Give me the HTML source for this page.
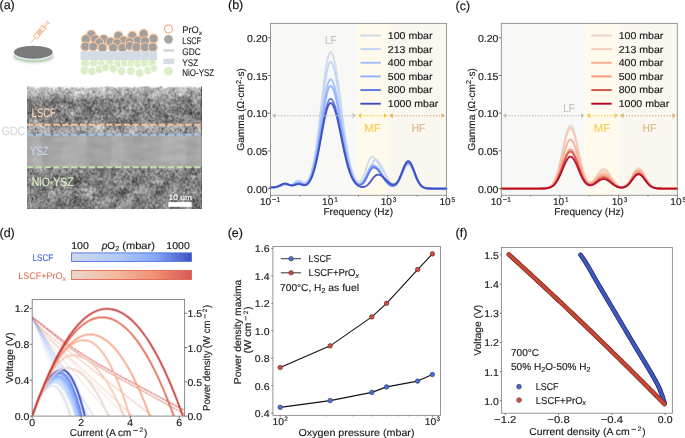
<!DOCTYPE html><html><head><meta charset="utf-8"><style>html,body{margin:0;padding:0;background:#fff;overflow:hidden}svg{display:block;will-change:transform}text{font-family:"Liberation Sans", sans-serif;text-rendering:geometricPrecision;stroke-width:0.15px;paint-order:stroke}</style></head><body>
<svg width="685" height="438" viewBox="0 0 685 438">
<defs>
<filter id="semnoise" x="0" y="0" width="100%" height="100%" color-interpolation-filters="sRGB">
 <feTurbulence type="fractalNoise" baseFrequency="0.38" numOctaves="3" seed="7" result="n"/>
 <feColorMatrix in="n" type="matrix" values="1 0 0 0 0  1 0 0 0 0  1 0 0 0 0  0 0 0 0 1" result="g"/>
 <feTurbulence type="fractalNoise" baseFrequency="0.09" numOctaves="2" seed="11" result="n2"/>
 <feColorMatrix in="n2" type="matrix" values="0 1 0 0 0  0 1 0 0 0  0 1 0 0 0  0 0 0 0 1" result="g2"/>
 <feComposite in="g" in2="SourceGraphic" operator="arithmetic" k1="0" k2="0.55" k3="1" k4="-0.275" result="a1"/>
 <feComposite in="g2" in2="a1" operator="arithmetic" k1="0" k2="0.5" k3="1" k4="-0.25"/>
</filter>
<filter id="semsmooth" x="0" y="0" width="100%" height="100%" color-interpolation-filters="sRGB">
 <feTurbulence type="fractalNoise" baseFrequency="0.06 0.16" numOctaves="3" seed="5" result="n"/>
 <feColorMatrix in="n" type="matrix" values="1 0 0 0 0  1 0 0 0 0  1 0 0 0 0  0 0 0 0 1" result="g"/>
 <feComposite in="g" in2="SourceGraphic" operator="arithmetic" k1="0" k2="0.16" k3="1" k4="-0.08"/>
</filter>
<filter id="blur06" x="-5%" y="-5%" width="110%" height="110%"><feGaussianBlur stdDeviation="1.0"/></filter>
<filter id="shadow" x="-20%" y="-50%" width="140%" height="200%"><feGaussianBlur stdDeviation="1.5"/></filter>
<linearGradient id="cbb" x1="0" x2="1" y1="0" y2="0">
 <stop offset="0" stop-color="#cdd8ec"/><stop offset="0.35" stop-color="#b4cdf9"/><stop offset="0.7" stop-color="#86a8f8"/><stop offset="1" stop-color="#3d4fc2"/>
</linearGradient>
<linearGradient id="cbr" x1="0" x2="1" y1="0" y2="0">
 <stop offset="0" stop-color="#ead6cc"/><stop offset="0.35" stop-color="#f4bca3"/><stop offset="0.7" stop-color="#ef8e72"/><stop offset="1" stop-color="#d6595a"/>
</linearGradient>
</defs>
<rect x="0" y="0" width="685" height="438" fill="#ffffff"/>
<text x="-0.5" y="9" font-size="12.5" text-anchor="start" fill="#111" stroke="#111">(a)</text>
<text x="228" y="9" font-size="12.5" text-anchor="start" fill="#111" stroke="#111">(b)</text>
<text x="455.5" y="10" font-size="12.5" text-anchor="start" fill="#111" stroke="#111">(c)</text>
<text x="-0.5" y="236.5" font-size="12.5" text-anchor="start" fill="#111" stroke="#111">(d)</text>
<text x="227.7" y="236.5" font-size="12.5" text-anchor="start" fill="#111" stroke="#111">(e)</text>
<text x="455.5" y="237" font-size="12.5" text-anchor="start" fill="#111" stroke="#111">(f)</text>
<ellipse cx="33.6" cy="56.5" rx="20" ry="6.2" fill="#000" opacity="0.22" filter="url(#shadow)"/>
<ellipse cx="33.3" cy="55.4" rx="19.2" ry="6.3" fill="#a9d18e"/>
<ellipse cx="33.3" cy="54.3" rx="19.3" ry="6.3" fill="#e2e8f3"/>
<ellipse cx="33.3" cy="52.2" rx="19.3" ry="6.5" fill="#7a7a7a"/>
<g transform="translate(30.4 43.2) rotate(-50)" stroke="#f0ad80" stroke-width="0.7" fill="none" stroke-linecap="round"><line x1="0" y1="0" x2="7.5" y2="0"/><rect x="7.5" y="-2.4" width="14" height="4.8" fill="#fdf0e6"/><rect x="11.5" y="-2.1" width="6" height="4.2" fill="#f6c6a4" stroke="none"/><line x1="21" y1="-3.4" x2="21" y2="3.4"/><line x1="21" y1="0.8" x2="27.5" y2="0.8"/><line x1="21" y1="-0.8" x2="27.5" y2="-0.8"/><line x1="27.5" y1="-2.2" x2="27.5" y2="2.2"/></g>
<circle cx="85.3" cy="63.5" r="4.4" fill="#dcedc8" stroke="#ffffff" stroke-width="0.8"/>
<circle cx="93.9" cy="62.8" r="4.3" fill="#dcedc8" stroke="#ffffff" stroke-width="0.8"/>
<circle cx="101.5" cy="63.8" r="4.3" fill="#dcedc8" stroke="#ffffff" stroke-width="0.8"/>
<circle cx="109.8" cy="62.8" r="4.4" fill="#dcedc8" stroke="#ffffff" stroke-width="0.8"/>
<circle cx="117.7" cy="63.5" r="4.3" fill="#dcedc8" stroke="#ffffff" stroke-width="0.8"/>
<circle cx="124.5" cy="62.8" r="4.2" fill="#dcedc8" stroke="#ffffff" stroke-width="0.8"/>
<circle cx="131.3" cy="63" r="4.4" fill="#dcedc8" stroke="#ffffff" stroke-width="0.8"/>
<circle cx="138" cy="63.5" r="4.2" fill="#dcedc8" stroke="#ffffff" stroke-width="0.8"/>
<circle cx="144.6" cy="62.8" r="4.4" fill="#dcedc8" stroke="#ffffff" stroke-width="0.8"/>
<circle cx="152.4" cy="63.3" r="4.2" fill="#dcedc8" stroke="#ffffff" stroke-width="0.8"/>
<circle cx="84.6" cy="70.6" r="4.4" fill="#dcedc8" stroke="#ffffff" stroke-width="0.8"/>
<circle cx="92.2" cy="71.4" r="4.4" fill="#dcedc8" stroke="#ffffff" stroke-width="0.8"/>
<circle cx="99.4" cy="69.4" r="4.3" fill="#dcedc8" stroke="#ffffff" stroke-width="0.8"/>
<circle cx="105.6" cy="67.6" r="4" fill="#dcedc8" stroke="#ffffff" stroke-width="0.8"/>
<circle cx="113.1" cy="68.8" r="4.3" fill="#dcedc8" stroke="#ffffff" stroke-width="0.8"/>
<circle cx="121.6" cy="71.2" r="4.4" fill="#dcedc8" stroke="#ffffff" stroke-width="0.8"/>
<circle cx="130.8" cy="71" r="4.4" fill="#dcedc8" stroke="#ffffff" stroke-width="0.8"/>
<circle cx="139.6" cy="73" r="4.4" fill="#dcedc8" stroke="#ffffff" stroke-width="0.8"/>
<circle cx="148.2" cy="70.4" r="4.4" fill="#dcedc8" stroke="#ffffff" stroke-width="0.8"/>
<circle cx="153.8" cy="68.5" r="3.8" fill="#dcedc8" stroke="#ffffff" stroke-width="0.8"/>
<circle cx="91.2" cy="34.6" r="4.45" fill="#a0a0a0" stroke="#f8c29a" stroke-width="1.2"/>
<circle cx="118.4" cy="35.9" r="4.45" fill="#a0a0a0" stroke="#f8c29a" stroke-width="1.2"/>
<circle cx="132.3" cy="35.9" r="4.45" fill="#a0a0a0" stroke="#f8c29a" stroke-width="1.2"/>
<circle cx="143.6" cy="33.9" r="4.45" fill="#a0a0a0" stroke="#f8c29a" stroke-width="1.2"/>
<circle cx="153.5" cy="38.6" r="4.45" fill="#a0a0a0" stroke="#f8c29a" stroke-width="1.2"/>
<circle cx="85.9" cy="39.2" r="4.45" fill="#a0a0a0" stroke="#f8c29a" stroke-width="1.2"/>
<circle cx="95.2" cy="39.2" r="4.45" fill="#a0a0a0" stroke="#f8c29a" stroke-width="1.2"/>
<circle cx="103.8" cy="39.2" r="4.45" fill="#a0a0a0" stroke="#f8c29a" stroke-width="1.2"/>
<circle cx="110.5" cy="41.9" r="4.45" fill="#a0a0a0" stroke="#f8c29a" stroke-width="1.2"/>
<circle cx="123.7" cy="40.5" r="4.45" fill="#a0a0a0" stroke="#f8c29a" stroke-width="1.2"/>
<circle cx="137.6" cy="40.5" r="4.45" fill="#a0a0a0" stroke="#f8c29a" stroke-width="1.2"/>
<circle cx="144.9" cy="41.2" r="4.45" fill="#a0a0a0" stroke="#f8c29a" stroke-width="1.2"/>
<circle cx="99.2" cy="42.5" r="4.45" fill="#a0a0a0" stroke="#f8c29a" stroke-width="1.2"/>
<circle cx="117" cy="43" r="4.45" fill="#a0a0a0" stroke="#f8c29a" stroke-width="1.2"/>
<circle cx="129.5" cy="42" r="4.45" fill="#a0a0a0" stroke="#f8c29a" stroke-width="1.2"/>
<circle cx="85.3" cy="46.5" r="4.45" fill="#a0a0a0" stroke="#f8c29a" stroke-width="1.2"/>
<circle cx="93.2" cy="46.5" r="4.45" fill="#a0a0a0" stroke="#f8c29a" stroke-width="1.2"/>
<circle cx="102.5" cy="47.8" r="4.45" fill="#a0a0a0" stroke="#f8c29a" stroke-width="1.2"/>
<circle cx="113.1" cy="47.8" r="4.45" fill="#a0a0a0" stroke="#f8c29a" stroke-width="1.2"/>
<circle cx="122.4" cy="47.8" r="4.45" fill="#a0a0a0" stroke="#f8c29a" stroke-width="1.2"/>
<circle cx="129.7" cy="45.8" r="4.45" fill="#a0a0a0" stroke="#f8c29a" stroke-width="1.2"/>
<circle cx="136.3" cy="47.2" r="4.45" fill="#a0a0a0" stroke="#f8c29a" stroke-width="1.2"/>
<circle cx="144.9" cy="47.2" r="4.45" fill="#a0a0a0" stroke="#f8c29a" stroke-width="1.2"/>
<circle cx="152.8" cy="47.2" r="4.45" fill="#a0a0a0" stroke="#f8c29a" stroke-width="1.2"/>
<rect x="80.6" y="51.1" width="76.5" height="8.9" fill="#d6dce5"/>
<circle cx="168.5" cy="28.9" r="4" fill="#ffffff" stroke="#f4b183" stroke-width="1.3"/>
<circle cx="168.5" cy="39.3" r="4.4" fill="#a6a6a6" stroke="none" stroke-width="0"/>
<rect x="163.4" y="49" width="11" height="2.8" fill="#d9d9d9"/>
<rect x="163.4" y="58.6" width="11" height="5.5" fill="#d6dce5"/>
<circle cx="168.5" cy="71.2" r="4.4" fill="#dcedc8" stroke="none" stroke-width="0"/>
<text x="182.3" y="33" font-size="9.6" text-anchor="start" fill="#262626" stroke="#262626" textLength="16.5" lengthAdjust="spacingAndGlyphs">PrO</text>
<text x="198.9" y="35" font-size="6.2" text-anchor="start" fill="#262626" stroke="#262626">x</text>
<text x="182.3" y="43.8" font-size="9.6" text-anchor="start" fill="#262626" stroke="#262626" textLength="18.8" lengthAdjust="spacingAndGlyphs">LSCF</text>
<text x="182.3" y="54.8" font-size="9.6" text-anchor="start" fill="#262626" stroke="#262626" textLength="18.3" lengthAdjust="spacingAndGlyphs">GDC</text>
<text x="182.3" y="65.5" font-size="9.6" text-anchor="start" fill="#262626" stroke="#262626" textLength="15.8" lengthAdjust="spacingAndGlyphs">YSZ</text>
<text x="182.3" y="76.2" font-size="9.6" text-anchor="start" fill="#262626" stroke="#262626" textLength="31.8" lengthAdjust="spacingAndGlyphs">NiO-YSZ</text>
<svg x="27" y="86.2" width="174.2" height="122.7" overflow="hidden">
<linearGradient id="semtop" x1="0" x2="0" y1="0" y2="1"><stop offset="0" stop-color="#bcbcbc"/><stop offset="0.6" stop-color="#ababab"/><stop offset="1" stop-color="#868686"/></linearGradient>
<g filter="url(#semnoise)">
<rect x="0" y="0" width="174.2" height="14" fill="url(#semtop)"/>
<rect x="0" y="14" width="174.2" height="24.3" fill="#828282"/>
<rect x="0" y="38.3" width="174.2" height="10.2" fill="#a4a4a4"/>
<rect x="0" y="81" width="174.2" height="42" fill="#818181"/>
</g>
<g filter="url(#semsmooth)">
<rect x="0" y="48.5" width="174.2" height="32.5" fill="#aaaaaa"/>
</g>
<g filter="url(#blur06)" opacity="0.4">
<polygon points="-4,48.5 5.32,48.5 6.84,81 -2.48,81" fill="#a8a8a8"/>
<polygon points="4.76,48.5 14.49,48.5 16.83,81 7.1,81" fill="#b6b6b6"/>
<polygon points="13.04,48.5 25.26,48.5 27.56,81 15.34,81" fill="#969696"/>
<polygon points="24.37,48.5 37.05,48.5 33.61,81 20.92,81" fill="#a4a4a4"/>
<polygon points="37.82,48.5 51.37,48.5 50.86,81 37.31,81" fill="#b0b0b0"/>
<polygon points="51.22,48.5 59.49,48.5 58.12,81 49.85,81" fill="#b5b5b5"/>
<polygon points="59.57,48.5 72.76,48.5 76.26,81 63.07,81" fill="#979797"/>
<polygon points="71.22,48.5 85.77,48.5 82.76,81 68.22,81" fill="#979797"/>
<polygon points="85.12,48.5 97.54,48.5 96.28,81 83.87,81" fill="#b5b5b5"/>
<polygon points="95.99,48.5 109.31,48.5 109.07,81 95.75,81" fill="#a5a5a5"/>
<polygon points="107.54,48.5 117.12,48.5 118.51,81 108.93,81" fill="#9a9a9a"/>
<polygon points="115.48,48.5 127.3,48.5 129.91,81 118.1,81" fill="#a2a2a2"/>
<polygon points="126.32,48.5 135.49,48.5 135.78,81 126.61,81" fill="#a8a8a8"/>
<polygon points="134.58,48.5 146.19,48.5 145.28,81 133.67,81" fill="#b5b5b5"/>
<polygon points="145.35,48.5 153.57,48.5 150.32,81 142.1,81" fill="#b5b5b5"/>
<polygon points="151.58,48.5 160.14,48.5 160.93,81 152.37,81" fill="#b7b7b7"/>
<polygon points="158.8,48.5 171.68,48.5 172.13,81 159.26,81" fill="#9d9d9d"/>
<polygon points="170.22,48.5 179.58,48.5 178.36,81 169,81" fill="#ababab"/>
</g>
<g>
<ellipse cx="104.04" cy="41.57" rx="0.46" ry="0.67" fill="#3a3a3a" opacity="0.63"/>
<ellipse cx="135.36" cy="42.25" rx="0.81" ry="1.28" fill="#3a3a3a" opacity="0.66"/>
<ellipse cx="166.93" cy="42.57" rx="0.99" ry="1.56" fill="#3a3a3a" opacity="0.54"/>
<ellipse cx="153.85" cy="43.41" rx="0.63" ry="0.85" fill="#3a3a3a" opacity="0.65"/>
<ellipse cx="28.27" cy="39.19" rx="0.88" ry="1.37" fill="#3a3a3a" opacity="0.49"/>
<ellipse cx="145.81" cy="39.02" rx="0.55" ry="0.89" fill="#3a3a3a" opacity="0.47"/>
<ellipse cx="29.72" cy="39.19" rx="0.6" ry="1.5" fill="#3a3a3a" opacity="0.69"/>
<ellipse cx="129.93" cy="43.29" rx="0.55" ry="1.56" fill="#3a3a3a" opacity="0.51"/>
<ellipse cx="126.92" cy="38.78" rx="0.53" ry="1.44" fill="#3a3a3a" opacity="0.62"/>
<ellipse cx="153.55" cy="44.51" rx="0.66" ry="1.18" fill="#3a3a3a" opacity="0.64"/>
<ellipse cx="53.65" cy="43.84" rx="0.57" ry="1.37" fill="#3a3a3a" opacity="0.3"/>
<ellipse cx="119.38" cy="48.04" rx="0.41" ry="1.19" fill="#3a3a3a" opacity="0.56"/>
<ellipse cx="148.36" cy="44.34" rx="0.55" ry="1.01" fill="#3a3a3a" opacity="0.68"/>
<ellipse cx="157.76" cy="39.84" rx="0.46" ry="0.69" fill="#3a3a3a" opacity="0.31"/>
<ellipse cx="77.84" cy="39.91" rx="0.92" ry="1.26" fill="#3a3a3a" opacity="0.35"/>
<ellipse cx="93.83" cy="41.74" rx="0.7" ry="0.82" fill="#3a3a3a" opacity="0.37"/>
<ellipse cx="32.04" cy="42.28" rx="0.83" ry="1.15" fill="#3a3a3a" opacity="0.32"/>
<ellipse cx="123.83" cy="47.24" rx="0.86" ry="1.39" fill="#3a3a3a" opacity="0.3"/>
<ellipse cx="80.81" cy="39.13" rx="0.86" ry="0.78" fill="#3a3a3a" opacity="0.58"/>
<ellipse cx="44.06" cy="45.47" rx="0.59" ry="0.64" fill="#3a3a3a" opacity="0.46"/>
<ellipse cx="53.9" cy="47.51" rx="0.58" ry="1.1" fill="#3a3a3a" opacity="0.52"/>
<ellipse cx="165.18" cy="39.49" rx="0.76" ry="1.11" fill="#3a3a3a" opacity="0.59"/>
<ellipse cx="168.47" cy="41.6" rx="0.82" ry="1.13" fill="#3a3a3a" opacity="0.52"/>
<ellipse cx="11.1" cy="46.65" rx="0.99" ry="0.96" fill="#3a3a3a" opacity="0.43"/>
<ellipse cx="173.02" cy="39.58" rx="0.45" ry="0.67" fill="#3a3a3a" opacity="0.63"/>
<ellipse cx="132.38" cy="42.98" rx="0.77" ry="0.62" fill="#3a3a3a" opacity="0.56"/>
<ellipse cx="77.11" cy="43.67" rx="0.63" ry="1" fill="#3a3a3a" opacity="0.39"/>
<ellipse cx="8.5" cy="42.84" rx="0.55" ry="1.3" fill="#3a3a3a" opacity="0.63"/>
<ellipse cx="126.08" cy="43.06" rx="0.54" ry="0.99" fill="#3a3a3a" opacity="0.49"/>
<ellipse cx="110.06" cy="48.13" rx="0.45" ry="1.08" fill="#3a3a3a" opacity="0.5"/>
<ellipse cx="124.93" cy="47.4" rx="0.87" ry="1.23" fill="#3a3a3a" opacity="0.6"/>
<ellipse cx="116.37" cy="47.09" rx="0.82" ry="1.28" fill="#3a3a3a" opacity="0.4"/>
<ellipse cx="159.69" cy="42.36" rx="0.77" ry="1.42" fill="#3a3a3a" opacity="0.69"/>
<ellipse cx="172.32" cy="38.56" rx="0.59" ry="0.91" fill="#3a3a3a" opacity="0.46"/>
<ellipse cx="25.33" cy="44.03" rx="0.45" ry="0.9" fill="#3a3a3a" opacity="0.68"/>
<ellipse cx="129.32" cy="25.1" rx="0.6" ry="1.36" fill="#2e2e2e" opacity="0.41"/>
<ellipse cx="35.85" cy="22.05" rx="1.08" ry="1.11" fill="#2e2e2e" opacity="0.28"/>
<ellipse cx="165.71" cy="21.73" rx="0.73" ry="1.26" fill="#2e2e2e" opacity="0.25"/>
<ellipse cx="118.66" cy="18.8" rx="1.04" ry="0.75" fill="#2e2e2e" opacity="0.31"/>
<ellipse cx="163.88" cy="25.21" rx="0.89" ry="1.06" fill="#2e2e2e" opacity="0.28"/>
<ellipse cx="30.37" cy="23.23" rx="0.75" ry="0.67" fill="#2e2e2e" opacity="0.49"/>
<ellipse cx="5.99" cy="33.45" rx="1.34" ry="1.13" fill="#2e2e2e" opacity="0.21"/>
<ellipse cx="87.31" cy="14.94" rx="1.05" ry="1.13" fill="#2e2e2e" opacity="0.27"/>
<ellipse cx="1.32" cy="27.07" rx="0.59" ry="0.78" fill="#2e2e2e" opacity="0.34"/>
<ellipse cx="155.81" cy="22.88" rx="0.62" ry="1.21" fill="#2e2e2e" opacity="0.45"/>
<ellipse cx="92.22" cy="15.18" rx="0.67" ry="0.86" fill="#2e2e2e" opacity="0.37"/>
<ellipse cx="39.22" cy="33.26" rx="1.26" ry="1.33" fill="#2e2e2e" opacity="0.47"/>
<ellipse cx="3.07" cy="27.97" rx="0.57" ry="1.31" fill="#2e2e2e" opacity="0.42"/>
<ellipse cx="132.27" cy="18.52" rx="0.55" ry="1.23" fill="#2e2e2e" opacity="0.38"/>
<ellipse cx="108.05" cy="25.31" rx="1.22" ry="0.8" fill="#2e2e2e" opacity="0.28"/>
<ellipse cx="61.51" cy="21.15" rx="1.06" ry="1.3" fill="#2e2e2e" opacity="0.22"/>
<ellipse cx="11.78" cy="26.28" rx="1.11" ry="0.67" fill="#2e2e2e" opacity="0.28"/>
<ellipse cx="10.24" cy="14.89" rx="0.95" ry="1.11" fill="#2e2e2e" opacity="0.4"/>
<ellipse cx="27.56" cy="16.5" rx="1.34" ry="0.98" fill="#2e2e2e" opacity="0.32"/>
<ellipse cx="120.35" cy="31.47" rx="0.97" ry="0.57" fill="#2e2e2e" opacity="0.45"/>
<ellipse cx="37.23" cy="14.97" rx="0.82" ry="0.98" fill="#2e2e2e" opacity="0.39"/>
<ellipse cx="30.33" cy="31.03" rx="0.94" ry="0.65" fill="#2e2e2e" opacity="0.46"/>
<ellipse cx="140.53" cy="35.75" rx="1.11" ry="0.7" fill="#2e2e2e" opacity="0.43"/>
<ellipse cx="157.26" cy="26.8" rx="1.32" ry="1.37" fill="#2e2e2e" opacity="0.32"/>
<ellipse cx="164.07" cy="36.48" rx="1.21" ry="0.51" fill="#2e2e2e" opacity="0.31"/>
<ellipse cx="106.89" cy="28.57" rx="1.18" ry="1.08" fill="#2e2e2e" opacity="0.25"/>
<ellipse cx="162.15" cy="26.87" rx="1.29" ry="0.69" fill="#2e2e2e" opacity="0.5"/>
<ellipse cx="96.66" cy="32.61" rx="1.17" ry="1.29" fill="#2e2e2e" opacity="0.31"/>
<ellipse cx="14.43" cy="23.73" rx="0.66" ry="0.99" fill="#2e2e2e" opacity="0.44"/>
<ellipse cx="63.1" cy="17.15" rx="0.52" ry="0.88" fill="#2e2e2e" opacity="0.37"/>
<ellipse cx="4.58" cy="29.97" rx="0.69" ry="0.6" fill="#2e2e2e" opacity="0.48"/>
<ellipse cx="91.11" cy="35.48" rx="0.96" ry="0.61" fill="#2e2e2e" opacity="0.27"/>
<ellipse cx="73.91" cy="29.38" rx="1.19" ry="1.18" fill="#2e2e2e" opacity="0.4"/>
<ellipse cx="44.06" cy="24.32" rx="0.84" ry="0.94" fill="#2e2e2e" opacity="0.28"/>
<ellipse cx="93.69" cy="25.01" rx="0.53" ry="1.24" fill="#2e2e2e" opacity="0.38"/>
<ellipse cx="139.84" cy="31.68" rx="1.16" ry="1.39" fill="#2e2e2e" opacity="0.31"/>
<ellipse cx="68.57" cy="14.09" rx="1.1" ry="1.02" fill="#2e2e2e" opacity="0.37"/>
<ellipse cx="173.79" cy="18.73" rx="0.7" ry="1.16" fill="#2e2e2e" opacity="0.44"/>
<ellipse cx="84.11" cy="15.32" rx="0.83" ry="1.24" fill="#2e2e2e" opacity="0.35"/>
<ellipse cx="80.39" cy="23.35" rx="1.07" ry="1.04" fill="#2e2e2e" opacity="0.41"/>
<ellipse cx="150.73" cy="32.03" rx="0.84" ry="0.73" fill="#2e2e2e" opacity="0.43"/>
<ellipse cx="138.13" cy="36.28" rx="0.68" ry="1.26" fill="#2e2e2e" opacity="0.47"/>
<ellipse cx="13.45" cy="21.39" rx="1.07" ry="0.63" fill="#2e2e2e" opacity="0.45"/>
<ellipse cx="46.14" cy="30.38" rx="0.77" ry="0.7" fill="#2e2e2e" opacity="0.26"/>
<ellipse cx="86.68" cy="31.11" rx="0.7" ry="1.12" fill="#2e2e2e" opacity="0.3"/>
<ellipse cx="113.1" cy="22.84" rx="0.67" ry="0.63" fill="#2e2e2e" opacity="0.22"/>
<ellipse cx="121.3" cy="23.93" rx="0.61" ry="1.29" fill="#2e2e2e" opacity="0.4"/>
<ellipse cx="3.69" cy="31.39" rx="1.04" ry="0.9" fill="#2e2e2e" opacity="0.35"/>
<ellipse cx="167.62" cy="22.97" rx="1.07" ry="1.07" fill="#2e2e2e" opacity="0.31"/>
<ellipse cx="60.34" cy="32.12" rx="1.07" ry="0.91" fill="#2e2e2e" opacity="0.35"/>
<ellipse cx="38.93" cy="32.95" rx="0.52" ry="1.08" fill="#2e2e2e" opacity="0.34"/>
<ellipse cx="38.57" cy="28.08" rx="1.02" ry="0.58" fill="#2e2e2e" opacity="0.35"/>
<ellipse cx="28.76" cy="33.18" rx="0.79" ry="0.8" fill="#2e2e2e" opacity="0.26"/>
<ellipse cx="8.38" cy="18.48" rx="0.64" ry="1.06" fill="#2e2e2e" opacity="0.45"/>
<ellipse cx="38.5" cy="16.68" rx="0.98" ry="0.6" fill="#2e2e2e" opacity="0.32"/>
<ellipse cx="132.54" cy="18.88" rx="1.13" ry="0.98" fill="#2e2e2e" opacity="0.23"/>
<ellipse cx="42.25" cy="28.39" rx="0.59" ry="0.68" fill="#2e2e2e" opacity="0.37"/>
<ellipse cx="142.51" cy="26.49" rx="1.1" ry="0.51" fill="#2e2e2e" opacity="0.29"/>
<ellipse cx="55.42" cy="35.92" rx="0.82" ry="1.21" fill="#2e2e2e" opacity="0.21"/>
<ellipse cx="86.83" cy="35.39" rx="1.19" ry="1.02" fill="#2e2e2e" opacity="0.25"/>
<ellipse cx="161.35" cy="15.91" rx="1.37" ry="1.2" fill="#2e2e2e" opacity="0.42"/>
<ellipse cx="92.44" cy="17.94" rx="0.81" ry="1.1" fill="#2e2e2e" opacity="0.4"/>
<ellipse cx="67.82" cy="33.23" rx="0.55" ry="0.76" fill="#2e2e2e" opacity="0.23"/>
<ellipse cx="56.58" cy="33.03" rx="1.18" ry="0.63" fill="#2e2e2e" opacity="0.29"/>
<ellipse cx="19.53" cy="29.89" rx="0.9" ry="0.71" fill="#2e2e2e" opacity="0.31"/>
<ellipse cx="150.72" cy="24.2" rx="1.12" ry="1.06" fill="#2e2e2e" opacity="0.34"/>
<ellipse cx="96.93" cy="22.73" rx="0.68" ry="0.94" fill="#2e2e2e" opacity="0.29"/>
<ellipse cx="57.5" cy="18.48" rx="1.32" ry="0.88" fill="#2e2e2e" opacity="0.26"/>
<ellipse cx="5.53" cy="19.14" rx="1.28" ry="0.8" fill="#2e2e2e" opacity="0.4"/>
<ellipse cx="40.15" cy="29.61" rx="0.91" ry="1.16" fill="#2e2e2e" opacity="0.36"/>
<ellipse cx="65.39" cy="20.72" rx="1.03" ry="1.25" fill="#2e2e2e" opacity="0.41"/>
<ellipse cx="83.64" cy="21.88" rx="1.3" ry="1.26" fill="#2e2e2e" opacity="0.24"/>
<ellipse cx="118.32" cy="32.53" rx="1.11" ry="1.37" fill="#2e2e2e" opacity="0.46"/>
<ellipse cx="42.86" cy="37.92" rx="0.79" ry="0.84" fill="#2e2e2e" opacity="0.49"/>
<ellipse cx="29.14" cy="23.49" rx="1.06" ry="0.75" fill="#2e2e2e" opacity="0.28"/>
<ellipse cx="138.35" cy="28.7" rx="1.17" ry="1.21" fill="#2e2e2e" opacity="0.46"/>
<ellipse cx="155.66" cy="33.76" rx="1.38" ry="0.95" fill="#2e2e2e" opacity="0.41"/>
<ellipse cx="89.52" cy="37.26" rx="1.09" ry="0.89" fill="#2e2e2e" opacity="0.4"/>
<ellipse cx="51.37" cy="17.11" rx="0.85" ry="0.62" fill="#2e2e2e" opacity="0.2"/>
<ellipse cx="16.12" cy="24.9" rx="1.19" ry="0.54" fill="#2e2e2e" opacity="0.39"/>
<ellipse cx="19.39" cy="26.25" rx="0.77" ry="0.9" fill="#2e2e2e" opacity="0.41"/>
<ellipse cx="72.02" cy="23.4" rx="1.16" ry="0.6" fill="#2e2e2e" opacity="0.3"/>
<ellipse cx="122.26" cy="34.04" rx="1.38" ry="0.73" fill="#2e2e2e" opacity="0.39"/>
<ellipse cx="54.46" cy="30.84" rx="1.26" ry="0.62" fill="#2e2e2e" opacity="0.3"/>
<ellipse cx="163.09" cy="22.46" rx="1.07" ry="1.24" fill="#2e2e2e" opacity="0.28"/>
<ellipse cx="136.48" cy="14.09" rx="0.81" ry="0.65" fill="#2e2e2e" opacity="0.3"/>
<ellipse cx="37.13" cy="14.61" rx="1.22" ry="0.66" fill="#2e2e2e" opacity="0.37"/>
<ellipse cx="96.54" cy="34.39" rx="1.26" ry="1.06" fill="#2e2e2e" opacity="0.25"/>
<ellipse cx="132.54" cy="16.34" rx="1.34" ry="0.78" fill="#2e2e2e" opacity="0.28"/>
<ellipse cx="37.73" cy="23.51" rx="1.21" ry="1.27" fill="#2e2e2e" opacity="0.42"/>
<ellipse cx="127.05" cy="19.86" rx="0.79" ry="0.77" fill="#2e2e2e" opacity="0.33"/>
<ellipse cx="152.33" cy="37.9" rx="0.58" ry="1.37" fill="#2e2e2e" opacity="0.48"/>
<ellipse cx="80.29" cy="30.63" rx="1.21" ry="0.67" fill="#2e2e2e" opacity="0.38"/>
<ellipse cx="171.01" cy="35.13" rx="1.32" ry="0.58" fill="#2e2e2e" opacity="0.41"/>
<ellipse cx="84.75" cy="35.82" rx="0.65" ry="0.99" fill="#2e2e2e" opacity="0.24"/>
<ellipse cx="140.12" cy="31.34" rx="0.53" ry="0.78" fill="#2e2e2e" opacity="0.24"/>
<ellipse cx="110.7" cy="29.12" rx="0.56" ry="1.36" fill="#2e2e2e" opacity="0.49"/>
<ellipse cx="76.77" cy="27.78" rx="0.83" ry="1.05" fill="#2e2e2e" opacity="0.32"/>
<ellipse cx="76.77" cy="31.99" rx="0.67" ry="0.77" fill="#2e2e2e" opacity="0.43"/>
<ellipse cx="39.19" cy="15.65" rx="1.32" ry="0.64" fill="#2e2e2e" opacity="0.32"/>
<ellipse cx="54.61" cy="20.28" rx="0.82" ry="0.98" fill="#2e2e2e" opacity="0.23"/>
<ellipse cx="92.89" cy="15.23" rx="0.57" ry="0.68" fill="#2e2e2e" opacity="0.27"/>
<ellipse cx="59.49" cy="20.99" rx="1.25" ry="1.09" fill="#2e2e2e" opacity="0.34"/>
<ellipse cx="134.37" cy="30.46" rx="0.78" ry="1.05" fill="#2e2e2e" opacity="0.42"/>
<ellipse cx="93.08" cy="32.06" rx="1.07" ry="1.34" fill="#2e2e2e" opacity="0.28"/>
<ellipse cx="116.99" cy="37.44" rx="0.98" ry="1.31" fill="#2e2e2e" opacity="0.23"/>
<ellipse cx="126.04" cy="20.37" rx="1.18" ry="0.88" fill="#2e2e2e" opacity="0.36"/>
<ellipse cx="43.29" cy="20.17" rx="1.28" ry="1.08" fill="#2e2e2e" opacity="0.39"/>
<ellipse cx="20.16" cy="21.03" rx="1.37" ry="0.68" fill="#2e2e2e" opacity="0.36"/>
<ellipse cx="121.34" cy="26.25" rx="1" ry="1.37" fill="#2e2e2e" opacity="0.43"/>
<ellipse cx="41.29" cy="24.33" rx="0.88" ry="1.12" fill="#2e2e2e" opacity="0.4"/>
<ellipse cx="45.46" cy="30.62" rx="0.89" ry="0.51" fill="#2e2e2e" opacity="0.29"/>
<ellipse cx="65.65" cy="18.73" rx="1.1" ry="1.39" fill="#2e2e2e" opacity="0.48"/>
<ellipse cx="109.68" cy="34.57" rx="0.94" ry="1.03" fill="#2e2e2e" opacity="0.47"/>
<ellipse cx="10.4" cy="22.7" rx="0.84" ry="0.81" fill="#2e2e2e" opacity="0.33"/>
<ellipse cx="9.96" cy="30.3" rx="1.36" ry="0.71" fill="#2e2e2e" opacity="0.26"/>
<ellipse cx="58.3" cy="33.12" rx="0.7" ry="1.19" fill="#2e2e2e" opacity="0.25"/>
<ellipse cx="103.66" cy="31.31" rx="1.11" ry="0.58" fill="#2e2e2e" opacity="0.49"/>
<ellipse cx="147.72" cy="25.54" rx="1.27" ry="1.04" fill="#2e2e2e" opacity="0.25"/>
<ellipse cx="69.14" cy="33.7" rx="0.92" ry="0.54" fill="#2e2e2e" opacity="0.25"/>
<ellipse cx="32.44" cy="23.1" rx="0.79" ry="0.67" fill="#e8e8e8" opacity="0.46"/>
<ellipse cx="167.72" cy="14.34" rx="0.8" ry="0.52" fill="#e8e8e8" opacity="0.51"/>
<ellipse cx="31.29" cy="6.08" rx="0.6" ry="0.47" fill="#e8e8e8" opacity="0.45"/>
<ellipse cx="113.73" cy="21.77" rx="0.88" ry="0.69" fill="#e8e8e8" opacity="0.33"/>
<ellipse cx="126.71" cy="16.47" rx="0.85" ry="0.99" fill="#e8e8e8" opacity="0.51"/>
<ellipse cx="43.62" cy="14.88" rx="0.7" ry="0.59" fill="#e8e8e8" opacity="0.34"/>
<ellipse cx="69.41" cy="25.62" rx="0.89" ry="0.86" fill="#e8e8e8" opacity="0.65"/>
<ellipse cx="139.59" cy="16.81" rx="0.79" ry="0.43" fill="#e8e8e8" opacity="0.62"/>
<ellipse cx="123.33" cy="11.55" rx="0.68" ry="0.56" fill="#e8e8e8" opacity="0.62"/>
<ellipse cx="74.33" cy="30.11" rx="0.95" ry="0.87" fill="#e8e8e8" opacity="0.45"/>
<ellipse cx="59.65" cy="36.05" rx="0.94" ry="0.51" fill="#e8e8e8" opacity="0.44"/>
<ellipse cx="137.29" cy="29.23" rx="0.57" ry="0.67" fill="#e8e8e8" opacity="0.68"/>
<ellipse cx="15.71" cy="11.87" rx="0.8" ry="0.94" fill="#e8e8e8" opacity="0.68"/>
<ellipse cx="81.77" cy="30.45" rx="0.98" ry="0.6" fill="#e8e8e8" opacity="0.39"/>
<ellipse cx="45.22" cy="30.17" rx="0.48" ry="0.73" fill="#e8e8e8" opacity="0.67"/>
<ellipse cx="35.02" cy="24.64" rx="0.72" ry="0.98" fill="#e8e8e8" opacity="0.51"/>
<ellipse cx="85.51" cy="34.53" rx="0.85" ry="0.49" fill="#e8e8e8" opacity="0.62"/>
<ellipse cx="69.53" cy="36.87" rx="0.98" ry="0.7" fill="#e8e8e8" opacity="0.47"/>
<ellipse cx="39.54" cy="11.94" rx="0.52" ry="0.5" fill="#e8e8e8" opacity="0.59"/>
<ellipse cx="8.95" cy="23.56" rx="0.76" ry="0.84" fill="#e8e8e8" opacity="0.53"/>
<ellipse cx="161.53" cy="12.13" rx="0.46" ry="0.75" fill="#e8e8e8" opacity="0.41"/>
<ellipse cx="172.13" cy="35.18" rx="0.81" ry="0.9" fill="#e8e8e8" opacity="0.4"/>
<ellipse cx="84.48" cy="15.78" rx="0.61" ry="0.62" fill="#e8e8e8" opacity="0.49"/>
<ellipse cx="113.93" cy="2.91" rx="0.72" ry="0.48" fill="#e8e8e8" opacity="0.69"/>
<ellipse cx="96.12" cy="23.21" rx="0.59" ry="0.82" fill="#e8e8e8" opacity="0.58"/>
<ellipse cx="158.54" cy="22.9" rx="0.56" ry="0.78" fill="#e8e8e8" opacity="0.32"/>
<ellipse cx="129.61" cy="13.04" rx="0.83" ry="0.48" fill="#e8e8e8" opacity="0.54"/>
<ellipse cx="29.45" cy="3.32" rx="0.56" ry="0.91" fill="#e8e8e8" opacity="0.46"/>
<ellipse cx="91.08" cy="30.45" rx="0.99" ry="0.56" fill="#e8e8e8" opacity="0.58"/>
<ellipse cx="136.19" cy="30.58" rx="0.61" ry="0.68" fill="#e8e8e8" opacity="0.61"/>
<ellipse cx="43.69" cy="19.49" rx="0.78" ry="0.91" fill="#e8e8e8" opacity="0.4"/>
<ellipse cx="115.9" cy="9.82" rx="0.49" ry="0.69" fill="#e8e8e8" opacity="0.56"/>
<ellipse cx="111.51" cy="36.13" rx="0.5" ry="0.72" fill="#e8e8e8" opacity="0.49"/>
<ellipse cx="45.09" cy="35.04" rx="0.49" ry="0.56" fill="#e8e8e8" opacity="0.32"/>
<ellipse cx="112.12" cy="25.68" rx="0.53" ry="0.95" fill="#e8e8e8" opacity="0.55"/>
<ellipse cx="35.12" cy="35.9" rx="0.91" ry="0.59" fill="#e8e8e8" opacity="0.65"/>
<ellipse cx="22.7" cy="14.52" rx="0.65" ry="0.97" fill="#e8e8e8" opacity="0.42"/>
<ellipse cx="67.2" cy="9.46" rx="0.89" ry="0.51" fill="#e8e8e8" opacity="0.64"/>
<ellipse cx="59.38" cy="21.8" rx="0.93" ry="0.56" fill="#e8e8e8" opacity="0.51"/>
<ellipse cx="110.78" cy="22.8" rx="0.64" ry="0.79" fill="#e8e8e8" opacity="0.43"/>
<ellipse cx="27.01" cy="2.32" rx="0.76" ry="0.74" fill="#e8e8e8" opacity="0.62"/>
<ellipse cx="27.31" cy="26.22" rx="0.67" ry="0.72" fill="#e8e8e8" opacity="0.63"/>
<ellipse cx="90.42" cy="17.68" rx="0.79" ry="0.49" fill="#e8e8e8" opacity="0.65"/>
<ellipse cx="90.13" cy="3.53" rx="0.69" ry="0.97" fill="#e8e8e8" opacity="0.69"/>
<ellipse cx="74.26" cy="11.56" rx="0.96" ry="0.57" fill="#e8e8e8" opacity="0.31"/>
<ellipse cx="43.04" cy="18.94" rx="0.8" ry="0.44" fill="#e8e8e8" opacity="0.43"/>
<ellipse cx="126.76" cy="14.4" rx="0.51" ry="0.83" fill="#e8e8e8" opacity="0.47"/>
<ellipse cx="121.07" cy="19.43" rx="0.89" ry="0.71" fill="#e8e8e8" opacity="0.69"/>
<ellipse cx="141.64" cy="27.98" rx="0.69" ry="0.77" fill="#e8e8e8" opacity="0.45"/>
<ellipse cx="13.3" cy="33.85" rx="0.88" ry="0.86" fill="#e8e8e8" opacity="0.64"/>
<ellipse cx="95.97" cy="37.8" rx="0.68" ry="0.99" fill="#e8e8e8" opacity="0.33"/>
<ellipse cx="65.92" cy="22.56" rx="0.89" ry="0.71" fill="#e8e8e8" opacity="0.62"/>
<ellipse cx="65.11" cy="26.37" rx="0.88" ry="0.76" fill="#e8e8e8" opacity="0.31"/>
<ellipse cx="114.44" cy="2" rx="0.58" ry="0.47" fill="#e8e8e8" opacity="0.61"/>
<ellipse cx="29.32" cy="27.89" rx="0.44" ry="0.52" fill="#e8e8e8" opacity="0.58"/>
<ellipse cx="161.06" cy="4.58" rx="0.77" ry="0.64" fill="#e8e8e8" opacity="0.55"/>
<ellipse cx="13.46" cy="2.6" rx="0.45" ry="0.93" fill="#e8e8e8" opacity="0.5"/>
<ellipse cx="106.7" cy="6.8" rx="0.81" ry="0.94" fill="#e8e8e8" opacity="0.38"/>
<ellipse cx="135.98" cy="32.55" rx="1" ry="0.74" fill="#e8e8e8" opacity="0.56"/>
<ellipse cx="60.08" cy="30.11" rx="0.59" ry="0.77" fill="#e8e8e8" opacity="0.55"/>
<ellipse cx="172.34" cy="30.34" rx="0.46" ry="0.51" fill="#e8e8e8" opacity="0.44"/>
<ellipse cx="69.04" cy="27.8" rx="0.56" ry="0.74" fill="#e8e8e8" opacity="0.48"/>
<ellipse cx="53.17" cy="25.13" rx="0.66" ry="0.99" fill="#e8e8e8" opacity="0.35"/>
<ellipse cx="156.58" cy="24.94" rx="0.68" ry="0.45" fill="#e8e8e8" opacity="0.56"/>
<ellipse cx="139.93" cy="14.59" rx="0.83" ry="0.72" fill="#e8e8e8" opacity="0.34"/>
<ellipse cx="149.7" cy="13.23" rx="0.69" ry="0.86" fill="#e8e8e8" opacity="0.65"/>
<ellipse cx="148.75" cy="15.23" rx="0.91" ry="0.49" fill="#e8e8e8" opacity="0.52"/>
<ellipse cx="75.33" cy="33.18" rx="0.83" ry="0.8" fill="#e8e8e8" opacity="0.62"/>
<ellipse cx="60.56" cy="17.99" rx="0.46" ry="0.61" fill="#e8e8e8" opacity="0.38"/>
<ellipse cx="127.4" cy="6.66" rx="0.95" ry="0.76" fill="#e8e8e8" opacity="0.48"/>
<ellipse cx="20.78" cy="18.08" rx="0.74" ry="0.49" fill="#e8e8e8" opacity="0.69"/>
<ellipse cx="62.86" cy="17.64" rx="0.57" ry="0.62" fill="#e8e8e8" opacity="0.41"/>
<ellipse cx="148.78" cy="4.58" rx="0.62" ry="0.76" fill="#e8e8e8" opacity="0.49"/>
<ellipse cx="56.51" cy="19.43" rx="0.44" ry="0.58" fill="#e8e8e8" opacity="0.47"/>
<ellipse cx="133.56" cy="17.49" rx="0.65" ry="0.79" fill="#e8e8e8" opacity="0.41"/>
<ellipse cx="95.84" cy="9.01" rx="0.77" ry="0.72" fill="#e8e8e8" opacity="0.56"/>
<ellipse cx="152.38" cy="30.62" rx="0.99" ry="0.54" fill="#e8e8e8" opacity="0.68"/>
<ellipse cx="77.48" cy="15.2" rx="0.67" ry="0.95" fill="#e8e8e8" opacity="0.68"/>
<ellipse cx="140.23" cy="12.85" rx="0.47" ry="0.52" fill="#e8e8e8" opacity="0.57"/>
<ellipse cx="122.32" cy="4.36" rx="0.4" ry="1" fill="#e8e8e8" opacity="0.44"/>
<ellipse cx="7.27" cy="18.76" rx="0.46" ry="0.89" fill="#e8e8e8" opacity="0.51"/>
<ellipse cx="106.65" cy="35.38" rx="0.47" ry="0.53" fill="#e8e8e8" opacity="0.61"/>
<ellipse cx="105.78" cy="17.78" rx="0.61" ry="0.77" fill="#e8e8e8" opacity="0.68"/>
<ellipse cx="165.25" cy="35.03" rx="0.99" ry="0.48" fill="#e8e8e8" opacity="0.31"/>
<ellipse cx="144.45" cy="10.9" rx="0.71" ry="0.68" fill="#e8e8e8" opacity="0.69"/>
<ellipse cx="77.11" cy="6.85" rx="0.52" ry="0.94" fill="#e8e8e8" opacity="0.63"/>
<ellipse cx="24.35" cy="36.69" rx="0.62" ry="0.84" fill="#e8e8e8" opacity="0.53"/>
<ellipse cx="149.47" cy="19.62" rx="0.42" ry="0.73" fill="#e8e8e8" opacity="0.64"/>
<ellipse cx="71.56" cy="31.75" rx="0.67" ry="0.62" fill="#e8e8e8" opacity="0.44"/>
<ellipse cx="39.81" cy="20.02" rx="0.98" ry="0.75" fill="#e8e8e8" opacity="0.61"/>
<ellipse cx="31.24" cy="97.15" rx="1.14" ry="0.92" fill="#2e2e2e" opacity="0.39"/>
<ellipse cx="160.15" cy="82.37" rx="1.37" ry="0.7" fill="#d8d8d8" opacity="0.3"/>
<ellipse cx="104.76" cy="112.31" rx="1.52" ry="1.27" fill="#d8d8d8" opacity="0.31"/>
<ellipse cx="68.04" cy="103.43" rx="0.91" ry="1.16" fill="#d8d8d8" opacity="0.36"/>
<ellipse cx="17.6" cy="103.61" rx="0.62" ry="0.86" fill="#2e2e2e" opacity="0.52"/>
<ellipse cx="78.95" cy="110.88" rx="0.94" ry="0.59" fill="#2e2e2e" opacity="0.21"/>
<ellipse cx="22.1" cy="122.28" rx="0.54" ry="1.29" fill="#d8d8d8" opacity="0.43"/>
<ellipse cx="164.95" cy="119.58" rx="0.94" ry="0.96" fill="#d8d8d8" opacity="0.43"/>
<ellipse cx="143.04" cy="88.1" rx="1.54" ry="0.62" fill="#2e2e2e" opacity="0.39"/>
<ellipse cx="102.93" cy="85.72" rx="0.77" ry="0.89" fill="#2e2e2e" opacity="0.45"/>
<ellipse cx="5.8" cy="84.94" rx="0.75" ry="0.91" fill="#2e2e2e" opacity="0.53"/>
<ellipse cx="42.54" cy="103.01" rx="0.97" ry="1.37" fill="#2e2e2e" opacity="0.25"/>
<ellipse cx="12.11" cy="99.81" rx="1.59" ry="0.51" fill="#2e2e2e" opacity="0.54"/>
<ellipse cx="17.92" cy="121.84" rx="1.56" ry="0.99" fill="#2e2e2e" opacity="0.41"/>
<ellipse cx="8.29" cy="100.36" rx="0.8" ry="0.69" fill="#2e2e2e" opacity="0.28"/>
<ellipse cx="130.57" cy="119.5" rx="1.31" ry="1.43" fill="#d8d8d8" opacity="0.43"/>
<ellipse cx="91.77" cy="91.41" rx="1.51" ry="0.51" fill="#d8d8d8" opacity="0.3"/>
<ellipse cx="156.64" cy="106.9" rx="1" ry="0.74" fill="#d8d8d8" opacity="0.52"/>
<ellipse cx="155.87" cy="109.33" rx="0.87" ry="1.16" fill="#d8d8d8" opacity="0.42"/>
<ellipse cx="98.33" cy="102.22" rx="0.55" ry="1.5" fill="#2e2e2e" opacity="0.27"/>
<ellipse cx="58.38" cy="85.5" rx="0.87" ry="0.67" fill="#d8d8d8" opacity="0.38"/>
<ellipse cx="94.87" cy="85.66" rx="1.12" ry="0.93" fill="#2e2e2e" opacity="0.42"/>
<ellipse cx="86.15" cy="97.33" rx="1.39" ry="1.15" fill="#2e2e2e" opacity="0.23"/>
<ellipse cx="143.22" cy="82.92" rx="1.48" ry="0.7" fill="#d8d8d8" opacity="0.32"/>
<ellipse cx="74.55" cy="105.52" rx="1.45" ry="0.69" fill="#2e2e2e" opacity="0.48"/>
<ellipse cx="44.65" cy="94.49" rx="1.46" ry="1.47" fill="#2e2e2e" opacity="0.32"/>
<ellipse cx="59.72" cy="86.28" rx="1.42" ry="0.55" fill="#2e2e2e" opacity="0.22"/>
<ellipse cx="33.35" cy="107.28" rx="0.89" ry="0.63" fill="#d8d8d8" opacity="0.44"/>
<ellipse cx="149.63" cy="85.11" rx="1.01" ry="1.58" fill="#2e2e2e" opacity="0.39"/>
<ellipse cx="49.64" cy="89.39" rx="0.91" ry="1.32" fill="#d8d8d8" opacity="0.43"/>
<ellipse cx="132.63" cy="100.53" rx="0.55" ry="1.11" fill="#2e2e2e" opacity="0.3"/>
<ellipse cx="129.62" cy="102.41" rx="0.75" ry="1.27" fill="#2e2e2e" opacity="0.27"/>
<ellipse cx="67.93" cy="114.54" rx="1.12" ry="0.71" fill="#d8d8d8" opacity="0.49"/>
<ellipse cx="167.67" cy="82.97" rx="0.56" ry="1.05" fill="#2e2e2e" opacity="0.22"/>
<ellipse cx="76.16" cy="100.97" rx="1.57" ry="0.69" fill="#2e2e2e" opacity="0.2"/>
<ellipse cx="31.69" cy="103.58" rx="1.34" ry="1.33" fill="#d8d8d8" opacity="0.38"/>
<ellipse cx="81.07" cy="119.12" rx="1.2" ry="0.66" fill="#d8d8d8" opacity="0.42"/>
<ellipse cx="72.13" cy="122.21" rx="1.56" ry="1.4" fill="#2e2e2e" opacity="0.3"/>
<ellipse cx="126.3" cy="96.31" rx="1.31" ry="1.21" fill="#d8d8d8" opacity="0.47"/>
<ellipse cx="66.34" cy="85.51" rx="1.34" ry="0.64" fill="#d8d8d8" opacity="0.54"/>
<ellipse cx="29.88" cy="89.42" rx="1.28" ry="0.61" fill="#2e2e2e" opacity="0.52"/>
<ellipse cx="110.93" cy="115.39" rx="0.56" ry="1.17" fill="#2e2e2e" opacity="0.51"/>
<ellipse cx="137.16" cy="97.36" rx="1.17" ry="1.24" fill="#2e2e2e" opacity="0.53"/>
<ellipse cx="73.86" cy="117.58" rx="1.32" ry="0.78" fill="#2e2e2e" opacity="0.29"/>
<ellipse cx="5.38" cy="112.2" rx="0.74" ry="1.29" fill="#2e2e2e" opacity="0.55"/>
<ellipse cx="31.4" cy="98.97" rx="1.37" ry="0.99" fill="#2e2e2e" opacity="0.33"/>
<ellipse cx="42.41" cy="98.19" rx="0.79" ry="0.91" fill="#d8d8d8" opacity="0.42"/>
<ellipse cx="23.57" cy="106.51" rx="0.6" ry="0.89" fill="#d8d8d8" opacity="0.41"/>
<ellipse cx="59.49" cy="91.07" rx="1.29" ry="1.16" fill="#2e2e2e" opacity="0.31"/>
<ellipse cx="11.45" cy="100.61" rx="1.03" ry="1.59" fill="#2e2e2e" opacity="0.28"/>
<ellipse cx="129.52" cy="112.42" rx="1.15" ry="1.19" fill="#2e2e2e" opacity="0.21"/>
<ellipse cx="35.4" cy="114.15" rx="0.68" ry="1.2" fill="#d8d8d8" opacity="0.49"/>
<ellipse cx="43.52" cy="96.09" rx="0.54" ry="1.54" fill="#2e2e2e" opacity="0.39"/>
<ellipse cx="17.7" cy="95.68" rx="1.55" ry="0.79" fill="#2e2e2e" opacity="0.3"/>
<ellipse cx="151.37" cy="113.03" rx="0.66" ry="0.99" fill="#2e2e2e" opacity="0.4"/>
<ellipse cx="164.32" cy="103.3" rx="0.86" ry="0.99" fill="#d8d8d8" opacity="0.44"/>
<ellipse cx="110.16" cy="117.33" rx="1.09" ry="0.73" fill="#d8d8d8" opacity="0.45"/>
<ellipse cx="27.54" cy="100.89" rx="1.44" ry="1.13" fill="#2e2e2e" opacity="0.52"/>
<ellipse cx="91.7" cy="95.61" rx="0.97" ry="1.08" fill="#2e2e2e" opacity="0.28"/>
<ellipse cx="131.63" cy="112.76" rx="1.18" ry="0.82" fill="#d8d8d8" opacity="0.48"/>
<ellipse cx="82.53" cy="84.48" rx="0.68" ry="0.55" fill="#d8d8d8" opacity="0.47"/>
<ellipse cx="94.41" cy="99.83" rx="0.88" ry="0.79" fill="#d8d8d8" opacity="0.44"/>
<ellipse cx="95.61" cy="87.46" rx="1.59" ry="1.3" fill="#d8d8d8" opacity="0.46"/>
<ellipse cx="137.85" cy="118.76" rx="0.94" ry="1.15" fill="#d8d8d8" opacity="0.22"/>
<ellipse cx="29.38" cy="93.41" rx="0.87" ry="1.16" fill="#d8d8d8" opacity="0.52"/>
<ellipse cx="58.81" cy="114.36" rx="0.91" ry="1.26" fill="#2e2e2e" opacity="0.52"/>
<ellipse cx="54.33" cy="85.58" rx="1.56" ry="1.07" fill="#d8d8d8" opacity="0.38"/>
<ellipse cx="149.74" cy="88.16" rx="0.85" ry="1.4" fill="#d8d8d8" opacity="0.42"/>
<ellipse cx="143.69" cy="100.27" rx="0.84" ry="1.28" fill="#d8d8d8" opacity="0.54"/>
<ellipse cx="53.96" cy="101.92" rx="0.91" ry="0.66" fill="#d8d8d8" opacity="0.47"/>
<ellipse cx="20.27" cy="89.49" rx="1.09" ry="0.66" fill="#d8d8d8" opacity="0.26"/>
<ellipse cx="11.22" cy="110.94" rx="0.81" ry="0.74" fill="#2e2e2e" opacity="0.55"/>
<ellipse cx="131.2" cy="121.24" rx="1.53" ry="1.08" fill="#2e2e2e" opacity="0.53"/>
<ellipse cx="88.26" cy="86.05" rx="1.06" ry="0.7" fill="#d8d8d8" opacity="0.42"/>
<ellipse cx="71.49" cy="87.15" rx="0.69" ry="1.16" fill="#d8d8d8" opacity="0.28"/>
<ellipse cx="36.15" cy="99.47" rx="0.97" ry="0.7" fill="#d8d8d8" opacity="0.38"/>
<ellipse cx="62.78" cy="102.67" rx="0.77" ry="0.69" fill="#d8d8d8" opacity="0.29"/>
<ellipse cx="50.21" cy="109.12" rx="1.58" ry="1.27" fill="#d8d8d8" opacity="0.41"/>
<ellipse cx="140.27" cy="116.39" rx="1.16" ry="0.75" fill="#d8d8d8" opacity="0.29"/>
<ellipse cx="40.18" cy="95.48" rx="0.65" ry="0.62" fill="#2e2e2e" opacity="0.34"/>
<ellipse cx="110.38" cy="112.02" rx="1.45" ry="0.94" fill="#2e2e2e" opacity="0.47"/>
<ellipse cx="149.01" cy="108.1" rx="1.6" ry="1.32" fill="#d8d8d8" opacity="0.4"/>
<ellipse cx="91.47" cy="108.59" rx="0.6" ry="0.91" fill="#d8d8d8" opacity="0.31"/>
<ellipse cx="1.44" cy="83.81" rx="1.48" ry="0.8" fill="#2e2e2e" opacity="0.37"/>
<ellipse cx="35.57" cy="102.63" rx="1.4" ry="1.45" fill="#2e2e2e" opacity="0.39"/>
<ellipse cx="103.97" cy="91.9" rx="0.93" ry="1.32" fill="#d8d8d8" opacity="0.3"/>
<ellipse cx="6.49" cy="121.33" rx="0.85" ry="0.75" fill="#2e2e2e" opacity="0.3"/>
<ellipse cx="63.73" cy="93.56" rx="1.33" ry="0.9" fill="#d8d8d8" opacity="0.44"/>
<ellipse cx="144.72" cy="103.75" rx="0.81" ry="1.26" fill="#d8d8d8" opacity="0.34"/>
<ellipse cx="167.74" cy="111.92" rx="1.49" ry="0.87" fill="#d8d8d8" opacity="0.43"/>
<ellipse cx="75.56" cy="105.88" rx="0.93" ry="1.12" fill="#d8d8d8" opacity="0.45"/>
<ellipse cx="166.23" cy="121.98" rx="1.39" ry="0.97" fill="#2e2e2e" opacity="0.47"/>
<ellipse cx="145.49" cy="119.95" rx="0.62" ry="1.5" fill="#2e2e2e" opacity="0.54"/>
<ellipse cx="165.36" cy="101.8" rx="0.55" ry="0.76" fill="#2e2e2e" opacity="0.49"/>
<ellipse cx="27.6" cy="95.81" rx="0.77" ry="0.91" fill="#2e2e2e" opacity="0.29"/>
<ellipse cx="97.86" cy="106.93" rx="1.57" ry="0.99" fill="#2e2e2e" opacity="0.41"/>
<ellipse cx="93.43" cy="92.73" rx="1.45" ry="0.53" fill="#d8d8d8" opacity="0.27"/>
<ellipse cx="7.38" cy="111.52" rx="1.01" ry="1.33" fill="#d8d8d8" opacity="0.53"/>
<ellipse cx="112.52" cy="88.45" rx="1.43" ry="0.58" fill="#d8d8d8" opacity="0.42"/>
<ellipse cx="162.02" cy="112.46" rx="1.51" ry="1.59" fill="#2e2e2e" opacity="0.29"/>
<ellipse cx="17.56" cy="83.08" rx="1.3" ry="1.43" fill="#d8d8d8" opacity="0.51"/>
<ellipse cx="39.61" cy="83.5" rx="0.75" ry="1.6" fill="#2e2e2e" opacity="0.37"/>
<ellipse cx="94.84" cy="82.65" rx="1.18" ry="0.81" fill="#d8d8d8" opacity="0.28"/>
<ellipse cx="64.27" cy="117.44" rx="0.59" ry="1.37" fill="#d8d8d8" opacity="0.35"/>
<ellipse cx="26.83" cy="103.43" rx="1.07" ry="0.98" fill="#2e2e2e" opacity="0.26"/>
<ellipse cx="158.69" cy="104.9" rx="0.61" ry="1.12" fill="#2e2e2e" opacity="0.54"/>
<ellipse cx="129.37" cy="116.51" rx="1.08" ry="0.69" fill="#2e2e2e" opacity="0.25"/>
<ellipse cx="14.15" cy="101.02" rx="0.54" ry="0.64" fill="#2e2e2e" opacity="0.3"/>
<ellipse cx="88.93" cy="119.11" rx="1.12" ry="1.04" fill="#2e2e2e" opacity="0.52"/>
<ellipse cx="173.16" cy="83.72" rx="1.26" ry="0.85" fill="#d8d8d8" opacity="0.38"/>
</g>
<polygon points="0,0 0,0.52 2.31,0.87 4.77,0.15 7.98,2.02 12.38,1.68 15.05,1.18 17.88,0.38 20.19,0.47 24.98,1.82 29.4,1.76 31.98,0.68 35.86,1.61 40.42,1.94 42.68,1.33 46.7,1.11 49.23,1.04 51.5,2.06 56.1,1.2 59,2 62.71,1.94 67.26,1.12 70.5,1.32 73.79,0.35 76.71,1.79 78.84,0.1 82.72,0.62 86.32,1.04 89.35,2.19 91.94,0.91 94.54,1.39 97.37,0.78 101.61,0.71 105.29,1.99 107.59,0.14 110.28,1.68 114.12,0.52 117.12,0.39 120.5,0.09 124.59,1.97 129.45,1.62 134.33,0.04 137.2,2.13 141.52,0.9 146.35,1.37 150.81,0.65 153.38,0.98 155.79,0.84 160.68,0.73 162.7,0.1 165.21,1.72 168.3,0.64 170.59,2.16 173.86,0.46 174.2,0" fill="#ffffff" opacity="0.85"/>
</svg>
<line x1="27" y1="124.8" x2="201.2" y2="124.8" stroke="#f8c19a" stroke-width="2" stroke-dasharray="6.2 2.6"/>
<line x1="27" y1="134.7" x2="201.2" y2="134.7" stroke="#a9c2ea" stroke-width="2" stroke-dasharray="6.2 2.6"/>
<line x1="27" y1="167.2" x2="201.2" y2="167.2" stroke="#bfe0a6" stroke-width="2" stroke-dasharray="6.2 2.6"/>
<text x="31.6" y="117" font-size="12.4" text-anchor="start" fill="#f9d3b8" stroke="#f9d3b8" textLength="24.3" lengthAdjust="spacingAndGlyphs">LSCF</text>
<text x="1.6" y="134.9" font-size="12" text-anchor="start" fill="#d9d9d9" stroke="#d9d9d9" textLength="23.7" lengthAdjust="spacingAndGlyphs">GDC</text>
<text x="30.1" y="154.7" font-size="12" text-anchor="start" fill="#c9d5ec" stroke="#c9d5ec" textLength="18.5" lengthAdjust="spacingAndGlyphs">YSZ</text>
<text x="31.8" y="185.8" font-size="12.2" text-anchor="start" fill="#d6ecc3" stroke="#d6ecc3" textLength="41.8" lengthAdjust="spacingAndGlyphs">NiO-YSZ</text>
<rect x="168.3" y="202.1" width="23.3" height="4.7" fill="#ffffff"/>
<text x="168.5" y="199.8" font-size="7.8" text-anchor="start" fill="#ffffff" stroke="#ffffff" textLength="23.5" lengthAdjust="spacingAndGlyphs">10 um</text>
<rect x="270.5" y="23.4" width="86.48" height="171.9" fill="#f8f8f6"/>
<rect x="356.98" y="23.4" width="30.78" height="171.9" fill="#fffaec"/>
<rect x="387.77" y="23.4" width="58.63" height="171.9" fill="#faf7f0"/>
<polyline points="270.5,187.44 270.94,187.44 271.38,187.43 271.82,187.42 272.26,187.41 272.7,187.4 273.15,187.39 273.59,187.37 274.03,187.35 274.47,187.33 274.91,187.29 275.35,187.25 275.79,187.19 276.23,187.13 276.67,187.06 277.11,186.97 277.55,186.87 277.99,186.76 278.44,186.63 278.88,186.5 279.32,186.35 279.76,186.2 280.2,186.04 280.64,185.88 281.08,185.72 281.52,185.57 281.96,185.42 282.4,185.28 282.84,185.16 283.28,185.05 283.73,184.96 284.17,184.9 284.61,184.86 285.05,184.84 285.49,184.84 285.93,184.86 286.37,184.9 286.81,184.95 287.25,185.01 287.69,185.08 288.13,185.14 288.57,185.19 289.02,185.22 289.46,185.23 289.9,185.21 290.34,185.15 290.78,185.05 291.22,184.91 291.66,184.73 292.1,184.5 292.54,184.22 292.98,183.91 293.42,183.56 293.87,183.19 294.31,182.8 294.75,182.4 295.19,182.01 295.63,181.63 296.07,181.28 296.51,180.97 296.95,180.7 297.39,180.49 297.83,180.33 298.27,180.25 298.71,180.23 299.16,180.27 299.6,180.38 300.04,180.54 300.48,180.75 300.92,180.99 301.36,181.26 301.8,181.54 302.24,181.83 302.68,182.09 303.12,182.33 303.56,182.53 304,182.68 304.45,182.77 304.89,182.79 305.33,182.73 305.77,182.58 306.21,182.35 306.65,182.02 307.09,181.59 307.53,181.06 307.97,180.43 308.41,179.69 308.85,178.85 309.29,177.89 309.74,176.81 310.18,175.62 310.62,174.31 311.06,172.89 311.5,171.33 311.94,169.65 312.38,167.84 312.82,165.9 313.26,163.83 313.7,161.62 314.14,159.28 314.59,156.8 315.03,154.19 315.47,151.44 315.91,148.56 316.35,145.55 316.79,142.41 317.23,139.16 317.67,135.79 318.11,132.32 318.55,128.76 318.99,125.11 319.43,121.38 319.88,117.59 320.32,113.76 320.76,109.89 321.2,106 321.64,102.11 322.08,98.24 322.52,94.41 322.96,90.62 323.4,86.92 323.84,83.3 324.28,79.8 324.72,76.42 325.17,73.2 325.61,70.15 326.05,67.28 326.49,64.62 326.93,62.18 327.37,59.98 327.81,58.02 328.25,56.33 328.69,54.92 329.13,53.78 329.57,52.94 330.02,52.39 330.46,52.14 330.9,52.18 331.34,52.46 331.78,52.98 332.22,53.72 332.66,54.7 333.1,55.91 333.54,57.33 333.98,58.96 334.42,60.8 334.86,62.83 335.31,65.04 335.75,67.43 336.19,69.97 336.63,72.67 337.07,75.5 337.51,78.46 337.95,81.52 338.39,84.68 338.83,87.93 339.27,91.24 339.71,94.61 340.15,98.02 340.6,101.45 341.04,104.91 341.48,108.36 341.92,111.81 342.36,115.24 342.8,118.64 343.24,121.99 343.68,125.3 344.12,128.55 344.56,131.72 345,134.83 345.44,137.85 345.89,140.79 346.33,143.63 346.77,146.38 347.21,149.03 347.65,151.58 348.09,154.02 348.53,156.36 348.97,158.58 349.41,160.7 349.85,162.72 350.29,164.62 350.74,166.42 351.18,168.11 351.62,169.7 352.06,171.18 352.5,172.56 352.94,173.84 353.38,175.02 353.82,176.11 354.26,177.1 354.7,177.99 355.14,178.79 355.58,179.5 356.03,180.11 356.47,180.63 356.91,181.06 357.35,181.4 357.79,181.64 358.23,181.78 358.67,181.83 359.11,181.78 359.55,181.63 359.99,181.38 360.43,181.04 360.87,180.59 361.32,180.04 361.76,179.4 362.2,178.66 362.64,177.83 363.08,176.91 363.52,175.9 363.96,174.83 364.4,173.68 364.84,172.48 365.28,171.22 365.72,169.94 366.16,168.64 366.61,167.33 367.05,166.03 367.49,164.76 367.93,163.53 368.37,162.36 368.81,161.26 369.25,160.26 369.69,159.37 370.13,158.59 370.57,157.95 371.01,157.45 371.46,157.11 371.9,156.91 372.34,156.88 372.78,156.95 373.22,157.11 373.66,157.34 374.1,157.66 374.54,158.06 374.98,158.53 375.42,159.07 375.86,159.68 376.3,160.36 376.75,161.09 377.19,161.87 377.63,162.71 378.07,163.58 378.51,164.49 378.95,165.43 379.39,166.39 379.83,167.37 380.27,168.35 380.71,169.35 381.15,170.34 381.59,171.33 382.04,172.31 382.48,173.28 382.92,174.23 383.36,175.15 383.8,176.05 384.24,176.91 384.68,177.75 385.12,178.55 385.56,179.32 386,180.04 386.44,180.73 386.88,181.38 387.33,181.98 387.77,182.55 388.21,183.07 388.65,183.55 389.09,183.98 389.53,184.37 389.97,184.72 390.41,185.03 390.85,185.29 391.29,185.5 391.73,185.67 392.18,185.79 392.62,185.87 393.06,185.89 393.5,185.87 393.94,185.79 394.38,185.66 394.82,185.47 395.26,185.22 395.7,184.91 396.14,184.55 396.58,184.12 397.02,183.62 397.47,183.07 397.91,182.45 398.35,181.77 398.79,181.02 399.23,180.22 399.67,179.37 400.11,178.47 400.55,177.52 400.99,176.54 401.43,175.53 401.87,174.51 402.31,173.47 402.76,172.44 403.2,171.42 403.64,170.43 404.08,169.47 404.52,168.57 404.96,167.73 405.4,166.97 405.84,166.29 406.28,165.71 406.72,165.23 407.16,164.86 407.61,164.61 408.05,164.49 408.49,164.48 408.93,164.6 409.37,164.84 409.81,165.2 410.25,165.66 410.69,166.24 411.13,166.91 411.57,167.67 412.01,168.51 412.45,169.41 412.9,170.36 413.34,171.36 413.78,172.38 414.22,173.43 414.66,174.47 415.1,175.52 415.54,176.54 415.98,177.55 416.42,178.52 416.86,179.45 417.3,180.34 417.74,181.18 418.19,181.97 418.63,182.71 419.07,183.39 419.51,184.02 419.95,184.59 420.39,185.1 420.83,185.57 421.27,185.99 421.71,186.36 422.15,186.69 422.59,186.98 423.03,187.23 423.48,187.45 423.92,187.64 424.36,187.8 424.8,187.94 425.24,188.06 425.68,188.15 426.12,188.24 426.56,188.31 427,188.36 427.44,188.41 427.88,188.45 428.33,188.48 428.77,188.5 429.21,188.52 429.65,188.54 430.09,188.55 430.53,188.56 430.97,188.57 431.41,188.58 431.85,188.58 432.29,188.59 432.73,188.59 433.17,188.59 433.62,188.59 434.06,188.6 434.5,188.6 434.94,188.6 435.38,188.6 435.82,188.6 436.26,188.6 436.7,188.6 437.14,188.6 437.58,188.6 438.02,188.6 438.46,188.6 438.91,188.6 439.35,188.6 439.79,188.6 440.23,188.6 440.67,188.6 441.11,188.6 441.55,188.6 441.99,188.6 442.43,188.6 442.87,188.6 443.31,188.6 443.75,188.6 444.2,188.6 444.64,188.6 445.08,188.6 445.52,188.6 445.96,188.6 446.4,188.6" fill="none" stroke="#cfdaea" stroke-width="1.9" stroke-linejoin="round" stroke-linecap="round" stroke-opacity="0.9"/>
<polyline points="270.5,187.44 270.94,187.43 271.38,187.42 271.82,187.42 272.26,187.41 272.7,187.39 273.15,187.38 273.59,187.36 274.03,187.33 274.47,187.3 274.91,187.26 275.35,187.21 275.79,187.14 276.23,187.07 276.67,186.98 277.11,186.88 277.55,186.77 277.99,186.64 278.44,186.5 278.88,186.34 279.32,186.18 279.76,186.01 280.2,185.83 280.64,185.65 281.08,185.46 281.52,185.29 281.96,185.12 282.4,184.96 282.84,184.83 283.28,184.71 283.73,184.61 284.17,184.54 284.61,184.49 285.05,184.47 285.49,184.47 285.93,184.5 286.37,184.55 286.81,184.62 287.25,184.7 287.69,184.79 288.13,184.88 288.57,184.96 289.02,185.03 289.46,185.08 289.9,185.1 290.34,185.09 290.78,185.04 291.22,184.95 291.66,184.82 292.1,184.65 292.54,184.43 292.98,184.18 293.42,183.89 293.87,183.58 294.31,183.24 294.75,182.9 295.19,182.56 295.63,182.23 296.07,181.93 296.51,181.65 296.95,181.41 297.39,181.23 297.83,181.1 298.27,181.02 298.71,181 299.16,181.05 299.6,181.14 300.04,181.29 300.48,181.47 300.92,181.69 301.36,181.94 301.8,182.19 302.24,182.44 302.68,182.67 303.12,182.88 303.56,183.06 304,183.19 304.45,183.26 304.89,183.26 305.33,183.2 305.77,183.06 306.21,182.83 306.65,182.52 307.09,182.12 307.53,181.63 307.97,181.04 308.41,180.35 308.85,179.56 309.29,178.66 309.74,177.67 310.18,176.56 310.62,175.34 311.06,174.02 311.5,172.57 311.94,171.01 312.38,169.34 312.82,167.53 313.26,165.61 313.7,163.56 314.14,161.38 314.59,159.08 315.03,156.66 315.47,154.11 315.91,151.43 316.35,148.64 316.79,145.73 317.23,142.71 317.67,139.59 318.11,136.37 318.55,133.06 318.99,129.67 319.43,126.21 319.88,122.69 320.32,119.13 320.76,115.54 321.2,111.93 321.64,108.32 322.08,104.73 322.52,101.17 322.96,97.66 323.4,94.22 323.84,90.86 324.28,87.61 324.72,84.48 325.17,81.49 325.61,78.65 326.05,75.99 326.49,73.52 326.93,71.26 327.37,69.21 327.81,67.4 328.25,65.83 328.69,64.52 329.13,63.46 329.57,62.68 330.02,62.17 330.46,61.94 330.9,61.98 331.34,62.24 331.78,62.72 332.22,63.41 332.66,64.32 333.1,65.44 333.54,66.76 333.98,68.27 334.42,69.98 334.86,71.86 335.31,73.92 335.75,76.13 336.19,78.49 336.63,81 337.07,83.63 337.51,86.37 337.95,89.21 338.39,92.15 338.83,95.16 339.27,98.23 339.71,101.36 340.15,104.52 340.6,107.71 341.04,110.92 341.48,114.13 341.92,117.33 342.36,120.51 342.8,123.66 343.24,126.78 343.68,129.85 344.12,132.86 344.56,135.81 345,138.69 345.44,141.5 345.89,144.23 346.33,146.87 346.77,149.42 347.21,151.88 347.65,154.25 348.09,156.52 348.53,158.69 348.97,160.76 349.41,162.73 349.85,164.61 350.29,166.39 350.74,168.07 351.18,169.65 351.62,171.15 352.06,172.55 352.5,173.86 352.94,175.08 353.38,176.22 353.82,177.28 354.26,178.26 354.7,179.17 355.14,180 355.58,180.76 356.03,181.45 356.47,182.07 356.91,182.63 357.35,183.12 357.79,183.55 358.23,183.91 358.67,184.22 359.11,184.46 359.55,184.64 359.99,184.76 360.43,184.81 360.87,184.8 361.32,184.72 361.76,184.57 362.2,184.35 362.64,184.05 363.08,183.69 363.52,183.25 363.96,182.73 364.4,182.13 364.84,181.46 365.28,180.71 365.72,179.88 366.16,178.99 366.61,178.02 367.05,177 367.49,175.91 367.93,174.78 368.37,173.61 368.81,172.41 369.25,171.2 369.69,169.98 370.13,168.76 370.57,167.58 371.01,166.42 371.46,165.33 371.9,164.29 372.34,163.34 372.78,162.49 373.22,161.74 373.66,161.11 374.1,160.61 374.54,160.24 374.98,160.01 375.42,159.93 375.86,159.97 376.3,160.08 376.75,160.27 377.19,160.53 377.63,160.86 378.07,161.27 378.51,161.74 378.95,162.27 379.39,162.86 379.83,163.5 380.27,164.2 380.71,164.94 381.15,165.71 381.59,166.52 382.04,167.36 382.48,168.23 382.92,169.1 383.36,170 383.8,170.89 384.24,171.79 384.68,172.68 385.12,173.57 385.56,174.44 386,175.3 386.44,176.13 386.88,176.94 387.33,177.72 387.77,178.46 388.21,179.18 388.65,179.85 389.09,180.49 389.53,181.08 389.97,181.63 390.41,182.14 390.85,182.59 391.29,183 391.73,183.35 392.18,183.65 392.62,183.89 393.06,184.07 393.5,184.2 393.94,184.26 394.38,184.26 394.82,184.19 395.26,184.05 395.7,183.84 396.14,183.56 396.58,183.21 397.02,182.79 397.47,182.29 397.91,181.72 398.35,181.08 398.79,180.37 399.23,179.6 399.67,178.76 400.11,177.87 400.55,176.94 400.99,175.96 401.43,174.95 401.87,173.91 402.31,172.87 402.76,171.82 403.2,170.79 403.64,169.78 404.08,168.81 404.52,167.89 404.96,167.03 405.4,166.25 405.84,165.56 406.28,164.96 406.72,164.48 407.16,164.1 407.61,163.85 408.05,163.72 408.49,163.72 408.93,163.84 409.37,164.09 409.81,164.46 410.25,164.94 410.69,165.54 411.13,166.23 411.57,167.01 412.01,167.88 412.45,168.81 412.9,169.79 413.34,170.82 413.78,171.88 414.22,172.95 414.66,174.03 415.1,175.11 415.54,176.17 415.98,177.2 416.42,178.2 416.86,179.17 417.3,180.08 417.74,180.95 418.19,181.77 418.63,182.52 419.07,183.23 419.51,183.87 419.95,184.46 420.39,185 420.83,185.48 421.27,185.91 421.71,186.29 422.15,186.63 422.59,186.93 423.03,187.19 423.48,187.41 423.92,187.61 424.36,187.77 424.8,187.92 425.24,188.04 425.68,188.14 426.12,188.22 426.56,188.3 427,188.35 427.44,188.4 427.88,188.44 428.33,188.48 428.77,188.5 429.21,188.52 429.65,188.54 430.09,188.55 430.53,188.56 430.97,188.57 431.41,188.58 431.85,188.58 432.29,188.59 432.73,188.59 433.17,188.59 433.62,188.59 434.06,188.6 434.5,188.6 434.94,188.6 435.38,188.6 435.82,188.6 436.26,188.6 436.7,188.6 437.14,188.6 437.58,188.6 438.02,188.6 438.46,188.6 438.91,188.6 439.35,188.6 439.79,188.6 440.23,188.6 440.67,188.6 441.11,188.6 441.55,188.6 441.99,188.6 442.43,188.6 442.87,188.6 443.31,188.6 443.75,188.6 444.2,188.6 444.64,188.6 445.08,188.6 445.52,188.6 445.96,188.6 446.4,188.6" fill="none" stroke="#bed2f6" stroke-width="1.9" stroke-linejoin="round" stroke-linecap="round" stroke-opacity="0.9"/>
<polyline points="270.5,187.44 270.94,187.43 271.38,187.42 271.82,187.41 272.26,187.4 272.7,187.38 273.15,187.36 273.59,187.34 274.03,187.31 274.47,187.27 274.91,187.22 275.35,187.16 275.79,187.09 276.23,187.01 276.67,186.91 277.11,186.79 277.55,186.67 277.99,186.52 278.44,186.36 278.88,186.19 279.32,186.01 279.76,185.81 280.2,185.61 280.64,185.41 281.08,185.21 281.52,185.01 281.96,184.82 282.4,184.65 282.84,184.49 283.28,184.36 283.73,184.25 284.17,184.17 284.61,184.12 285.05,184.1 285.49,184.11 285.93,184.15 286.37,184.22 286.81,184.31 287.25,184.41 287.69,184.53 288.13,184.65 288.57,184.77 289.02,184.88 289.46,184.98 289.9,185.05 290.34,185.1 290.78,185.11 291.22,185.09 291.66,185.03 292.1,184.94 292.54,184.8 292.98,184.63 293.42,184.42 293.87,184.19 294.31,183.94 294.75,183.68 295.19,183.41 295.63,183.15 296.07,182.91 296.51,182.69 296.95,182.5 297.39,182.35 297.83,182.25 298.27,182.19 298.71,182.18 299.16,182.22 299.6,182.3 300.04,182.42 300.48,182.58 300.92,182.76 301.36,182.96 301.8,183.17 302.24,183.38 302.68,183.58 303.12,183.75 303.56,183.89 304,183.99 304.45,184.05 304.89,184.04 305.33,183.98 305.77,183.85 306.21,183.65 306.65,183.38 307.09,183.03 307.53,182.6 307.97,182.08 308.41,181.49 308.85,180.8 309.29,180.03 309.74,179.17 310.18,178.21 310.62,177.16 311.06,176.02 311.5,174.77 311.94,173.42 312.38,171.97 312.82,170.42 313.26,168.76 313.7,166.99 314.14,165.11 314.59,163.12 315.03,161.03 315.47,158.83 315.91,156.52 316.35,154.11 316.79,151.6 317.23,148.99 317.67,146.3 318.11,143.52 318.55,140.66 318.99,137.73 319.43,134.75 319.88,131.71 320.32,128.64 320.76,125.54 321.2,122.43 321.64,119.31 322.08,116.21 322.52,113.14 322.96,110.11 323.4,107.14 323.84,104.24 324.28,101.44 324.72,98.73 325.17,96.15 325.61,93.71 326.05,91.41 326.49,89.28 326.93,87.32 327.37,85.56 327.81,83.99 328.25,82.64 328.69,81.5 329.13,80.6 329.57,79.92 330.02,79.48 330.46,79.28 330.9,79.31 331.34,79.54 331.78,79.95 332.22,80.55 332.66,81.33 333.1,82.3 333.54,83.44 333.98,84.75 334.42,86.22 334.86,87.84 335.31,89.62 335.75,91.53 336.19,93.57 336.63,95.73 337.07,98 337.51,100.36 337.95,102.82 338.39,105.35 338.83,107.95 339.27,110.6 339.71,113.3 340.15,116.03 340.6,118.79 341.04,121.55 341.48,124.32 341.92,127.09 342.36,129.83 342.8,132.55 343.24,135.24 343.68,137.89 344.12,140.49 344.56,143.04 345,145.52 345.44,147.95 345.89,150.3 346.33,152.58 346.77,154.78 347.21,156.9 347.65,158.95 348.09,160.9 348.53,162.78 348.97,164.56 349.41,166.26 349.85,167.88 350.29,169.41 350.74,170.85 351.18,172.22 351.62,173.5 352.06,174.69 352.5,175.81 352.94,176.86 353.38,177.82 353.82,178.71 354.26,179.53 354.7,180.28 355.14,180.95 355.58,181.56 356.03,182.1 356.47,182.57 356.91,182.98 357.35,183.31 357.79,183.58 358.23,183.79 358.67,183.92 359.11,183.99 359.55,183.99 359.99,183.92 360.43,183.78 360.87,183.57 361.32,183.28 361.76,182.93 362.2,182.5 362.64,182.01 363.08,181.44 363.52,180.81 363.96,180.11 364.4,179.35 364.84,178.54 365.28,177.68 365.72,176.78 366.16,175.85 366.61,174.89 367.05,173.92 367.49,172.95 367.93,171.98 368.37,171.04 368.81,170.13 369.25,169.26 369.69,168.45 370.13,167.7 370.57,167.04 371.01,166.47 371.46,165.99 371.9,165.62 372.34,165.36 372.78,165.22 373.22,165.2 373.66,165.25 374.1,165.36 374.54,165.54 374.98,165.77 375.42,166.06 375.86,166.41 376.3,166.81 376.75,167.26 377.19,167.76 377.63,168.3 378.07,168.88 378.51,169.49 378.95,170.14 379.39,170.81 379.83,171.5 380.27,172.21 380.71,172.93 381.15,173.66 381.59,174.39 382.04,175.13 382.48,175.86 382.92,176.58 383.36,177.29 383.8,177.99 384.24,178.67 384.68,179.33 385.12,179.96 385.56,180.58 386,181.16 386.44,181.72 386.88,182.25 387.33,182.75 387.77,183.21 388.21,183.65 388.65,184.04 389.09,184.41 389.53,184.73 389.97,185.02 390.41,185.28 390.85,185.49 391.29,185.66 391.73,185.79 392.18,185.88 392.62,185.92 393.06,185.91 393.5,185.85 393.94,185.74 394.38,185.58 394.82,185.36 395.26,185.08 395.7,184.74 396.14,184.34 396.58,183.88 397.02,183.34 397.47,182.75 397.91,182.08 398.35,181.35 398.79,180.56 399.23,179.71 399.67,178.8 400.11,177.84 400.55,176.83 400.99,175.79 401.43,174.72 401.87,173.63 402.31,172.53 402.76,171.43 403.2,170.35 403.64,169.29 404.08,168.28 404.52,167.32 404.96,166.43 405.4,165.62 405.84,164.9 406.28,164.28 406.72,163.77 407.16,163.38 407.61,163.12 408.05,162.98 408.49,162.97 408.93,163.1 409.37,163.35 409.81,163.73 410.25,164.23 410.69,164.84 411.13,165.56 411.57,166.36 412.01,167.25 412.45,168.21 412.9,169.22 413.34,170.28 413.78,171.37 414.22,172.48 414.66,173.59 415.1,174.7 415.54,175.79 415.98,176.86 416.42,177.89 416.86,178.88 417.3,179.83 417.74,180.72 418.19,181.56 418.63,182.34 419.07,183.06 419.51,183.73 419.95,184.34 420.39,184.89 420.83,185.38 421.27,185.83 421.71,186.22 422.15,186.57 422.59,186.88 423.03,187.14 423.48,187.38 423.92,187.58 424.36,187.75 424.8,187.9 425.24,188.02 425.68,188.13 426.12,188.21 426.56,188.29 427,188.35 427.44,188.4 427.88,188.44 428.33,188.47 428.77,188.5 429.21,188.52 429.65,188.54 430.09,188.55 430.53,188.56 430.97,188.57 431.41,188.58 431.85,188.58 432.29,188.59 432.73,188.59 433.17,188.59 433.62,188.59 434.06,188.6 434.5,188.6 434.94,188.6 435.38,188.6 435.82,188.6 436.26,188.6 436.7,188.6 437.14,188.6 437.58,188.6 438.02,188.6 438.46,188.6 438.91,188.6 439.35,188.6 439.79,188.6 440.23,188.6 440.67,188.6 441.11,188.6 441.55,188.6 441.99,188.6 442.43,188.6 442.87,188.6 443.31,188.6 443.75,188.6 444.2,188.6 444.64,188.6 445.08,188.6 445.52,188.6 445.96,188.6 446.4,188.6" fill="none" stroke="#9ebeff" stroke-width="1.9" stroke-linejoin="round" stroke-linecap="round" stroke-opacity="0.9"/>
<polyline points="270.5,187.44 270.94,187.43 271.38,187.42 271.82,187.4 272.26,187.39 272.7,187.38 273.15,187.35 273.59,187.33 274.03,187.29 274.47,187.25 274.91,187.2 275.35,187.14 275.79,187.06 276.23,186.97 276.67,186.86 277.11,186.74 277.55,186.6 277.99,186.45 278.44,186.28 278.88,186.1 279.32,185.9 279.76,185.7 280.2,185.48 280.64,185.27 281.08,185.05 281.52,184.84 281.96,184.64 282.4,184.46 282.84,184.29 283.28,184.15 283.73,184.04 284.17,183.96 284.61,183.9 285.05,183.88 285.49,183.9 285.93,183.94 286.37,184.02 286.81,184.12 287.25,184.24 287.69,184.37 288.13,184.51 288.57,184.66 289.02,184.8 289.46,184.93 289.9,185.04 290.34,185.12 290.78,185.18 291.22,185.2 291.66,185.19 292.1,185.14 292.54,185.05 292.98,184.93 293.42,184.78 293.87,184.6 294.31,184.4 294.75,184.19 295.19,183.98 295.63,183.76 296.07,183.56 296.51,183.38 296.95,183.22 297.39,183.09 297.83,183.01 298.27,182.96 298.71,182.95 299.16,182.98 299.6,183.05 300.04,183.15 300.48,183.29 300.92,183.44 301.36,183.61 301.8,183.79 302.24,183.96 302.68,184.12 303.12,184.26 303.56,184.37 304,184.44 304.45,184.47 304.89,184.45 305.33,184.38 305.77,184.24 306.21,184.04 306.65,183.77 307.09,183.43 307.53,183.01 307.97,182.52 308.41,181.96 308.85,181.31 309.29,180.58 309.74,179.77 310.18,178.87 310.62,177.88 311.06,176.8 311.5,175.63 311.94,174.37 312.38,173.01 312.82,171.55 313.26,169.99 313.7,168.33 314.14,166.57 314.59,164.71 315.03,162.74 315.47,160.68 315.91,158.51 316.35,156.25 316.79,153.9 317.23,151.45 317.67,148.92 318.11,146.31 318.55,143.64 318.99,140.89 319.43,138.09 319.88,135.25 320.32,132.36 320.76,129.46 321.2,126.54 321.64,123.61 322.08,120.71 322.52,117.82 322.96,114.98 323.4,112.2 323.84,109.48 324.28,106.85 324.72,104.31 325.17,101.89 325.61,99.6 326.05,97.44 326.49,95.44 326.93,93.61 327.37,91.95 327.81,90.49 328.25,89.22 328.69,88.15 329.13,87.3 329.57,86.67 330.02,86.25 330.46,86.07 330.9,86.1 331.34,86.31 331.78,86.69 332.22,87.26 332.66,87.99 333.1,88.9 333.54,89.97 333.98,91.19 334.42,92.57 334.86,94.1 335.31,95.76 335.75,97.55 336.19,99.47 336.63,101.49 337.07,103.62 337.51,105.84 337.95,108.14 338.39,110.52 338.83,112.96 339.27,115.45 339.71,117.98 340.15,120.54 340.6,123.12 341.04,125.72 341.48,128.31 341.92,130.9 342.36,133.48 342.8,136.03 343.24,138.55 343.68,141.04 344.12,143.48 344.56,145.87 345,148.2 345.44,150.47 345.89,152.68 346.33,154.81 346.77,156.88 347.21,158.87 347.65,160.79 348.09,162.62 348.53,164.38 348.97,166.05 349.41,167.65 349.85,169.16 350.29,170.6 350.74,171.96 351.18,173.23 351.62,174.43 352.06,175.56 352.5,176.6 352.94,177.58 353.38,178.49 353.82,179.32 354.26,180.09 354.7,180.78 355.14,181.42 355.58,181.98 356.03,182.49 356.47,182.93 356.91,183.3 357.35,183.61 357.79,183.86 358.23,184.05 358.67,184.17 359.11,184.23 359.55,184.22 359.99,184.14 360.43,184 360.87,183.78 361.32,183.5 361.76,183.15 362.2,182.74 362.64,182.25 363.08,181.7 363.52,181.08 363.96,180.41 364.4,179.67 364.84,178.88 365.28,178.05 365.72,177.18 366.16,176.27 366.61,175.35 367.05,174.41 367.49,173.46 367.93,172.53 368.37,171.61 368.81,170.73 369.25,169.89 369.69,169.1 370.13,168.38 370.57,167.74 371.01,167.18 371.46,166.72 371.9,166.37 372.34,166.12 372.78,165.98 373.22,165.95 373.66,166 374.1,166.11 374.54,166.28 374.98,166.51 375.42,166.79 375.86,167.13 376.3,167.51 376.75,167.95 377.19,168.43 377.63,168.95 378.07,169.51 378.51,170.11 378.95,170.73 379.39,171.38 379.83,172.05 380.27,172.74 380.71,173.44 381.15,174.14 381.59,174.85 382.04,175.56 382.48,176.27 382.92,176.97 383.36,177.66 383.8,178.33 384.24,178.99 384.68,179.63 385.12,180.24 385.56,180.84 386,181.4 386.44,181.94 386.88,182.45 387.33,182.93 387.77,183.38 388.21,183.8 388.65,184.19 389.09,184.54 389.53,184.85 389.97,185.13 390.41,185.37 390.85,185.57 391.29,185.74 391.73,185.86 392.18,185.94 392.62,185.97 393.06,185.96 393.5,185.89 393.94,185.78 394.38,185.61 394.82,185.39 395.26,185.11 395.7,184.77 396.14,184.36 396.58,183.89 397.02,183.36 397.47,182.76 397.91,182.09 398.35,181.36 398.79,180.57 399.23,179.72 399.67,178.81 400.11,177.84 400.55,176.84 400.99,175.79 401.43,174.72 401.87,173.63 402.31,172.53 402.76,171.43 403.2,170.35 403.64,169.29 404.08,168.28 404.52,167.32 404.96,166.43 405.4,165.62 405.84,164.9 406.28,164.28 406.72,163.77 407.16,163.38 407.61,163.12 408.05,162.98 408.49,162.97 408.93,163.1 409.37,163.35 409.81,163.73 410.25,164.23 410.69,164.84 411.13,165.56 411.57,166.36 412.01,167.25 412.45,168.21 412.9,169.22 413.34,170.28 413.78,171.37 414.22,172.48 414.66,173.59 415.1,174.7 415.54,175.79 415.98,176.86 416.42,177.89 416.86,178.88 417.3,179.83 417.74,180.72 418.19,181.56 418.63,182.34 419.07,183.06 419.51,183.73 419.95,184.34 420.39,184.89 420.83,185.38 421.27,185.83 421.71,186.22 422.15,186.57 422.59,186.88 423.03,187.14 423.48,187.38 423.92,187.58 424.36,187.75 424.8,187.9 425.24,188.02 425.68,188.13 426.12,188.21 426.56,188.29 427,188.35 427.44,188.4 427.88,188.44 428.33,188.47 428.77,188.5 429.21,188.52 429.65,188.54 430.09,188.55 430.53,188.56 430.97,188.57 431.41,188.58 431.85,188.58 432.29,188.59 432.73,188.59 433.17,188.59 433.62,188.59 434.06,188.6 434.5,188.6 434.94,188.6 435.38,188.6 435.82,188.6 436.26,188.6 436.7,188.6 437.14,188.6 437.58,188.6 438.02,188.6 438.46,188.6 438.91,188.6 439.35,188.6 439.79,188.6 440.23,188.6 440.67,188.6 441.11,188.6 441.55,188.6 441.99,188.6 442.43,188.6 442.87,188.6 443.31,188.6 443.75,188.6 444.2,188.6 444.64,188.6 445.08,188.6 445.52,188.6 445.96,188.6 446.4,188.6" fill="none" stroke="#8db0fe" stroke-width="1.9" stroke-linejoin="round" stroke-linecap="round" stroke-opacity="0.9"/>
<polyline points="270.5,187.43 270.94,187.42 271.38,187.41 271.82,187.4 272.26,187.39 272.7,187.37 273.15,187.35 273.59,187.32 274.03,187.29 274.47,187.24 274.91,187.19 275.35,187.12 275.79,187.04 276.23,186.95 276.67,186.84 277.11,186.71 277.55,186.56 277.99,186.4 278.44,186.23 278.88,186.04 279.32,185.83 279.76,185.62 280.2,185.4 280.64,185.17 281.08,184.95 281.52,184.73 281.96,184.52 282.4,184.33 282.84,184.16 283.28,184.02 283.73,183.9 284.17,183.81 284.61,183.76 285.05,183.74 285.49,183.76 285.93,183.81 286.37,183.89 286.81,184 287.25,184.13 287.69,184.28 288.13,184.44 288.57,184.61 289.02,184.77 289.46,184.93 289.9,185.06 290.34,185.18 290.78,185.28 291.22,185.34 291.66,185.37 292.1,185.36 292.54,185.33 292.98,185.25 293.42,185.15 293.87,185.03 294.31,184.88 294.75,184.72 295.19,184.55 295.63,184.38 296.07,184.22 296.51,184.08 296.95,183.95 297.39,183.85 297.83,183.78 298.27,183.74 298.71,183.74 299.16,183.77 299.6,183.83 300.04,183.92 300.48,184.03 300.92,184.16 301.36,184.31 301.8,184.46 302.24,184.6 302.68,184.74 303.12,184.85 303.56,184.95 304,185 304.45,185.03 304.89,185 305.33,184.93 305.77,184.81 306.21,184.63 306.65,184.39 307.09,184.09 307.53,183.72 307.97,183.29 308.41,182.79 308.85,182.23 309.29,181.59 309.74,180.87 310.18,180.09 310.62,179.22 311.06,178.28 311.5,177.25 311.94,176.15 312.38,174.96 312.82,173.68 313.26,172.32 313.7,170.86 314.14,169.32 314.59,167.69 315.03,165.97 315.47,164.17 315.91,162.27 316.35,160.29 316.79,158.23 317.23,156.09 317.67,153.88 318.11,151.6 318.55,149.26 318.99,146.85 319.43,144.41 319.88,141.91 320.32,139.39 320.76,136.85 321.2,134.29 321.64,131.74 322.08,129.19 322.52,126.67 322.96,124.19 323.4,121.75 323.84,119.37 324.28,117.07 324.72,114.85 325.17,112.73 325.61,110.72 326.05,108.84 326.49,107.09 326.93,105.48 327.37,104.04 327.81,102.75 328.25,101.64 328.69,100.71 329.13,99.96 329.57,99.41 330.02,99.05 330.46,98.88 330.9,98.91 331.34,99.09 331.78,99.43 332.22,99.92 332.66,100.57 333.1,101.36 333.54,102.29 333.98,103.37 334.42,104.58 334.86,105.91 335.31,107.37 335.75,108.93 336.19,110.61 336.63,112.38 337.07,114.24 337.51,116.19 337.95,118.2 338.39,120.28 338.83,122.41 339.27,124.59 339.71,126.8 340.15,129.05 340.6,131.31 341.04,133.58 341.48,135.85 341.92,138.12 342.36,140.37 342.8,142.6 343.24,144.81 343.68,146.98 344.12,149.12 344.56,151.21 345,153.25 345.44,155.24 345.89,157.17 346.33,159.04 346.77,160.85 347.21,162.59 347.65,164.26 348.09,165.87 348.53,167.41 348.97,168.87 349.41,170.27 349.85,171.6 350.29,172.85 350.74,174.04 351.18,175.16 351.62,176.21 352.06,177.2 352.5,178.12 352.94,178.98 353.38,179.78 353.82,180.51 354.26,181.19 354.7,181.81 355.14,182.37 355.58,182.88 356.03,183.33 356.47,183.73 356.91,184.07 357.35,184.36 357.79,184.6 358.23,184.79 358.67,184.91 359.11,184.99 359.55,185.01 359.99,184.97 360.43,184.87 360.87,184.72 361.32,184.5 361.76,184.23 362.2,183.89 362.64,183.5 363.08,183.04 363.52,182.52 363.96,181.94 364.4,181.31 364.84,180.63 365.28,179.89 365.72,179.12 366.16,178.3 366.61,177.45 367.05,176.58 367.49,175.7 367.93,174.81 368.37,173.93 368.81,173.06 369.25,172.22 369.69,171.42 370.13,170.66 370.57,169.97 371.01,169.34 371.46,168.79 371.9,168.33 372.34,167.96 372.78,167.69 373.22,167.53 373.66,167.47 374.1,167.49 374.54,167.58 374.98,167.72 375.42,167.91 375.86,168.15 376.3,168.45 376.75,168.8 377.19,169.19 377.63,169.63 378.07,170.1 378.51,170.61 378.95,171.16 379.39,171.73 379.83,172.33 380.27,172.95 380.71,173.58 381.15,174.23 381.59,174.89 382.04,175.55 382.48,176.21 382.92,176.87 383.36,177.53 383.8,178.17 384.24,178.8 384.68,179.42 385.12,180.02 385.56,180.6 386,181.16 386.44,181.69 386.88,182.2 387.33,182.68 387.77,183.13 388.21,183.55 388.65,183.94 389.09,184.3 389.53,184.62 389.97,184.91 390.41,185.16 390.85,185.37 391.29,185.54 391.73,185.67 392.18,185.75 392.62,185.79 393.06,185.78 393.5,185.73 393.94,185.62 394.38,185.45 394.82,185.23 395.26,184.94 395.7,184.59 396.14,184.18 396.58,183.71 397.02,183.16 397.47,182.55 397.91,181.87 398.35,181.12 398.79,180.31 399.23,179.43 399.67,178.5 400.11,177.51 400.55,176.48 400.99,175.4 401.43,174.3 401.87,173.18 402.31,172.05 402.76,170.92 403.2,169.8 403.64,168.72 404.08,167.68 404.52,166.69 404.96,165.77 405.4,164.94 405.84,164.2 406.28,163.56 406.72,163.04 407.16,162.64 407.61,162.36 408.05,162.22 408.49,162.22 408.93,162.35 409.37,162.61 409.81,163 410.25,163.51 410.69,164.14 411.13,164.88 411.57,165.71 412.01,166.62 412.45,167.61 412.9,168.65 413.34,169.74 413.78,170.86 414.22,172 414.66,173.15 415.1,174.29 415.54,175.41 415.98,176.51 416.42,177.57 416.86,178.59 417.3,179.57 417.74,180.49 418.19,181.35 418.63,182.16 419.07,182.9 419.51,183.59 419.95,184.21 420.39,184.78 420.83,185.29 421.27,185.74 421.71,186.15 422.15,186.51 422.59,186.83 423.03,187.1 423.48,187.34 423.92,187.55 424.36,187.72 424.8,187.88 425.24,188 425.68,188.11 426.12,188.2 426.56,188.28 427,188.34 427.44,188.39 427.88,188.43 428.33,188.47 428.77,188.5 429.21,188.52 429.65,188.54 430.09,188.55 430.53,188.56 430.97,188.57 431.41,188.58 431.85,188.58 432.29,188.59 432.73,188.59 433.17,188.59 433.62,188.59 434.06,188.6 434.5,188.6 434.94,188.6 435.38,188.6 435.82,188.6 436.26,188.6 436.7,188.6 437.14,188.6 437.58,188.6 438.02,188.6 438.46,188.6 438.91,188.6 439.35,188.6 439.79,188.6 440.23,188.6 440.67,188.6 441.11,188.6 441.55,188.6 441.99,188.6 442.43,188.6 442.87,188.6 443.31,188.6 443.75,188.6 444.2,188.6 444.64,188.6 445.08,188.6 445.52,188.6 445.96,188.6 446.4,188.6" fill="none" stroke="#5977e3" stroke-width="1.9" stroke-linejoin="round" stroke-linecap="round" stroke-opacity="0.9"/>
<polyline points="270.5,187.43 270.94,187.42 271.38,187.41 271.82,187.4 272.26,187.38 272.7,187.37 273.15,187.34 273.59,187.31 274.03,187.28 274.47,187.23 274.91,187.17 275.35,187.1 275.79,187.02 276.23,186.92 276.67,186.81 277.11,186.67 277.55,186.52 277.99,186.36 278.44,186.17 278.88,185.97 279.32,185.76 279.76,185.54 280.2,185.31 280.64,185.08 281.08,184.85 281.52,184.62 281.96,184.41 282.4,184.21 282.84,184.03 283.28,183.88 283.73,183.76 284.17,183.67 284.61,183.61 285.05,183.6 285.49,183.61 285.93,183.67 286.37,183.75 286.81,183.87 287.25,184.01 287.69,184.17 288.13,184.34 288.57,184.52 289.02,184.7 289.46,184.88 289.9,185.03 290.34,185.17 290.78,185.29 291.22,185.37 291.66,185.43 292.1,185.45 292.54,185.44 292.98,185.4 293.42,185.33 293.87,185.23 294.31,185.11 294.75,184.97 295.19,184.83 295.63,184.69 296.07,184.55 296.51,184.42 296.95,184.31 297.39,184.22 297.83,184.16 298.27,184.13 298.71,184.12 299.16,184.15 299.6,184.21 300.04,184.29 300.48,184.39 300.92,184.51 301.36,184.64 301.8,184.77 302.24,184.9 302.68,185.02 303.12,185.12 303.56,185.2 304,185.24 304.45,185.25 304.89,185.22 305.33,185.15 305.77,185.02 306.21,184.84 306.65,184.61 307.09,184.32 307.53,183.97 307.97,183.55 308.41,183.07 308.85,182.53 309.29,181.92 309.74,181.24 310.18,180.48 310.62,179.66 311.06,178.76 311.5,177.78 311.94,176.73 312.38,175.59 312.82,174.37 313.26,173.07 313.7,171.68 314.14,170.21 314.59,168.66 315.03,167.02 315.47,165.3 315.91,163.49 316.35,161.6 316.79,159.64 317.23,157.6 317.67,155.49 318.11,153.31 318.55,151.07 318.99,148.78 319.43,146.45 319.88,144.07 320.32,141.67 320.76,139.24 321.2,136.8 321.64,134.37 322.08,131.94 322.52,129.53 322.96,127.16 323.4,124.84 323.84,122.57 324.28,120.37 324.72,118.26 325.17,116.24 325.61,114.32 326.05,112.52 326.49,110.86 326.93,109.33 327.37,107.94 327.81,106.72 328.25,105.66 328.69,104.77 329.13,104.06 329.57,103.53 330.02,103.19 330.46,103.03 330.9,103.06 331.34,103.23 331.78,103.55 332.22,104.02 332.66,104.64 333.1,105.39 333.54,106.28 333.98,107.31 334.42,108.46 334.86,109.73 335.31,111.12 335.75,112.62 336.19,114.21 336.63,115.9 337.07,117.68 337.51,119.53 337.95,121.45 338.39,123.44 338.83,125.47 339.27,127.55 339.71,129.66 340.15,131.8 340.6,133.95 341.04,136.12 341.48,138.29 341.92,140.45 342.36,142.6 342.8,144.73 343.24,146.83 343.68,148.91 344.12,150.94 344.56,152.94 345,154.88 345.44,156.78 345.89,158.62 346.33,160.41 346.77,162.13 347.21,163.79 347.65,165.39 348.09,166.92 348.53,168.39 348.97,169.79 349.41,171.13 349.85,172.39 350.29,173.6 350.74,174.73 351.18,175.81 351.62,176.82 352.06,177.77 352.5,178.66 352.94,179.49 353.38,180.26 353.82,180.99 354.26,181.66 354.7,182.28 355.14,182.86 355.58,183.39 356.03,183.87 356.47,184.32 356.91,184.73 357.35,185.1 357.79,185.43 358.23,185.73 358.67,186 359.11,186.23 359.55,186.44 359.99,186.62 360.43,186.76 360.87,186.88 361.32,186.97 361.76,187.04 362.2,187.07 362.64,187.07 363.08,187.05 363.52,186.99 363.96,186.91 364.4,186.79 364.84,186.63 365.28,186.45 365.72,186.23 366.16,185.97 366.61,185.67 367.05,185.34 367.49,184.98 367.93,184.58 368.37,184.14 368.81,183.67 369.25,183.18 369.69,182.65 370.13,182.1 370.57,181.53 371.01,180.94 371.46,180.35 371.9,179.75 372.34,179.16 372.78,178.57 373.22,178 373.66,177.45 374.1,176.94 374.54,176.46 374.98,176.03 375.42,175.64 375.86,175.31 376.3,175.05 376.75,174.85 377.19,174.71 377.63,174.65 378.07,174.65 378.51,174.7 378.95,174.78 379.39,174.89 379.83,175.04 380.27,175.23 380.71,175.44 381.15,175.69 381.59,175.97 382.04,176.28 382.48,176.61 382.92,176.96 383.36,177.33 383.8,177.72 384.24,178.12 384.68,178.53 385.12,178.95 385.56,179.38 386,179.8 386.44,180.23 386.88,180.65 387.33,181.07 387.77,181.48 388.21,181.87 388.65,182.25 389.09,182.61 389.53,182.95 389.97,183.27 390.41,183.55 390.85,183.81 391.29,184.03 391.73,184.22 392.18,184.36 392.62,184.47 393.06,184.52 393.5,184.53 393.94,184.48 394.38,184.37 394.82,184.21 395.26,183.97 395.7,183.68 396.14,183.31 396.58,182.87 397.02,182.36 397.47,181.77 397.91,181.11 398.35,180.38 398.79,179.57 399.23,178.7 399.67,177.76 400.11,176.76 400.55,175.72 400.99,174.63 401.43,173.5 401.87,172.35 402.31,171.19 402.76,170.03 403.2,168.89 403.64,167.77 404.08,166.7 404.52,165.68 404.96,164.74 405.4,163.87 405.84,163.11 406.28,162.45 406.72,161.91 407.16,161.5 407.61,161.22 408.05,161.08 408.49,161.07 408.93,161.21 409.37,161.49 409.81,161.89 410.25,162.43 410.69,163.09 411.13,163.86 411.57,164.72 412.01,165.68 412.45,166.71 412.9,167.8 413.34,168.93 413.78,170.1 414.22,171.29 414.66,172.49 415.1,173.68 415.54,174.85 415.98,175.99 416.42,177.1 416.86,178.17 417.3,179.18 417.74,180.14 418.19,181.04 418.63,181.88 419.07,182.66 419.51,183.37 419.95,184.02 420.39,184.61 420.83,185.15 421.27,185.62 421.71,186.05 422.15,186.42 422.59,186.75 423.03,187.04 423.48,187.29 423.92,187.5 424.36,187.69 424.8,187.84 425.24,187.98 425.68,188.09 426.12,188.19 426.56,188.26 427,188.33 427.44,188.38 427.88,188.43 428.33,188.46 428.77,188.49 429.21,188.51 429.65,188.53 430.09,188.55 430.53,188.56 430.97,188.57 431.41,188.58 431.85,188.58 432.29,188.59 432.73,188.59 433.17,188.59 433.62,188.59 434.06,188.6 434.5,188.6 434.94,188.6 435.38,188.6 435.82,188.6 436.26,188.6 436.7,188.6 437.14,188.6 437.58,188.6 438.02,188.6 438.46,188.6 438.91,188.6 439.35,188.6 439.79,188.6 440.23,188.6 440.67,188.6 441.11,188.6 441.55,188.6 441.99,188.6 442.43,188.6 442.87,188.6 443.31,188.6 443.75,188.6 444.2,188.6 444.64,188.6 445.08,188.6 445.52,188.6 445.96,188.6 446.4,188.6" fill="none" stroke="#3b4cc0" stroke-width="1.9" stroke-linejoin="round" stroke-linecap="round" stroke-opacity="0.9"/>
<line x1="275" y1="115.6" x2="352.98" y2="115.6" stroke="#c4c2b6" stroke-width="1.3" stroke-dasharray="1.3 1.6"/>
<path d="M272 115.6 l3.4 -2.6 l0 5.2 z" fill="#c4c2b6"/>
<path d="M355.98 115.6 l-3.4 -2.6 l0 5.2 z" fill="#c4c2b6"/>
<line x1="360.98" y1="115.6" x2="384.27" y2="115.6" stroke="#f7c843" stroke-width="1.3" stroke-dasharray="1.3 1.6"/>
<path d="M357.98 115.6 l3.4 -2.6 l0 5.2 z" fill="#f7c843"/>
<path d="M387.27 115.6 l-3.4 -2.6 l0 5.2 z" fill="#f7c843"/>
<line x1="392.27" y1="115.6" x2="441.9" y2="115.6" stroke="#dcb47a" stroke-width="1.3" stroke-dasharray="1.3 1.6"/>
<path d="M389.27 115.6 l3.4 -2.6 l0 5.2 z" fill="#dcb47a"/>
<path d="M444.9 115.6 l-3.4 -2.6 l0 5.2 z" fill="#dcb47a"/>
<text x="330.8" y="44.4" font-size="11.5" text-anchor="middle" fill="#c8c4b8" stroke="#c8c4b8" textLength="11.4" lengthAdjust="spacingAndGlyphs">LF</text>
<text x="372.38" y="131.6" font-size="11.5" text-anchor="middle" fill="#f7cc55" stroke="#f7cc55" textLength="16.4" lengthAdjust="spacingAndGlyphs">MF</text>
<text x="418.48" y="131.6" font-size="11.5" text-anchor="middle" fill="#dcb985" stroke="#dcb985" textLength="13.5" lengthAdjust="spacingAndGlyphs">HF</text>
<line x1="360.4" y1="35.5" x2="380.8" y2="35.5" stroke="#cfdaea" stroke-width="1.9"/>
<text x="387.8" y="38.9" font-size="10" text-anchor="start" fill="#1a1a1a" stroke="#1a1a1a" textLength="44.71" lengthAdjust="spacingAndGlyphs">100 mbar</text>
<line x1="360.4" y1="49.14" x2="380.8" y2="49.14" stroke="#bed2f6" stroke-width="1.9"/>
<text x="387.8" y="52.54" font-size="10" text-anchor="start" fill="#1a1a1a" stroke="#1a1a1a" textLength="44.71" lengthAdjust="spacingAndGlyphs">213 mbar</text>
<line x1="360.4" y1="62.78" x2="380.8" y2="62.78" stroke="#9ebeff" stroke-width="1.9"/>
<text x="387.8" y="66.18" font-size="10" text-anchor="start" fill="#1a1a1a" stroke="#1a1a1a" textLength="44.71" lengthAdjust="spacingAndGlyphs">400 mbar</text>
<line x1="360.4" y1="76.42" x2="380.8" y2="76.42" stroke="#8db0fe" stroke-width="1.9"/>
<text x="387.8" y="79.82" font-size="10" text-anchor="start" fill="#1a1a1a" stroke="#1a1a1a" textLength="44.71" lengthAdjust="spacingAndGlyphs">500 mbar</text>
<line x1="360.4" y1="90.06" x2="380.8" y2="90.06" stroke="#5977e3" stroke-width="1.9"/>
<text x="387.8" y="93.46" font-size="10" text-anchor="start" fill="#1a1a1a" stroke="#1a1a1a" textLength="44.71" lengthAdjust="spacingAndGlyphs">800 mbar</text>
<line x1="360.4" y1="103.7" x2="380.8" y2="103.7" stroke="#3b4cc0" stroke-width="1.9"/>
<text x="387.8" y="107.1" font-size="10" text-anchor="start" fill="#1a1a1a" stroke="#1a1a1a" textLength="50.56" lengthAdjust="spacingAndGlyphs">1000 mbar</text>
<rect x="270.5" y="23.4" width="175.9" height="171.9" fill="none" stroke="#8c8c8c" stroke-width="0.9"/>
<line x1="267.9" y1="188.6" x2="270.5" y2="188.6" stroke="#555" stroke-width="0.8"/>
<text x="267.6" y="192.6" font-size="10" text-anchor="end" fill="#1a1a1a" stroke="#1a1a1a" textLength="20.48" lengthAdjust="spacingAndGlyphs">0.00</text>
<line x1="267.9" y1="150.9" x2="270.5" y2="150.9" stroke="#555" stroke-width="0.8"/>
<text x="267.6" y="154.9" font-size="10" text-anchor="end" fill="#1a1a1a" stroke="#1a1a1a" textLength="20.48" lengthAdjust="spacingAndGlyphs">0.05</text>
<line x1="267.9" y1="113.2" x2="270.5" y2="113.2" stroke="#555" stroke-width="0.8"/>
<text x="267.6" y="117.2" font-size="10" text-anchor="end" fill="#1a1a1a" stroke="#1a1a1a" textLength="20.48" lengthAdjust="spacingAndGlyphs">0.10</text>
<line x1="267.9" y1="75.5" x2="270.5" y2="75.5" stroke="#555" stroke-width="0.8"/>
<text x="267.6" y="79.5" font-size="10" text-anchor="end" fill="#1a1a1a" stroke="#1a1a1a" textLength="20.48" lengthAdjust="spacingAndGlyphs">0.15</text>
<line x1="267.9" y1="37.8" x2="270.5" y2="37.8" stroke="#555" stroke-width="0.8"/>
<text x="267.6" y="41.8" font-size="10" text-anchor="end" fill="#1a1a1a" stroke="#1a1a1a" textLength="20.48" lengthAdjust="spacingAndGlyphs">0.20</text>
<line x1="270.5" y1="195.3" x2="270.5" y2="197.9" stroke="#555" stroke-width="0.8"/>
<text x="259.9" y="205.2" font-size="10" text-anchor="start" fill="#1a1a1a" stroke="#1a1a1a" textLength="11.2" lengthAdjust="spacingAndGlyphs">10</text>
<text x="272" y="201.9" font-size="7" text-anchor="start" fill="#1a1a1a" stroke="#1a1a1a" textLength="8.3" lengthAdjust="spacingAndGlyphs">−1</text>
<line x1="329.13" y1="195.3" x2="329.13" y2="197.9" stroke="#555" stroke-width="0.8"/>
<text x="322.13" y="205.2" font-size="10" text-anchor="start" fill="#1a1a1a" stroke="#1a1a1a" textLength="11.2" lengthAdjust="spacingAndGlyphs">10</text>
<text x="334.23" y="201.9" font-size="7" text-anchor="start" fill="#1a1a1a" stroke="#1a1a1a" textLength="3.6" lengthAdjust="spacingAndGlyphs">1</text>
<line x1="387.77" y1="195.3" x2="387.77" y2="197.9" stroke="#555" stroke-width="0.8"/>
<text x="380.77" y="205.2" font-size="10" text-anchor="start" fill="#1a1a1a" stroke="#1a1a1a" textLength="11.2" lengthAdjust="spacingAndGlyphs">10</text>
<text x="392.87" y="201.9" font-size="7" text-anchor="start" fill="#1a1a1a" stroke="#1a1a1a" textLength="3.6" lengthAdjust="spacingAndGlyphs">3</text>
<line x1="446.4" y1="195.3" x2="446.4" y2="197.9" stroke="#555" stroke-width="0.8"/>
<text x="439.4" y="205.2" font-size="10" text-anchor="start" fill="#1a1a1a" stroke="#1a1a1a" textLength="11.2" lengthAdjust="spacingAndGlyphs">10</text>
<text x="451.5" y="201.9" font-size="7" text-anchor="start" fill="#1a1a1a" stroke="#1a1a1a" textLength="3.6" lengthAdjust="spacingAndGlyphs">5</text>
<line x1="299.82" y1="195.3" x2="299.82" y2="196.9" stroke="#555" stroke-width="0.6"/>
<line x1="358.45" y1="195.3" x2="358.45" y2="196.9" stroke="#555" stroke-width="0.6"/>
<line x1="417.08" y1="195.3" x2="417.08" y2="196.9" stroke="#555" stroke-width="0.6"/>
<text x="358.25" y="215.2" font-size="10" text-anchor="middle" fill="#1a1a1a" stroke="#1a1a1a" textLength="69.6" lengthAdjust="spacingAndGlyphs">Frequency (Hz)</text>
<text transform="translate(244.2 109.4) rotate(-90)" font-size="10" fill="#1a1a1a" stroke="#1a1a1a" text-anchor="middle" textLength="82.6" lengthAdjust="spacingAndGlyphs">Gamma (Ω·cm<tspan dy="-3.6" font-size="7.2">2</tspan><tspan dy="3.6">·s)</tspan></text>
<rect x="501.3" y="23.4" width="84.19" height="171.9" fill="#f8f8f6"/>
<rect x="585.49" y="23.4" width="33.15" height="171.9" fill="#fffaec"/>
<rect x="618.63" y="23.4" width="58.67" height="171.9" fill="#faf7f0"/>
<polyline points="501.3,188.6 501.74,188.6 502.18,188.6 502.62,188.6 503.06,188.6 503.51,188.6 503.95,188.6 504.39,188.6 504.83,188.6 505.27,188.6 505.71,188.6 506.15,188.6 506.59,188.6 507.03,188.6 507.48,188.6 507.92,188.6 508.36,188.6 508.8,188.6 509.24,188.6 509.68,188.6 510.12,188.6 510.56,188.6 511,188.6 511.45,188.6 511.89,188.6 512.33,188.6 512.77,188.6 513.21,188.6 513.65,188.6 514.09,188.6 514.53,188.6 514.97,188.6 515.42,188.6 515.86,188.6 516.3,188.6 516.74,188.6 517.18,188.6 517.62,188.6 518.06,188.6 518.5,188.6 518.94,188.6 519.39,188.6 519.83,188.6 520.27,188.6 520.71,188.6 521.15,188.6 521.59,188.6 522.03,188.6 522.47,188.6 522.91,188.6 523.36,188.6 523.8,188.6 524.24,188.6 524.68,188.6 525.12,188.6 525.56,188.6 526,188.6 526.44,188.6 526.88,188.6 527.33,188.6 527.77,188.6 528.21,188.6 528.65,188.6 529.09,188.6 529.53,188.6 529.97,188.6 530.41,188.6 530.85,188.6 531.29,188.6 531.74,188.6 532.18,188.6 532.62,188.6 533.06,188.6 533.5,188.6 533.94,188.6 534.38,188.6 534.82,188.6 535.26,188.6 535.71,188.6 536.15,188.59 536.59,188.59 537.03,188.59 537.47,188.59 537.91,188.59 538.35,188.58 538.79,188.58 539.23,188.57 539.68,188.57 540.12,188.56 540.56,188.55 541,188.54 541.44,188.53 541.88,188.51 542.32,188.49 542.76,188.46 543.2,188.44 543.65,188.4 544.09,188.36 544.53,188.31 544.97,188.25 545.41,188.19 545.85,188.11 546.29,188.02 546.73,187.91 547.17,187.78 547.62,187.64 548.06,187.47 548.5,187.28 548.94,187.06 549.38,186.82 549.82,186.53 550.26,186.21 550.7,185.85 551.14,185.44 551.59,184.99 552.03,184.48 552.47,183.92 552.91,183.29 553.35,182.6 553.79,181.84 554.23,181.01 554.67,180.1 555.11,179.11 555.56,178.04 556,176.89 556.44,175.65 556.88,174.32 557.32,172.9 557.76,171.4 558.2,169.82 558.64,168.15 559.08,166.4 559.53,164.58 559.97,162.69 560.41,160.73 560.85,158.72 561.29,156.67 561.73,154.58 562.17,152.46 562.61,150.34 563.05,148.21 563.5,146.1 563.94,144.01 564.38,141.97 564.82,139.98 565.26,138.07 565.7,136.24 566.14,134.52 566.58,132.91 567.02,131.44 567.47,130.1 567.91,128.92 568.35,127.91 568.79,127.06 569.23,126.4 569.67,125.93 570.11,125.65 570.55,125.57 570.99,125.67 571.44,125.98 571.88,126.47 572.32,127.15 572.76,128.02 573.2,129.05 573.64,130.25 574.08,131.6 574.52,133.09 574.96,134.71 575.41,136.45 575.85,138.28 576.29,140.2 576.73,142.19 577.17,144.23 577.61,146.31 578.05,148.42 578.49,150.54 578.93,152.65 579.38,154.75 579.82,156.82 580.26,158.85 580.7,160.82 581.14,162.74 581.58,164.59 582.02,166.36 582.46,168.05 582.9,169.66 583.35,171.17 583.79,172.58 584.23,173.9 584.67,175.12 585.11,176.23 585.55,177.25 585.99,178.16 586.43,178.97 586.87,179.69 587.32,180.31 587.76,180.83 588.2,181.25 588.64,181.59 589.08,181.84 589.52,182 589.96,182.08 590.4,182.08 590.84,182.01 591.28,181.86 591.73,181.65 592.17,181.37 592.61,181.03 593.05,180.63 593.49,180.18 593.93,179.69 594.37,179.15 594.81,178.58 595.25,177.98 595.7,177.35 596.14,176.7 596.58,176.04 597.02,175.38 597.46,174.71 597.9,174.06 598.34,173.42 598.78,172.79 599.22,172.2 599.67,171.64 600.11,171.12 600.55,170.65 600.99,170.23 601.43,169.86 601.87,169.55 602.31,169.31 602.75,169.13 603.19,169.02 603.64,168.99 604.08,169.02 604.52,169.12 604.96,169.29 605.4,169.53 605.84,169.83 606.28,170.2 606.72,170.62 607.16,171.09 607.61,171.62 608.05,172.19 608.49,172.8 608.93,173.44 609.37,174.1 609.81,174.79 610.25,175.49 610.69,176.2 611.13,176.91 611.58,177.63 612.02,178.33 612.46,179.03 612.9,179.71 613.34,180.37 613.78,181.01 614.22,181.62 614.66,182.2 615.1,182.76 615.55,183.28 615.99,183.77 616.43,184.22 616.87,184.65 617.31,185.03 617.75,185.38 618.19,185.7 618.63,185.98 619.07,186.23 619.52,186.44 619.96,186.62 620.4,186.76 620.84,186.87 621.28,186.94 621.72,186.98 622.16,186.98 622.6,186.95 623.04,186.88 623.49,186.77 623.93,186.62 624.37,186.43 624.81,186.2 625.25,185.93 625.69,185.61 626.13,185.25 626.57,184.84 627.01,184.39 627.46,183.89 627.9,183.34 628.34,182.75 628.78,182.12 629.22,181.44 629.66,180.73 630.1,179.98 630.54,179.2 630.98,178.4 631.43,177.57 631.87,176.74 632.31,175.9 632.75,175.06 633.19,174.23 633.63,173.42 634.07,172.65 634.51,171.91 634.95,171.21 635.4,170.57 635.84,170 636.28,169.5 636.72,169.07 637.16,168.73 637.6,168.47 638.04,168.31 638.48,168.24 638.92,168.27 639.37,168.39 639.81,168.61 640.25,168.91 640.69,169.3 641.13,169.77 641.57,170.31 642.01,170.93 642.45,171.6 642.89,172.32 643.34,173.08 643.78,173.88 644.22,174.7 644.66,175.54 645.1,176.38 645.54,177.22 645.98,178.05 646.42,178.87 646.86,179.67 647.31,180.44 647.75,181.18 648.19,181.88 648.63,182.54 649.07,183.17 649.51,183.75 649.95,184.29 650.39,184.79 650.83,185.24 651.27,185.66 651.72,186.04 652.16,186.37 652.6,186.68 653.04,186.95 653.48,187.18 653.92,187.39 654.36,187.58 654.8,187.74 655.24,187.87 655.69,187.99 656.13,188.1 656.57,188.18 657.01,188.26 657.45,188.32 657.89,188.37 658.33,188.41 658.77,188.45 659.21,188.48 659.66,188.5 660.1,188.52 660.54,188.54 660.98,188.55 661.42,188.56 661.86,188.57 662.3,188.58 662.74,188.58 663.18,188.59 663.63,188.59 664.07,188.59 664.51,188.59 664.95,188.6 665.39,188.6 665.83,188.6 666.27,188.6 666.71,188.6 667.15,188.6 667.6,188.6 668.04,188.6 668.48,188.6 668.92,188.6 669.36,188.6 669.8,188.6 670.24,188.6 670.68,188.6 671.12,188.6 671.57,188.6 672.01,188.6 672.45,188.6 672.89,188.6 673.33,188.6 673.77,188.6 674.21,188.6 674.65,188.6 675.09,188.6 675.54,188.6 675.98,188.6 676.42,188.6 676.86,188.6 677.3,188.6" fill="none" stroke="#e9d5cb" stroke-width="1.9" stroke-linejoin="round" stroke-linecap="round" stroke-opacity="0.9"/>
<polyline points="501.3,188.6 501.74,188.6 502.18,188.6 502.62,188.6 503.06,188.6 503.51,188.6 503.95,188.6 504.39,188.6 504.83,188.6 505.27,188.6 505.71,188.6 506.15,188.6 506.59,188.6 507.03,188.6 507.48,188.6 507.92,188.6 508.36,188.6 508.8,188.6 509.24,188.6 509.68,188.6 510.12,188.6 510.56,188.6 511,188.6 511.45,188.6 511.89,188.6 512.33,188.6 512.77,188.6 513.21,188.6 513.65,188.6 514.09,188.6 514.53,188.6 514.97,188.6 515.42,188.6 515.86,188.6 516.3,188.6 516.74,188.6 517.18,188.6 517.62,188.6 518.06,188.6 518.5,188.6 518.94,188.6 519.39,188.6 519.83,188.6 520.27,188.6 520.71,188.6 521.15,188.6 521.59,188.6 522.03,188.6 522.47,188.6 522.91,188.6 523.36,188.6 523.8,188.6 524.24,188.6 524.68,188.6 525.12,188.6 525.56,188.6 526,188.6 526.44,188.6 526.88,188.6 527.33,188.6 527.77,188.6 528.21,188.6 528.65,188.6 529.09,188.6 529.53,188.6 529.97,188.6 530.41,188.6 530.85,188.6 531.29,188.6 531.74,188.6 532.18,188.6 532.62,188.6 533.06,188.6 533.5,188.6 533.94,188.6 534.38,188.6 534.82,188.6 535.26,188.6 535.71,188.6 536.15,188.6 536.59,188.59 537.03,188.59 537.47,188.59 537.91,188.59 538.35,188.58 538.79,188.58 539.23,188.58 539.68,188.57 540.12,188.56 540.56,188.55 541,188.54 541.44,188.53 541.88,188.51 542.32,188.49 542.76,188.47 543.2,188.44 543.65,188.41 544.09,188.37 544.53,188.32 544.97,188.27 545.41,188.2 545.85,188.13 546.29,188.04 546.73,187.94 547.17,187.82 547.62,187.68 548.06,187.52 548.5,187.34 548.94,187.13 549.38,186.89 549.82,186.62 550.26,186.31 550.7,185.97 551.14,185.58 551.59,185.14 552.03,184.66 552.47,184.12 552.91,183.52 553.35,182.86 553.79,182.13 554.23,181.33 554.67,180.46 555.11,179.52 555.56,178.49 556,177.39 556.44,176.2 556.88,174.93 557.32,173.58 557.76,172.14 558.2,170.63 558.64,169.03 559.08,167.36 559.53,165.61 559.97,163.8 560.41,161.93 560.85,160.01 561.29,158.04 561.73,156.04 562.17,154.02 562.61,151.98 563.05,149.95 563.5,147.93 563.94,145.93 564.38,143.98 564.82,142.08 565.26,140.25 565.7,138.5 566.14,136.85 566.58,135.31 567.02,133.9 567.47,132.62 567.91,131.49 568.35,130.52 568.79,129.71 569.23,129.08 569.67,128.63 570.11,128.36 570.55,128.28 570.99,128.38 571.44,128.67 571.88,129.15 572.32,129.8 572.76,130.63 573.2,131.62 573.64,132.76 574.08,134.06 574.52,135.48 574.96,137.03 575.41,138.69 575.85,140.45 576.29,142.28 576.73,144.19 577.17,146.14 577.61,148.13 578.05,150.15 578.49,152.18 578.93,154.2 579.38,156.21 579.82,158.19 580.26,160.13 580.7,162.03 581.14,163.86 581.58,165.63 582.02,167.33 582.46,168.95 582.9,170.48 583.35,171.93 583.79,173.29 584.23,174.55 584.67,175.72 585.11,176.79 585.55,177.77 585.99,178.65 586.43,179.43 586.87,180.12 587.32,180.72 587.76,181.22 588.2,181.64 588.64,181.97 589.08,182.22 589.52,182.39 589.96,182.48 590.4,182.49 590.84,182.44 591.28,182.31 591.73,182.12 592.17,181.87 592.61,181.57 593.05,181.21 593.49,180.8 593.93,180.35 594.37,179.85 594.81,179.33 595.25,178.78 595.7,178.2 596.14,177.6 596.58,177 597.02,176.39 597.46,175.77 597.9,175.17 598.34,174.58 598.78,174.01 599.22,173.46 599.67,172.94 600.11,172.47 600.55,172.03 600.99,171.64 601.43,171.3 601.87,171.02 602.31,170.79 602.75,170.63 603.19,170.53 603.64,170.49 604.08,170.52 604.52,170.62 604.96,170.78 605.4,171 605.84,171.27 606.28,171.61 606.72,172 607.16,172.44 607.61,172.93 608.05,173.45 608.49,174.01 608.93,174.6 609.37,175.22 609.81,175.85 610.25,176.5 610.69,177.15 611.13,177.81 611.58,178.47 612.02,179.12 612.46,179.76 612.9,180.39 613.34,181 613.78,181.59 614.22,182.15 614.66,182.69 615.1,183.2 615.55,183.69 615.99,184.14 616.43,184.56 616.87,184.95 617.31,185.3 617.75,185.63 618.19,185.92 618.63,186.18 619.07,186.4 619.52,186.6 619.96,186.76 620.4,186.89 620.84,186.98 621.28,187.05 621.72,187.08 622.16,187.08 622.6,187.04 623.04,186.97 623.49,186.86 623.93,186.71 624.37,186.53 624.81,186.3 625.25,186.04 625.69,185.73 626.13,185.38 626.57,184.99 627.01,184.55 627.46,184.07 627.9,183.54 628.34,182.97 628.78,182.36 629.22,181.71 629.66,181.02 630.1,180.3 630.54,179.55 630.98,178.78 631.43,177.98 631.87,177.18 632.31,176.37 632.75,175.56 633.19,174.76 633.63,173.99 634.07,173.24 634.51,172.52 634.95,171.86 635.4,171.24 635.84,170.69 636.28,170.2 636.72,169.79 637.16,169.46 637.6,169.22 638.04,169.06 638.48,169 638.92,169.02 639.37,169.14 639.81,169.35 640.25,169.64 640.69,170.01 641.13,170.47 641.57,170.99 642.01,171.58 642.45,172.23 642.89,172.92 643.34,173.66 643.78,174.42 644.22,175.21 644.66,176.02 645.1,176.83 645.54,177.64 645.98,178.44 646.42,179.23 646.86,180 647.31,180.74 647.75,181.45 648.19,182.13 648.63,182.77 649.07,183.37 649.51,183.93 649.95,184.45 650.39,184.93 650.83,185.37 651.27,185.77 651.72,186.13 652.16,186.46 652.6,186.75 653.04,187.01 653.48,187.24 653.92,187.44 654.36,187.61 654.8,187.77 655.24,187.9 655.69,188.02 656.13,188.11 656.57,188.2 657.01,188.27 657.45,188.33 657.89,188.38 658.33,188.42 658.77,188.45 659.21,188.48 659.66,188.51 660.1,188.52 660.54,188.54 660.98,188.55 661.42,188.56 661.86,188.57 662.3,188.58 662.74,188.58 663.18,188.59 663.63,188.59 664.07,188.59 664.51,188.59 664.95,188.6 665.39,188.6 665.83,188.6 666.27,188.6 666.71,188.6 667.15,188.6 667.6,188.6 668.04,188.6 668.48,188.6 668.92,188.6 669.36,188.6 669.8,188.6 670.24,188.6 670.68,188.6 671.12,188.6 671.57,188.6 672.01,188.6 672.45,188.6 672.89,188.6 673.33,188.6 673.77,188.6 674.21,188.6 674.65,188.6 675.09,188.6 675.54,188.6 675.98,188.6 676.42,188.6 676.86,188.6 677.3,188.6" fill="none" stroke="#f2c9b4" stroke-width="1.9" stroke-linejoin="round" stroke-linecap="round" stroke-opacity="0.9"/>
<polyline points="501.3,188.6 501.74,188.6 502.18,188.6 502.62,188.6 503.06,188.6 503.51,188.6 503.95,188.6 504.39,188.6 504.83,188.6 505.27,188.6 505.71,188.6 506.15,188.6 506.59,188.6 507.03,188.6 507.48,188.6 507.92,188.6 508.36,188.6 508.8,188.6 509.24,188.6 509.68,188.6 510.12,188.6 510.56,188.6 511,188.6 511.45,188.6 511.89,188.6 512.33,188.6 512.77,188.6 513.21,188.6 513.65,188.6 514.09,188.6 514.53,188.6 514.97,188.6 515.42,188.6 515.86,188.6 516.3,188.6 516.74,188.6 517.18,188.6 517.62,188.6 518.06,188.6 518.5,188.6 518.94,188.6 519.39,188.6 519.83,188.6 520.27,188.6 520.71,188.6 521.15,188.6 521.59,188.6 522.03,188.6 522.47,188.6 522.91,188.6 523.36,188.6 523.8,188.6 524.24,188.6 524.68,188.6 525.12,188.6 525.56,188.6 526,188.6 526.44,188.6 526.88,188.6 527.33,188.6 527.77,188.6 528.21,188.6 528.65,188.6 529.09,188.6 529.53,188.6 529.97,188.6 530.41,188.6 530.85,188.6 531.29,188.6 531.74,188.6 532.18,188.6 532.62,188.6 533.06,188.6 533.5,188.6 533.94,188.6 534.38,188.6 534.82,188.6 535.26,188.6 535.71,188.6 536.15,188.6 536.59,188.59 537.03,188.59 537.47,188.59 537.91,188.59 538.35,188.59 538.79,188.58 539.23,188.58 539.68,188.58 540.12,188.57 540.56,188.56 541,188.55 541.44,188.54 541.88,188.53 542.32,188.51 542.76,188.49 543.2,188.47 543.65,188.45 544.09,188.41 544.53,188.38 544.97,188.33 545.41,188.28 545.85,188.22 546.29,188.15 546.73,188.06 547.17,187.97 547.62,187.85 548.06,187.72 548.5,187.58 548.94,187.41 549.38,187.21 549.82,186.99 550.26,186.74 550.7,186.46 551.14,186.15 551.59,185.79 552.03,185.4 552.47,184.96 552.91,184.47 553.35,183.93 553.79,183.34 554.23,182.7 554.67,181.99 555.11,181.22 555.56,180.39 556,179.49 556.44,178.53 556.88,177.5 557.32,176.4 557.76,175.23 558.2,174 558.64,172.7 559.08,171.34 559.53,169.92 559.97,168.45 560.41,166.93 560.85,165.37 561.29,163.77 561.73,162.15 562.17,160.5 562.61,158.85 563.05,157.2 563.5,155.55 563.94,153.93 564.38,152.34 564.82,150.8 565.26,149.31 565.7,147.89 566.14,146.55 566.58,145.3 567.02,144.16 567.47,143.12 567.91,142.2 568.35,141.41 568.79,140.76 569.23,140.24 569.67,139.87 570.11,139.66 570.55,139.59 570.99,139.67 571.44,139.91 571.88,140.3 572.32,140.83 572.76,141.5 573.2,142.3 573.64,143.23 574.08,144.28 574.52,145.44 574.96,146.7 575.41,148.05 575.85,149.48 576.29,150.97 576.73,152.51 577.17,154.1 577.61,155.72 578.05,157.36 578.49,159.01 578.93,160.65 579.38,162.28 579.82,163.89 580.26,165.47 580.7,167.01 581.14,168.5 581.58,169.93 582.02,171.31 582.46,172.63 582.9,173.87 583.35,175.05 583.79,176.15 584.23,177.18 584.67,178.12 585.11,178.99 585.55,179.78 585.99,180.49 586.43,181.13 586.87,181.68 587.32,182.16 587.76,182.57 588.2,182.91 588.64,183.17 589.08,183.37 589.52,183.49 589.96,183.56 590.4,183.56 590.84,183.51 591.28,183.4 591.73,183.24 592.17,183.02 592.61,182.76 593.05,182.46 593.49,182.12 593.93,181.74 594.37,181.33 594.81,180.89 595.25,180.42 595.7,179.94 596.14,179.44 596.58,178.94 597.02,178.43 597.46,177.92 597.9,177.41 598.34,176.92 598.78,176.44 599.22,175.99 599.67,175.56 600.11,175.16 600.55,174.79 600.99,174.47 601.43,174.18 601.87,173.95 602.31,173.76 602.75,173.63 603.19,173.54 603.64,173.51 604.08,173.54 604.52,173.61 604.96,173.75 605.4,173.93 605.84,174.16 606.28,174.44 606.72,174.77 607.16,175.13 607.61,175.54 608.05,175.98 608.49,176.44 608.93,176.93 609.37,177.45 609.81,177.98 610.25,178.51 610.69,179.06 611.13,179.61 611.58,180.16 612.02,180.7 612.46,181.24 612.9,181.76 613.34,182.27 613.78,182.76 614.22,183.23 614.66,183.68 615.1,184.1 615.55,184.5 615.99,184.88 616.43,185.23 616.87,185.55 617.31,185.84 617.75,186.11 618.19,186.35 618.63,186.57 619.07,186.75 619.52,186.91 619.96,187.04 620.4,187.14 620.84,187.21 621.28,187.26 621.72,187.27 622.16,187.26 622.6,187.22 623.04,187.14 623.49,187.03 623.93,186.89 624.37,186.72 624.81,186.51 625.25,186.26 625.69,185.97 626.13,185.65 626.57,185.28 627.01,184.87 627.46,184.43 627.9,183.94 628.34,183.41 628.78,182.85 629.22,182.24 629.66,181.61 630.1,180.94 630.54,180.25 630.98,179.53 631.43,178.8 631.87,178.06 632.31,177.31 632.75,176.56 633.19,175.83 633.63,175.11 634.07,174.42 634.51,173.76 634.95,173.14 635.4,172.58 635.84,172.07 636.28,171.62 636.72,171.24 637.16,170.94 637.6,170.71 638.04,170.57 638.48,170.51 638.92,170.53 639.37,170.64 639.81,170.83 640.25,171.1 640.69,171.44 641.13,171.86 641.57,172.35 642.01,172.89 642.45,173.49 642.89,174.13 643.34,174.81 643.78,175.51 644.22,176.24 644.66,176.99 645.1,177.74 645.54,178.49 645.98,179.23 646.42,179.95 646.86,180.66 647.31,181.34 647.75,182 648.19,182.63 648.63,183.22 649.07,183.77 649.51,184.29 649.95,184.77 650.39,185.21 650.83,185.62 651.27,185.99 651.72,186.32 652.16,186.62 652.6,186.89 653.04,187.13 653.48,187.34 653.92,187.53 654.36,187.69 654.8,187.83 655.24,187.96 655.69,188.06 656.13,188.15 656.57,188.23 657.01,188.29 657.45,188.35 657.89,188.39 658.33,188.43 658.77,188.46 659.21,188.49 659.66,188.51 660.1,188.53 660.54,188.54 660.98,188.56 661.42,188.57 661.86,188.57 662.3,188.58 662.74,188.58 663.18,188.59 663.63,188.59 664.07,188.59 664.51,188.59 664.95,188.6 665.39,188.6 665.83,188.6 666.27,188.6 666.71,188.6 667.15,188.6 667.6,188.6 668.04,188.6 668.48,188.6 668.92,188.6 669.36,188.6 669.8,188.6 670.24,188.6 670.68,188.6 671.12,188.6 671.57,188.6 672.01,188.6 672.45,188.6 672.89,188.6 673.33,188.6 673.77,188.6 674.21,188.6 674.65,188.6 675.09,188.6 675.54,188.6 675.98,188.6 676.42,188.6 676.86,188.6 677.3,188.6" fill="none" stroke="#f7ac8e" stroke-width="1.9" stroke-linejoin="round" stroke-linecap="round" stroke-opacity="0.9"/>
<polyline points="501.3,188.6 501.74,188.6 502.18,188.6 502.62,188.6 503.06,188.6 503.51,188.6 503.95,188.6 504.39,188.6 504.83,188.6 505.27,188.6 505.71,188.6 506.15,188.6 506.59,188.6 507.03,188.6 507.48,188.6 507.92,188.6 508.36,188.6 508.8,188.6 509.24,188.6 509.68,188.6 510.12,188.6 510.56,188.6 511,188.6 511.45,188.6 511.89,188.6 512.33,188.6 512.77,188.6 513.21,188.6 513.65,188.6 514.09,188.6 514.53,188.6 514.97,188.6 515.42,188.6 515.86,188.6 516.3,188.6 516.74,188.6 517.18,188.6 517.62,188.6 518.06,188.6 518.5,188.6 518.94,188.6 519.39,188.6 519.83,188.6 520.27,188.6 520.71,188.6 521.15,188.6 521.59,188.6 522.03,188.6 522.47,188.6 522.91,188.6 523.36,188.6 523.8,188.6 524.24,188.6 524.68,188.6 525.12,188.6 525.56,188.6 526,188.6 526.44,188.6 526.88,188.6 527.33,188.6 527.77,188.6 528.21,188.6 528.65,188.6 529.09,188.6 529.53,188.6 529.97,188.6 530.41,188.6 530.85,188.6 531.29,188.6 531.74,188.6 532.18,188.6 532.62,188.6 533.06,188.6 533.5,188.6 533.94,188.6 534.38,188.6 534.82,188.6 535.26,188.6 535.71,188.6 536.15,188.6 536.59,188.6 537.03,188.59 537.47,188.59 537.91,188.59 538.35,188.59 538.79,188.59 539.23,188.58 539.68,188.58 540.12,188.58 540.56,188.57 541,188.56 541.44,188.55 541.88,188.54 542.32,188.53 542.76,188.52 543.2,188.5 543.65,188.48 544.09,188.45 544.53,188.42 544.97,188.39 545.41,188.34 545.85,188.29 546.29,188.24 546.73,188.17 547.17,188.09 547.62,188 548.06,187.9 548.5,187.78 548.94,187.64 549.38,187.49 549.82,187.31 550.26,187.11 550.7,186.89 551.14,186.64 551.59,186.35 552.03,186.04 552.47,185.69 552.91,185.3 553.35,184.87 553.79,184.39 554.23,183.88 554.67,183.31 555.11,182.7 555.56,182.03 556,181.31 556.44,180.54 556.88,179.72 557.32,178.84 557.76,177.9 558.2,176.92 558.64,175.88 559.08,174.79 559.53,173.66 559.97,172.48 560.41,171.27 560.85,170.02 561.29,168.74 561.73,167.44 562.17,166.12 562.61,164.8 563.05,163.48 563.5,162.16 563.94,160.86 564.38,159.59 564.82,158.36 565.26,157.17 565.7,156.03 566.14,154.96 566.58,153.96 567.02,153.04 567.47,152.21 567.91,151.48 568.35,150.85 568.79,150.32 569.23,149.91 569.67,149.62 570.11,149.45 570.55,149.39 570.99,149.46 571.44,149.65 571.88,149.96 572.32,150.38 572.76,150.92 573.2,151.56 573.64,152.31 574.08,153.15 574.52,154.07 574.96,155.08 575.41,156.16 575.85,157.3 576.29,158.49 576.73,159.73 577.17,161 577.61,162.3 578.05,163.61 578.49,164.92 578.93,166.24 579.38,167.54 579.82,168.83 580.26,170.09 580.7,171.32 581.14,172.51 581.58,173.66 582.02,174.76 582.46,175.81 582.9,176.81 583.35,177.74 583.79,178.62 584.23,179.44 584.67,180.19 585.11,180.88 585.55,181.51 585.99,182.07 586.43,182.57 586.87,183.01 587.32,183.39 587.76,183.71 588.2,183.96 588.64,184.16 589.08,184.31 589.52,184.4 589.96,184.44 590.4,184.43 590.84,184.37 591.28,184.26 591.73,184.11 592.17,183.92 592.61,183.69 593.05,183.42 593.49,183.13 593.93,182.8 594.37,182.44 594.81,182.07 595.25,181.67 595.7,181.26 596.14,180.83 596.58,180.4 597.02,179.96 597.46,179.53 597.9,179.1 598.34,178.68 598.78,178.27 599.22,177.88 599.67,177.51 600.11,177.17 600.55,176.86 600.99,176.59 601.43,176.35 601.87,176.15 602.31,175.99 602.75,175.87 603.19,175.8 603.64,175.78 604.08,175.8 604.52,175.86 604.96,175.97 605.4,176.13 605.84,176.33 606.28,176.57 606.72,176.84 607.16,177.15 607.61,177.5 608.05,177.87 608.49,178.27 608.93,178.68 609.37,179.12 609.81,179.57 610.25,180.03 610.69,180.49 611.13,180.96 611.58,181.42 612.02,181.89 612.46,182.34 612.9,182.78 613.34,183.22 613.78,183.63 614.22,184.03 614.66,184.41 615.1,184.77 615.55,185.11 615.99,185.43 616.43,185.73 616.87,186 617.31,186.25 617.75,186.48 618.19,186.68 618.63,186.86 619.07,187.02 619.52,187.15 619.96,187.25 620.4,187.34 620.84,187.39 621.28,187.43 621.72,187.43 622.16,187.41 622.6,187.37 623.04,187.29 623.49,187.19 623.93,187.06 624.37,186.89 624.81,186.7 625.25,186.47 625.69,186.2 626.13,185.9 626.57,185.56 627.01,185.19 627.46,184.78 627.9,184.33 628.34,183.85 628.78,183.33 629.22,182.78 629.66,182.19 630.1,181.58 630.54,180.95 630.98,180.29 631.43,179.62 631.87,178.94 632.31,178.25 632.75,177.57 633.19,176.89 633.63,176.24 634.07,175.6 634.51,175 634.95,174.43 635.4,173.91 635.84,173.44 636.28,173.03 636.72,172.69 637.16,172.41 637.6,172.2 638.04,172.07 638.48,172.01 638.92,172.04 639.37,172.13 639.81,172.31 640.25,172.56 640.69,172.87 641.13,173.26 641.57,173.7 642.01,174.2 642.45,174.75 642.89,175.33 643.34,175.96 643.78,176.6 644.22,177.27 644.66,177.95 645.1,178.64 645.54,179.33 645.98,180.01 646.42,180.67 646.86,181.32 647.31,181.95 647.75,182.55 648.19,183.12 648.63,183.66 649.07,184.17 649.51,184.65 649.95,185.09 650.39,185.49 650.83,185.87 651.27,186.2 651.72,186.51 652.16,186.79 652.6,187.03 653.04,187.25 653.48,187.45 653.92,187.62 654.36,187.77 654.8,187.9 655.24,188.01 655.69,188.11 656.13,188.19 656.57,188.26 657.01,188.32 657.45,188.37 657.89,188.41 658.33,188.45 658.77,188.48 659.21,188.5 659.66,188.52 660.1,188.54 660.54,188.55 660.98,188.56 661.42,188.57 661.86,188.58 662.3,188.58 662.74,188.59 663.18,188.59 663.63,188.59 664.07,188.59 664.51,188.59 664.95,188.6 665.39,188.6 665.83,188.6 666.27,188.6 666.71,188.6 667.15,188.6 667.6,188.6 668.04,188.6 668.48,188.6 668.92,188.6 669.36,188.6 669.8,188.6 670.24,188.6 670.68,188.6 671.12,188.6 671.57,188.6 672.01,188.6 672.45,188.6 672.89,188.6 673.33,188.6 673.77,188.6 674.21,188.6 674.65,188.6 675.09,188.6 675.54,188.6 675.98,188.6 676.42,188.6 676.86,188.6 677.3,188.6" fill="none" stroke="#f4987a" stroke-width="1.9" stroke-linejoin="round" stroke-linecap="round" stroke-opacity="0.9"/>
<polyline points="501.3,188.6 501.74,188.6 502.18,188.6 502.62,188.6 503.06,188.6 503.51,188.6 503.95,188.6 504.39,188.6 504.83,188.6 505.27,188.6 505.71,188.6 506.15,188.6 506.59,188.6 507.03,188.6 507.48,188.6 507.92,188.6 508.36,188.6 508.8,188.6 509.24,188.6 509.68,188.6 510.12,188.6 510.56,188.6 511,188.6 511.45,188.6 511.89,188.6 512.33,188.6 512.77,188.6 513.21,188.6 513.65,188.6 514.09,188.6 514.53,188.6 514.97,188.6 515.42,188.6 515.86,188.6 516.3,188.6 516.74,188.6 517.18,188.6 517.62,188.6 518.06,188.6 518.5,188.6 518.94,188.6 519.39,188.6 519.83,188.6 520.27,188.6 520.71,188.6 521.15,188.6 521.59,188.6 522.03,188.6 522.47,188.6 522.91,188.6 523.36,188.6 523.8,188.6 524.24,188.6 524.68,188.6 525.12,188.6 525.56,188.6 526,188.6 526.44,188.6 526.88,188.6 527.33,188.6 527.77,188.6 528.21,188.6 528.65,188.6 529.09,188.6 529.53,188.6 529.97,188.6 530.41,188.6 530.85,188.6 531.29,188.6 531.74,188.6 532.18,188.6 532.62,188.6 533.06,188.6 533.5,188.6 533.94,188.6 534.38,188.6 534.82,188.6 535.26,188.6 535.71,188.6 536.15,188.6 536.59,188.6 537.03,188.6 537.47,188.59 537.91,188.59 538.35,188.59 538.79,188.59 539.23,188.58 539.68,188.58 540.12,188.58 540.56,188.57 541,188.56 541.44,188.56 541.88,188.55 542.32,188.53 542.76,188.52 543.2,188.5 543.65,188.48 544.09,188.46 544.53,188.43 544.97,188.4 545.41,188.36 545.85,188.31 546.29,188.26 546.73,188.19 547.17,188.12 547.62,188.04 548.06,187.94 548.5,187.83 548.94,187.7 549.38,187.55 549.82,187.39 550.26,187.2 550.7,186.99 551.14,186.75 551.59,186.48 552.03,186.19 552.47,185.85 552.91,185.49 553.35,185.08 553.79,184.64 554.23,184.15 554.67,183.62 555.11,183.04 555.56,182.41 556,181.73 556.44,181.01 556.88,180.23 557.32,179.4 557.76,178.52 558.2,177.59 558.64,176.61 559.08,175.59 559.53,174.52 559.97,173.41 560.41,172.27 560.85,171.09 561.29,169.88 561.73,168.66 562.17,167.42 562.61,166.17 563.05,164.93 563.5,163.69 563.94,162.46 564.38,161.27 564.82,160.1 565.26,158.98 565.7,157.91 566.14,156.9 566.58,155.96 567.02,155.1 567.47,154.31 567.91,153.62 568.35,153.03 568.79,152.53 569.23,152.15 569.67,151.87 570.11,151.7 570.55,151.65 570.99,151.72 571.44,151.9 571.88,152.19 572.32,152.59 572.76,153.09 573.2,153.7 573.64,154.4 574.08,155.19 574.52,156.07 574.96,157.02 575.41,158.03 575.85,159.11 576.29,160.23 576.73,161.4 577.17,162.59 577.61,163.81 578.05,165.05 578.49,166.29 578.93,167.53 579.38,168.76 579.82,169.97 580.26,171.16 580.7,172.32 581.14,173.45 581.58,174.53 582.02,175.57 582.46,176.56 582.9,177.5 583.35,178.39 583.79,179.22 584.23,179.99 584.67,180.7 585.11,181.36 585.55,181.95 585.99,182.49 586.43,182.97 586.87,183.39 587.32,183.75 587.76,184.06 588.2,184.31 588.64,184.51 589.08,184.66 589.52,184.76 589.96,184.81 590.4,184.82 590.84,184.78 591.28,184.69 591.73,184.57 592.17,184.41 592.61,184.22 593.05,183.99 593.49,183.73 593.93,183.45 594.37,183.14 594.81,182.81 595.25,182.47 595.7,182.1 596.14,181.73 596.58,181.35 597.02,180.97 597.46,180.59 597.9,180.21 598.34,179.84 598.78,179.48 599.22,179.14 599.67,178.82 600.11,178.52 600.55,178.24 600.99,178 601.43,177.79 601.87,177.61 602.31,177.47 602.75,177.37 603.19,177.31 603.64,177.28 604.08,177.3 604.52,177.36 604.96,177.46 605.4,177.6 605.84,177.77 606.28,177.98 606.72,178.23 607.16,178.5 607.61,178.8 608.05,179.13 608.49,179.48 608.93,179.85 609.37,180.24 609.81,180.63 610.25,181.04 610.69,181.45 611.13,181.86 611.58,182.27 612.02,182.68 612.46,183.08 612.9,183.47 613.34,183.85 613.78,184.22 614.22,184.57 614.66,184.91 615.1,185.22 615.55,185.52 615.99,185.8 616.43,186.07 616.87,186.31 617.31,186.53 617.75,186.73 618.19,186.9 618.63,187.06 619.07,187.2 619.52,187.31 619.96,187.4 620.4,187.48 620.84,187.52 621.28,187.55 621.72,187.56 622.16,187.54 622.6,187.49 623.04,187.42 623.49,187.33 623.93,187.21 624.37,187.05 624.81,186.88 625.25,186.66 625.69,186.42 626.13,186.15 626.57,185.84 627.01,185.5 627.46,185.13 627.9,184.72 628.34,184.28 628.78,183.81 629.22,183.31 629.66,182.78 630.1,182.22 630.54,181.64 630.98,181.05 631.43,180.43 631.87,179.82 632.31,179.19 632.75,178.57 633.19,177.96 633.63,177.36 634.07,176.78 634.51,176.23 634.95,175.72 635.4,175.25 635.84,174.82 636.28,174.45 636.72,174.13 637.16,173.88 637.6,173.69 638.04,173.57 638.48,173.52 638.92,173.54 639.37,173.63 639.81,173.79 640.25,174.01 640.69,174.3 641.13,174.65 641.57,175.06 642.01,175.51 642.45,176.01 642.89,176.54 643.34,177.11 643.78,177.7 644.22,178.3 644.66,178.92 645.1,179.55 645.54,180.17 645.98,180.79 646.42,181.39 646.86,181.98 647.31,182.55 647.75,183.1 648.19,183.62 648.63,184.11 649.07,184.58 649.51,185.01 649.95,185.41 650.39,185.78 650.83,186.11 651.27,186.42 651.72,186.7 652.16,186.95 652.6,187.18 653.04,187.37 653.48,187.55 653.92,187.71 654.36,187.84 654.8,187.96 655.24,188.06 655.69,188.15 656.13,188.23 656.57,188.29 657.01,188.34 657.45,188.39 657.89,188.43 658.33,188.46 658.77,188.49 659.21,188.51 659.66,188.53 660.1,188.54 660.54,188.55 660.98,188.56 661.42,188.57 661.86,188.58 662.3,188.58 662.74,188.59 663.18,188.59 663.63,188.59 664.07,188.59 664.51,188.6 664.95,188.6 665.39,188.6 665.83,188.6 666.27,188.6 666.71,188.6 667.15,188.6 667.6,188.6 668.04,188.6 668.48,188.6 668.92,188.6 669.36,188.6 669.8,188.6 670.24,188.6 670.68,188.6 671.12,188.6 671.57,188.6 672.01,188.6 672.45,188.6 672.89,188.6 673.33,188.6 673.77,188.6 674.21,188.6 674.65,188.6 675.09,188.6 675.54,188.6 675.98,188.6 676.42,188.6 676.86,188.6 677.3,188.6" fill="none" stroke="#d65244" stroke-width="1.9" stroke-linejoin="round" stroke-linecap="round" stroke-opacity="0.9"/>
<polyline points="501.3,188.6 501.74,188.6 502.18,188.6 502.62,188.6 503.06,188.6 503.51,188.6 503.95,188.6 504.39,188.6 504.83,188.6 505.27,188.6 505.71,188.6 506.15,188.6 506.59,188.6 507.03,188.6 507.48,188.6 507.92,188.6 508.36,188.6 508.8,188.6 509.24,188.6 509.68,188.6 510.12,188.6 510.56,188.6 511,188.6 511.45,188.6 511.89,188.6 512.33,188.6 512.77,188.6 513.21,188.6 513.65,188.6 514.09,188.6 514.53,188.6 514.97,188.6 515.42,188.6 515.86,188.6 516.3,188.6 516.74,188.6 517.18,188.6 517.62,188.6 518.06,188.6 518.5,188.6 518.94,188.6 519.39,188.6 519.83,188.6 520.27,188.6 520.71,188.6 521.15,188.6 521.59,188.6 522.03,188.6 522.47,188.6 522.91,188.6 523.36,188.6 523.8,188.6 524.24,188.6 524.68,188.6 525.12,188.6 525.56,188.6 526,188.6 526.44,188.6 526.88,188.6 527.33,188.6 527.77,188.6 528.21,188.6 528.65,188.6 529.09,188.6 529.53,188.6 529.97,188.6 530.41,188.6 530.85,188.6 531.29,188.6 531.74,188.6 532.18,188.6 532.62,188.6 533.06,188.6 533.5,188.6 533.94,188.6 534.38,188.6 534.82,188.6 535.26,188.6 535.71,188.6 536.15,188.6 536.59,188.6 537.03,188.6 537.47,188.59 537.91,188.59 538.35,188.59 538.79,188.59 539.23,188.59 539.68,188.58 540.12,188.58 540.56,188.58 541,188.57 541.44,188.56 541.88,188.55 542.32,188.54 542.76,188.53 543.2,188.52 543.65,188.5 544.09,188.48 544.53,188.45 544.97,188.43 545.41,188.39 545.85,188.35 546.29,188.3 546.73,188.25 547.17,188.19 547.62,188.11 548.06,188.03 548.5,187.93 548.94,187.82 549.38,187.7 549.82,187.55 550.26,187.39 550.7,187.21 551.14,187 551.59,186.77 552.03,186.52 552.47,186.23 552.91,185.91 553.35,185.56 553.79,185.18 554.23,184.76 554.67,184.3 555.11,183.8 555.56,183.26 556,182.67 556.44,182.05 556.88,181.37 557.32,180.66 557.76,179.9 558.2,179.1 558.64,178.25 559.08,177.37 559.53,176.45 559.97,175.49 560.41,174.5 560.85,173.48 561.29,172.44 561.73,171.39 562.17,170.32 562.61,169.24 563.05,168.16 563.5,167.09 563.94,166.04 564.38,165 564.82,164 565.26,163.03 565.7,162.11 566.14,161.24 566.58,160.42 567.02,159.68 567.47,159 567.91,158.4 568.35,157.89 568.79,157.46 569.23,157.13 569.67,156.89 570.11,156.75 570.55,156.71 570.99,156.76 571.44,156.91 571.88,157.16 572.32,157.51 572.76,157.95 573.2,158.47 573.64,159.08 574.08,159.76 574.52,160.51 574.96,161.33 575.41,162.21 575.85,163.14 576.29,164.11 576.73,165.12 577.17,166.15 577.61,167.2 578.05,168.27 578.49,169.34 578.93,170.41 579.38,171.47 579.82,172.52 580.26,173.55 580.7,174.55 581.14,175.52 581.58,176.46 582.02,177.35 582.46,178.21 582.9,179.02 583.35,179.79 583.79,180.5 584.23,181.17 584.67,181.79 585.11,182.36 585.55,182.87 585.99,183.34 586.43,183.75 586.87,184.12 587.32,184.43 587.76,184.7 588.2,184.92 588.64,185.1 589.08,185.23 589.52,185.31 589.96,185.36 590.4,185.37 590.84,185.34 591.28,185.27 591.73,185.17 592.17,185.04 592.61,184.88 593.05,184.69 593.49,184.47 593.93,184.23 594.37,183.97 594.81,183.69 595.25,183.4 595.7,183.1 596.14,182.78 596.58,182.46 597.02,182.14 597.46,181.81 597.9,181.49 598.34,181.18 598.78,180.88 599.22,180.59 599.67,180.32 600.11,180.06 600.55,179.83 600.99,179.63 601.43,179.45 601.87,179.3 602.31,179.18 602.75,179.09 603.19,179.04 603.64,179.02 604.08,179.03 604.52,179.08 604.96,179.17 605.4,179.28 605.84,179.43 606.28,179.61 606.72,179.82 607.16,180.05 607.61,180.31 608.05,180.58 608.49,180.88 608.93,181.19 609.37,181.52 609.81,181.85 610.25,182.2 610.69,182.54 611.13,182.89 611.58,183.24 612.02,183.58 612.46,183.92 612.9,184.25 613.34,184.58 613.78,184.89 614.22,185.19 614.66,185.47 615.1,185.74 615.55,185.99 615.99,186.23 616.43,186.45 616.87,186.65 617.31,186.84 617.75,187 618.19,187.15 618.63,187.28 619.07,187.4 619.52,187.49 619.96,187.56 620.4,187.62 620.84,187.65 621.28,187.67 621.72,187.66 622.16,187.64 622.6,187.59 623.04,187.52 623.49,187.42 623.93,187.3 624.37,187.15 624.81,186.98 625.25,186.78 625.69,186.54 626.13,186.28 626.57,185.99 627.01,185.66 627.46,185.31 627.9,184.92 628.34,184.5 628.78,184.05 629.22,183.57 629.66,183.07 630.1,182.54 630.54,181.99 630.98,181.42 631.43,180.84 631.87,180.26 632.31,179.66 632.75,179.07 633.19,178.49 633.63,177.92 634.07,177.37 634.51,176.85 634.95,176.36 635.4,175.92 635.84,175.51 636.28,175.16 636.72,174.86 637.16,174.62 637.6,174.44 638.04,174.32 638.48,174.28 638.92,174.29 639.37,174.38 639.81,174.53 640.25,174.74 640.69,175.02 641.13,175.35 641.57,175.73 642.01,176.16 642.45,176.63 642.89,177.14 643.34,177.68 643.78,178.24 644.22,178.82 644.66,179.41 645.1,180 645.54,180.59 645.98,181.18 646.42,181.75 646.86,182.31 647.31,182.86 647.75,183.38 648.19,183.87 648.63,184.34 649.07,184.78 649.51,185.19 649.95,185.57 650.39,185.92 650.83,186.24 651.27,186.53 651.72,186.8 652.16,187.03 652.6,187.25 653.04,187.44 653.48,187.6 653.92,187.75 654.36,187.88 654.8,187.99 655.24,188.09 655.69,188.17 656.13,188.24 656.57,188.31 657.01,188.36 657.45,188.4 657.89,188.44 658.33,188.47 658.77,188.49 659.21,188.51 659.66,188.53 660.1,188.54 660.54,188.56 660.98,188.57 661.42,188.57 661.86,188.58 662.3,188.58 662.74,188.59 663.18,188.59 663.63,188.59 664.07,188.59 664.51,188.6 664.95,188.6 665.39,188.6 665.83,188.6 666.27,188.6 666.71,188.6 667.15,188.6 667.6,188.6 668.04,188.6 668.48,188.6 668.92,188.6 669.36,188.6 669.8,188.6 670.24,188.6 670.68,188.6 671.12,188.6 671.57,188.6 672.01,188.6 672.45,188.6 672.89,188.6 673.33,188.6 673.77,188.6 674.21,188.6 674.65,188.6 675.09,188.6 675.54,188.6 675.98,188.6 676.42,188.6 676.86,188.6 677.3,188.6" fill="none" stroke="#b40426" stroke-width="1.9" stroke-linejoin="round" stroke-linecap="round" stroke-opacity="0.9"/>
<line x1="505.8" y1="115.6" x2="581.49" y2="115.6" stroke="#c4c2b6" stroke-width="1.3" stroke-dasharray="1.3 1.6"/>
<path d="M502.8 115.6 l3.4 -2.6 l0 5.2 z" fill="#c4c2b6"/>
<path d="M584.49 115.6 l-3.4 -2.6 l0 5.2 z" fill="#c4c2b6"/>
<line x1="589.49" y1="115.6" x2="615.13" y2="115.6" stroke="#f7c843" stroke-width="1.3" stroke-dasharray="1.3 1.6"/>
<path d="M586.49 115.6 l3.4 -2.6 l0 5.2 z" fill="#f7c843"/>
<path d="M618.13 115.6 l-3.4 -2.6 l0 5.2 z" fill="#f7c843"/>
<line x1="623.13" y1="115.6" x2="672.8" y2="115.6" stroke="#dcb47a" stroke-width="1.3" stroke-dasharray="1.3 1.6"/>
<path d="M620.13 115.6 l3.4 -2.6 l0 5.2 z" fill="#dcb47a"/>
<path d="M675.8 115.6 l-3.4 -2.6 l0 5.2 z" fill="#dcb47a"/>
<text x="569" y="111.9" font-size="11.5" text-anchor="middle" fill="#c8c4b8" stroke="#c8c4b8" textLength="11.4" lengthAdjust="spacingAndGlyphs">LF</text>
<text x="602.06" y="131.6" font-size="11.5" text-anchor="middle" fill="#f7cc55" stroke="#f7cc55" textLength="16.4" lengthAdjust="spacingAndGlyphs">MF</text>
<text x="649.37" y="131.6" font-size="11.5" text-anchor="middle" fill="#dcb985" stroke="#dcb985" textLength="13.5" lengthAdjust="spacingAndGlyphs">HF</text>
<line x1="591.3" y1="35.5" x2="611.7" y2="35.5" stroke="#e9d5cb" stroke-width="1.9"/>
<text x="618.7" y="38.9" font-size="10" text-anchor="start" fill="#1a1a1a" stroke="#1a1a1a" textLength="44.71" lengthAdjust="spacingAndGlyphs">100 mbar</text>
<line x1="591.3" y1="49.14" x2="611.7" y2="49.14" stroke="#f2c9b4" stroke-width="1.9"/>
<text x="618.7" y="52.54" font-size="10" text-anchor="start" fill="#1a1a1a" stroke="#1a1a1a" textLength="44.71" lengthAdjust="spacingAndGlyphs">213 mbar</text>
<line x1="591.3" y1="62.78" x2="611.7" y2="62.78" stroke="#f7ac8e" stroke-width="1.9"/>
<text x="618.7" y="66.18" font-size="10" text-anchor="start" fill="#1a1a1a" stroke="#1a1a1a" textLength="44.71" lengthAdjust="spacingAndGlyphs">400 mbar</text>
<line x1="591.3" y1="76.42" x2="611.7" y2="76.42" stroke="#f4987a" stroke-width="1.9"/>
<text x="618.7" y="79.82" font-size="10" text-anchor="start" fill="#1a1a1a" stroke="#1a1a1a" textLength="44.71" lengthAdjust="spacingAndGlyphs">500 mbar</text>
<line x1="591.3" y1="90.06" x2="611.7" y2="90.06" stroke="#d65244" stroke-width="1.9"/>
<text x="618.7" y="93.46" font-size="10" text-anchor="start" fill="#1a1a1a" stroke="#1a1a1a" textLength="44.71" lengthAdjust="spacingAndGlyphs">800 mbar</text>
<line x1="591.3" y1="103.7" x2="611.7" y2="103.7" stroke="#b40426" stroke-width="1.9"/>
<text x="618.7" y="107.1" font-size="10" text-anchor="start" fill="#1a1a1a" stroke="#1a1a1a" textLength="50.56" lengthAdjust="spacingAndGlyphs">1000 mbar</text>
<rect x="501.3" y="23.4" width="176" height="171.9" fill="none" stroke="#8c8c8c" stroke-width="0.9"/>
<line x1="498.7" y1="188.6" x2="501.3" y2="188.6" stroke="#555" stroke-width="0.8"/>
<text x="498.4" y="192.6" font-size="10" text-anchor="end" fill="#1a1a1a" stroke="#1a1a1a" textLength="20.48" lengthAdjust="spacingAndGlyphs">0.00</text>
<line x1="498.7" y1="150.9" x2="501.3" y2="150.9" stroke="#555" stroke-width="0.8"/>
<text x="498.4" y="154.9" font-size="10" text-anchor="end" fill="#1a1a1a" stroke="#1a1a1a" textLength="20.48" lengthAdjust="spacingAndGlyphs">0.05</text>
<line x1="498.7" y1="113.2" x2="501.3" y2="113.2" stroke="#555" stroke-width="0.8"/>
<text x="498.4" y="117.2" font-size="10" text-anchor="end" fill="#1a1a1a" stroke="#1a1a1a" textLength="20.48" lengthAdjust="spacingAndGlyphs">0.10</text>
<line x1="498.7" y1="75.5" x2="501.3" y2="75.5" stroke="#555" stroke-width="0.8"/>
<text x="498.4" y="79.5" font-size="10" text-anchor="end" fill="#1a1a1a" stroke="#1a1a1a" textLength="20.48" lengthAdjust="spacingAndGlyphs">0.15</text>
<line x1="498.7" y1="37.8" x2="501.3" y2="37.8" stroke="#555" stroke-width="0.8"/>
<text x="498.4" y="41.8" font-size="10" text-anchor="end" fill="#1a1a1a" stroke="#1a1a1a" textLength="20.48" lengthAdjust="spacingAndGlyphs">0.20</text>
<line x1="501.3" y1="195.3" x2="501.3" y2="197.9" stroke="#555" stroke-width="0.8"/>
<text x="490.7" y="205.2" font-size="10" text-anchor="start" fill="#1a1a1a" stroke="#1a1a1a" textLength="11.2" lengthAdjust="spacingAndGlyphs">10</text>
<text x="502.8" y="201.9" font-size="7" text-anchor="start" fill="#1a1a1a" stroke="#1a1a1a" textLength="8.3" lengthAdjust="spacingAndGlyphs">−1</text>
<line x1="559.97" y1="195.3" x2="559.97" y2="197.9" stroke="#555" stroke-width="0.8"/>
<text x="552.97" y="205.2" font-size="10" text-anchor="start" fill="#1a1a1a" stroke="#1a1a1a" textLength="11.2" lengthAdjust="spacingAndGlyphs">10</text>
<text x="565.07" y="201.9" font-size="7" text-anchor="start" fill="#1a1a1a" stroke="#1a1a1a" textLength="3.6" lengthAdjust="spacingAndGlyphs">1</text>
<line x1="618.63" y1="195.3" x2="618.63" y2="197.9" stroke="#555" stroke-width="0.8"/>
<text x="611.63" y="205.2" font-size="10" text-anchor="start" fill="#1a1a1a" stroke="#1a1a1a" textLength="11.2" lengthAdjust="spacingAndGlyphs">10</text>
<text x="623.73" y="201.9" font-size="7" text-anchor="start" fill="#1a1a1a" stroke="#1a1a1a" textLength="3.6" lengthAdjust="spacingAndGlyphs">3</text>
<line x1="677.3" y1="195.3" x2="677.3" y2="197.9" stroke="#555" stroke-width="0.8"/>
<text x="670.3" y="205.2" font-size="10" text-anchor="start" fill="#1a1a1a" stroke="#1a1a1a" textLength="11.2" lengthAdjust="spacingAndGlyphs">10</text>
<text x="682.4" y="201.9" font-size="7" text-anchor="start" fill="#1a1a1a" stroke="#1a1a1a" textLength="3.6" lengthAdjust="spacingAndGlyphs">5</text>
<line x1="530.63" y1="195.3" x2="530.63" y2="196.9" stroke="#555" stroke-width="0.6"/>
<line x1="589.3" y1="195.3" x2="589.3" y2="196.9" stroke="#555" stroke-width="0.6"/>
<line x1="647.97" y1="195.3" x2="647.97" y2="196.9" stroke="#555" stroke-width="0.6"/>
<text x="589.1" y="215.2" font-size="10" text-anchor="middle" fill="#1a1a1a" stroke="#1a1a1a" textLength="69.6" lengthAdjust="spacingAndGlyphs">Frequency (Hz)</text>
<text transform="translate(475 109.4) rotate(-90)" font-size="10" fill="#1a1a1a" stroke="#1a1a1a" text-anchor="middle" textLength="82.6" lengthAdjust="spacingAndGlyphs">Gamma (Ω·cm<tspan dy="-3.6" font-size="7.2">2</tspan><tspan dy="3.6">·s)</tspan></text>
<text x="71.2" y="249.2" font-size="10" text-anchor="start" fill="#1a1a1a" stroke="#1a1a1a" textLength="17.56" lengthAdjust="spacingAndGlyphs">100</text>
<text x="101.8" y="248.7" font-size="10" fill="#1a1a1a" stroke="#1a1a1a"><tspan font-style="italic">p</tspan>O<tspan dy="2.2" font-size="7.2">2</tspan><tspan dy="-2.2" textLength="35.8" lengthAdjust="spacingAndGlyphs"> (mbar)</tspan></text>
<text x="189.8" y="249.2" font-size="10" text-anchor="end" fill="#1a1a1a" stroke="#1a1a1a" textLength="23.41" lengthAdjust="spacingAndGlyphs">1000</text>
<text x="32.4" y="260.5" font-size="9.6" text-anchor="start" fill="#4a6ad8" stroke="#4a6ad8" textLength="20.9" lengthAdjust="spacingAndGlyphs">LSCF</text>
<text x="18.3" y="278.6" font-size="9.6" fill="#e2654f"><tspan textLength="44.2" lengthAdjust="spacingAndGlyphs">LSCF+PrO</tspan><tspan dy="2" font-size="7.2" font-style="italic">x</tspan></text>
<rect x="71.6" y="252.9" width="119.9" height="8.5" fill="url(#cbb)" stroke="#4f70e2" stroke-width="0.9"/>
<rect x="71.6" y="270.4" width="119.9" height="9.1" fill="url(#cbr)" stroke="#e2664f" stroke-width="0.9"/>
<svg x="32.2" y="299.5" width="152.4" height="116.6" overflow="hidden">
<g transform="translate(-32.2 -299.5)">
<polyline points="32.2,317.38 33.53,319.85 34.86,322.17 36.19,324.38 37.52,326.48 38.84,328.49 40.17,330.43 41.5,332.32 42.83,334.15 44.16,335.94 45.49,337.7 46.82,339.43 48.15,341.13 49.47,342.81 50.8,344.48 52.13,346.13 53.46,347.77 54.79,349.41 56.12,351.03 57.45,352.65 58.78,354.26 60.11,355.86 61.43,357.46 62.76,359.06 64.09,360.66 65.42,362.25 66.75,363.84 68.08,365.43 69.41,367.02 70.74,368.61 72.06,370.2 73.39,371.78 74.72,373.37 76.05,374.95 77.38,376.54 78.71,378.12 80.04,379.71 81.37,381.29 82.69,382.87 84.02,384.45 85.35,386.04 86.68,387.62 88.01,389.2 89.34,390.79 90.67,392.37 92,393.95 93.33,395.53 94.65,397.11 95.98,398.7 97.31,400.28 98.64,401.86 99.97,403.44 101.3,405.03 102.63,406.61 103.96,408.19 105.28,409.77 106.61,411.35 107.94,412.94 109.27,414.52 110.6,416.1" fill="none" stroke="#e9d5cb" stroke-width="0.95" stroke-linejoin="round" stroke-linecap="round" stroke-dasharray="2.2 1.3" stroke-linecap="butt"/>
<polyline points="32.2,317.38 33.78,320 35.36,322.42 36.93,324.68 38.51,326.81 40.09,328.83 41.67,330.77 43.25,332.64 44.82,334.45 46.4,336.22 47.98,337.95 49.56,339.65 51.14,341.33 52.71,343 54.29,344.64 55.87,346.28 57.45,347.9 59.03,349.51 60.6,351.12 62.18,352.73 63.76,354.33 65.34,355.92 66.92,357.52 68.49,359.11 70.07,360.7 71.65,362.29 73.23,363.87 74.81,365.46 76.38,367.04 77.96,368.63 79.54,370.21 81.12,371.8 82.69,373.38 84.27,374.96 85.85,376.55 87.43,378.13 89.01,379.71 90.58,381.29 92.16,382.88 93.74,384.46 95.32,386.04 96.9,387.62 98.47,389.2 100.05,390.79 101.63,392.37 103.21,393.95 104.79,395.53 106.36,397.12 107.94,398.7 109.52,400.28 111.1,401.86 112.68,403.44 114.25,405.03 115.83,406.61 117.41,408.19 118.99,409.77 120.57,411.35 122.14,412.94 123.72,414.52 125.3,416.1" fill="none" stroke="#f2cbb7" stroke-width="0.95" stroke-linejoin="round" stroke-linecap="round" stroke-dasharray="2.2 1.3" stroke-linecap="butt"/>
<polyline points="32.2,317.38 33.9,320.07 35.61,322.54 37.31,324.82 39.01,326.96 40.71,328.98 42.42,330.91 44.12,332.77 45.82,334.57 47.52,336.33 49.23,338.05 50.93,339.74 52.63,341.41 54.33,343.06 56.04,344.7 57.74,346.32 59.44,347.94 61.14,349.55 62.85,351.15 64.55,352.75 66.25,354.35 67.95,355.94 69.66,357.53 71.36,359.12 73.06,360.71 74.76,362.29 76.47,363.88 78.17,365.46 79.87,367.05 81.57,368.63 83.28,370.22 84.98,371.8 86.68,373.38 88.38,374.96 90.09,376.55 91.79,378.13 93.49,379.71 95.19,381.29 96.9,382.88 98.6,384.46 100.3,386.04 102,387.62 103.71,389.21 105.41,390.79 107.11,392.37 108.81,393.95 110.52,395.53 112.22,397.12 113.92,398.7 115.62,400.28 117.33,401.86 119.03,403.44 120.73,405.03 122.43,406.61 124.14,408.19 125.84,409.77 127.54,411.35 129.24,412.94 130.95,414.52 132.65,416.1" fill="none" stroke="#f7b396" stroke-width="0.95" stroke-linejoin="round" stroke-linecap="round" stroke-dasharray="2.2 1.3" stroke-linecap="butt"/>
<polyline points="32.2,317.38 34.23,320.26 36.27,322.83 38.3,325.16 40.34,327.31 42.37,329.32 44.41,331.23 46.44,333.06 48.48,334.83 50.51,336.55 52.55,338.24 54.58,339.91 56.62,341.55 58.65,343.18 60.69,344.8 62.72,346.41 64.76,348.01 66.79,349.61 68.83,351.2 70.86,352.79 72.89,354.38 74.93,355.97 76.96,357.55 79,359.14 81.03,360.72 83.07,362.31 85.1,363.89 87.14,365.47 89.17,367.05 91.21,368.64 93.24,370.22 95.28,371.8 97.31,373.38 99.35,374.97 101.38,376.55 103.42,378.13 105.45,379.71 107.49,381.3 109.52,382.88 111.56,384.46 113.59,386.04 115.62,387.62 117.66,389.21 119.69,390.79 121.73,392.37 123.76,393.95 125.8,395.53 127.83,397.12 129.87,398.7 131.9,400.28 133.94,401.86 135.97,403.44 138.01,405.03 140.04,406.61 142.08,408.19 144.11,409.77 146.15,411.35 148.18,412.94 150.22,414.52 152.25,416.1" fill="none" stroke="#f6a283" stroke-width="0.95" stroke-linejoin="round" stroke-linecap="round" stroke-dasharray="2.2 1.3" stroke-linecap="butt"/>
<polyline points="32.2,317.2 32.48,317.43 33.03,317.89 33.87,318.59 34.98,319.51 36.37,320.67 38.04,322.06 39.99,323.68 42.21,325.53 44.47,327.4 46.77,329.31 49.09,331.24 51.46,333.21 53.85,335.2 56.28,337.22 58.75,339.26 61.25,341.34 63.91,343.45 66.72,345.61 69.69,347.82 72.81,350.06 76.09,352.35 79.53,354.67 83.12,357.04 86.88,359.46 90.78,361.91 94.84,364.39 99.06,366.92 103.44,369.48 107.97,372.08 112.66,374.72 117.5,377.39 122.5,380.11 127.57,382.86 132.72,385.66 137.93,388.5 143.22,391.38 148.58,394.3 154.01,397.27 159.51,400.27 165.09,403.32 169.97,405.99 174.15,408.28 177.63,410.19 180.42,411.71 182.51,412.86 183.9,413.62 184.6,414" fill="none" stroke="#e16751" stroke-width="0.95" stroke-linejoin="round" stroke-linecap="round" stroke-dasharray="2.2 1.3" stroke-linecap="butt"/>
<polyline points="32.2,317.2 32.48,317.41 33.03,317.82 33.87,318.45 34.98,319.28 36.37,320.32 38.04,321.56 39.99,323.02 42.21,324.68 44.47,326.38 46.77,328.13 49.09,329.91 51.46,331.74 53.85,333.6 56.28,335.51 58.75,337.46 61.25,339.44 63.91,341.48 66.72,343.55 69.69,345.68 72.81,347.85 76.09,350.06 79.53,352.32 83.12,354.62 86.88,356.97 90.78,359.37 94.84,361.8 99.06,364.28 103.44,366.8 107.97,369.36 112.66,371.96 117.5,374.61 122.5,377.29 127.57,380.02 132.72,382.78 137.93,385.57 143.22,388.4 148.58,391.27 154.01,394.17 159.51,397.11 165.09,400.09 169.97,402.69 174.15,404.92 177.63,406.78 180.42,408.27 182.51,409.38 183.9,410.13 184.6,410.5" fill="none" stroke="#c53334" stroke-width="0.95" stroke-linejoin="round" stroke-linecap="round" stroke-dasharray="2.2 1.3" stroke-linecap="butt"/>
<line x1="32.2" y1="317.38" x2="68.46" y2="416.1" stroke="#d5dbe5" stroke-width="0.6" stroke-dasharray="1.2 1.2"/>
<line x1="32.2" y1="317.38" x2="72.38" y2="416.1" stroke="#c0d4f5" stroke-width="0.6" stroke-dasharray="1.2 1.2"/>
<line x1="32.2" y1="317.38" x2="75.32" y2="416.1" stroke="#afcafc" stroke-width="0.6" stroke-dasharray="1.2 1.2"/>
<line x1="32.2" y1="317.38" x2="77.77" y2="416.1" stroke="#a2c1ff" stroke-width="0.6" stroke-dasharray="1.2 1.2"/>
<line x1="32.2" y1="317.38" x2="80.22" y2="416.1" stroke="#94b6ff" stroke-width="0.6" stroke-dasharray="1.2 1.2"/>
<line x1="32.2" y1="317.38" x2="82.67" y2="416.1" stroke="#82a6fb" stroke-width="0.6" stroke-dasharray="1.2 1.2"/>
<line x1="32.2" y1="317.38" x2="85.61" y2="416.1" stroke="#7093f3" stroke-width="0.6" stroke-dasharray="1.2 1.2"/>
<line x1="32.2" y1="317.38" x2="88.55" y2="416.1" stroke="#5f7fe8" stroke-width="0.6" stroke-dasharray="1.2 1.2"/>
<line x1="32.2" y1="317.38" x2="93.45" y2="416.1" stroke="#3b4cc0" stroke-width="0.6" stroke-dasharray="1.2 1.2"/>
<polyline points="32.2,416.1 32.68,414.66 33.17,413.25 33.65,411.88 34.14,410.54 34.62,409.24 35.1,407.97 35.59,406.74 36.07,405.54 36.55,404.38 37.04,403.25 37.52,402.16 38.01,401.11 38.49,400.09 38.97,399.1 39.46,398.15 39.94,397.24 40.42,396.36 40.91,395.51 41.39,394.7 41.88,393.93 42.36,393.19 42.84,392.48 43.33,391.81 43.81,391.18 44.29,390.58 44.78,390.02 45.26,389.49 45.75,389 46.23,388.54 46.71,388.11 47.2,387.73 47.68,387.37 48.17,387.06 48.65,386.77 49.13,386.53 49.62,386.32 50.1,386.14 50.58,386 51.07,385.89 51.55,385.82 52.04,385.78 52.52,385.78 53,385.83 53.49,385.91 53.97,386.04 54.45,386.21 54.94,386.43 55.42,386.68 55.91,386.99 56.39,387.33 56.87,387.72 57.36,388.15 57.84,388.62 58.33,389.14 58.81,389.7 59.29,390.3 59.78,390.95 60.26,391.64 60.74,392.37 61.23,393.15 61.71,393.97 62.2,394.83 62.68,395.74 63.16,396.68 63.65,397.68 64.13,398.71 64.61,399.79 65.1,400.91 65.58,402.08 66.07,403.28 66.55,404.54 67.03,405.83 67.52,407.17 68,408.55 68.48,409.97 68.97,411.44 69.45,412.95 69.94,414.5 70.42,416.1" fill="none" stroke="#d5dbe5" stroke-width="1.4" stroke-linejoin="round" stroke-linecap="round"/>
<polyline points="32.2,416.1 32.75,414.47 33.3,412.89 33.86,411.34 34.41,409.84 34.96,408.37 35.51,406.95 36.06,405.56 36.62,404.22 37.17,402.91 37.72,401.65 38.27,400.43 38.82,399.25 39.38,398.1 39.93,397 40.48,395.94 41.03,394.92 41.58,393.94 42.14,393 42.69,392.1 43.24,391.24 43.79,390.42 44.34,389.64 44.9,388.9 45.45,388.2 46,387.54 46.55,386.92 47.1,386.34 47.66,385.81 48.21,385.31 48.76,384.85 49.31,384.43 49.86,384.06 50.42,383.72 50.97,383.43 51.52,383.17 52.07,382.96 52.62,382.78 53.18,382.65 53.73,382.55 54.28,382.5 54.83,382.49 55.39,382.52 55.94,382.59 56.49,382.72 57.04,382.89 57.59,383.1 58.15,383.36 58.7,383.67 59.25,384.03 59.8,384.43 60.35,384.87 60.91,385.36 61.46,385.9 62.01,386.49 62.56,387.12 63.11,387.79 63.67,388.52 64.22,389.29 64.77,390.1 65.32,390.96 65.87,391.87 66.43,392.83 66.98,393.83 67.53,394.87 68.08,395.96 68.63,397.1 69.19,398.29 69.74,399.52 70.29,400.79 70.84,402.12 71.39,403.49 71.95,404.9 72.5,406.36 73.05,407.87 73.6,409.42 74.15,411.02 74.71,412.67 75.26,414.36 75.81,416.1" fill="none" stroke="#c0d4f5" stroke-width="1.4" stroke-linejoin="round" stroke-linecap="round"/>
<polyline points="32.2,416.1 32.77,414.44 33.34,412.81 33.9,411.23 34.47,409.69 35.04,408.18 35.61,406.72 36.17,405.29 36.74,403.91 37.31,402.56 37.88,401.26 38.44,399.99 39.01,398.77 39.58,397.58 40.15,396.43 40.71,395.33 41.28,394.26 41.85,393.24 42.42,392.25 42.98,391.3 43.55,390.39 44.12,389.53 44.69,388.7 45.25,387.91 45.82,387.16 46.39,386.45 46.96,385.79 47.52,385.16 48.09,384.57 48.66,384.02 49.23,383.51 49.79,383.04 50.36,382.61 50.93,382.22 51.5,381.87 52.06,381.56 52.63,381.29 53.2,381.06 53.77,380.87 54.33,380.71 54.9,380.6 55.47,380.53 56.04,380.5 56.6,380.51 57.17,380.57 57.74,380.69 58.31,380.86 58.87,381.08 59.44,381.35 60.01,381.68 60.58,382.06 61.14,382.5 61.71,382.98 62.28,383.52 62.85,384.11 63.41,384.76 63.98,385.46 64.55,386.21 65.12,387.01 65.68,387.87 66.25,388.78 66.82,389.74 67.39,390.75 67.95,391.82 68.52,392.94 69.09,394.11 69.66,395.34 70.22,396.62 70.79,397.95 71.36,399.34 71.93,400.78 72.49,402.27 73.06,403.81 73.63,405.41 74.2,407.06 74.76,408.76 75.33,410.52 75.9,412.32 76.47,414.19 77.03,416.1" fill="none" stroke="#afcafc" stroke-width="1.4" stroke-linejoin="round" stroke-linecap="round"/>
<polyline points="32.2,416.1 32.78,414.37 33.37,412.67 33.95,411.02 34.53,409.41 35.12,407.84 35.7,406.31 36.28,404.82 36.86,403.38 37.45,401.97 38.03,400.6 38.61,399.28 39.2,398 39.78,396.75 40.36,395.55 40.95,394.39 41.53,393.27 42.11,392.19 42.69,391.16 43.28,390.16 43.86,389.2 44.44,388.29 45.03,387.41 45.61,386.58 46.19,385.79 46.78,385.04 47.36,384.33 47.94,383.66 48.53,383.03 49.11,382.44 49.69,381.89 50.27,381.39 50.86,380.92 51.44,380.5 52.02,380.11 52.61,379.77 53.19,379.47 53.77,379.21 54.36,378.99 54.94,378.81 55.52,378.67 56.1,378.58 56.69,378.52 57.27,378.51 57.85,378.54 58.44,378.64 59.02,378.79 59.6,379 60.19,379.27 60.77,379.59 61.35,379.97 61.93,380.41 62.52,380.91 63.1,381.47 63.68,382.08 64.27,382.75 64.85,383.48 65.43,384.26 66.02,385.1 66.6,386 67.18,386.96 67.77,387.98 68.35,389.05 68.93,390.18 69.51,391.37 70.1,392.61 70.68,393.92 71.26,395.28 71.85,396.7 72.43,398.17 73.01,399.71 73.6,401.3 74.18,402.95 74.76,404.65 75.34,406.42 75.93,408.24 76.51,410.12 77.09,412.05 77.68,414.05 78.26,416.1" fill="none" stroke="#a2c1ff" stroke-width="1.4" stroke-linejoin="round" stroke-linecap="round"/>
<polyline points="32.2,416.1 32.8,414.32 33.39,412.58 33.99,410.89 34.58,409.23 35.18,407.62 35.77,406.05 36.37,404.52 36.96,403.03 37.56,401.58 38.15,400.18 38.75,398.81 39.35,397.49 39.94,396.21 40.54,394.98 41.13,393.78 41.73,392.62 42.32,391.51 42.92,390.44 43.51,389.41 44.11,388.42 44.7,387.48 45.3,386.57 45.9,385.71 46.49,384.89 47.09,384.11 47.68,383.37 48.28,382.67 48.87,382.02 49.47,381.41 50.06,380.84 50.66,380.31 51.25,379.82 51.85,379.37 52.45,378.97 53.04,378.61 53.64,378.29 54.23,378.01 54.83,377.77 55.42,377.57 56.02,377.42 56.61,377.3 57.21,377.23 57.8,377.2 58.4,377.22 58.99,377.3 59.59,377.44 60.19,377.64 60.78,377.9 61.38,378.22 61.97,378.61 62.57,379.05 63.16,379.55 63.76,380.12 64.35,380.74 64.95,381.43 65.54,382.17 66.14,382.98 66.74,383.85 67.33,384.78 67.93,385.77 68.52,386.82 69.12,387.93 69.71,389.1 70.31,390.33 70.9,391.63 71.5,392.98 72.09,394.39 72.69,395.87 73.29,397.4 73.88,399 74.48,400.66 75.07,402.38 75.67,404.15 76.26,405.99 76.86,407.89 77.45,409.85 78.05,411.88 78.64,413.96 79.24,416.1" fill="none" stroke="#94b6ff" stroke-width="1.4" stroke-linejoin="round" stroke-linecap="round"/>
<polyline points="32.2,416.1 32.8,414.28 33.41,412.51 34.01,410.78 34.62,409.09 35.22,407.44 35.83,405.83 36.43,404.27 37.04,402.74 37.64,401.26 38.25,399.82 38.85,398.43 39.46,397.07 40.06,395.76 40.67,394.49 41.27,393.26 41.88,392.08 42.48,390.93 43.09,389.83 43.69,388.77 44.29,387.75 44.9,386.77 45.5,385.84 46.11,384.94 46.71,384.09 47.32,383.29 47.92,382.52 48.53,381.79 49.13,381.11 49.74,380.47 50.34,379.87 50.95,379.32 51.55,378.8 52.16,378.33 52.76,377.9 53.37,377.51 53.97,377.16 54.58,376.86 55.18,376.6 55.79,376.37 56.39,376.2 56.99,376.06 57.6,375.96 58.2,375.91 58.81,375.9 59.41,375.95 60.02,376.06 60.62,376.24 61.23,376.48 61.83,376.79 62.44,377.16 63.04,377.6 63.65,378.1 64.25,378.67 64.86,379.3 65.46,379.99 66.07,380.75 66.67,381.58 67.28,382.47 67.88,383.42 68.48,384.44 69.09,385.53 69.69,386.67 70.3,387.89 70.9,389.16 71.51,390.51 72.11,391.91 72.72,393.39 73.32,394.92 73.93,396.53 74.53,398.19 75.14,399.92 75.74,401.72 76.35,403.58 76.95,405.5 77.56,407.49 78.16,409.55 78.77,411.67 79.37,413.85 79.97,416.1" fill="none" stroke="#82a6fb" stroke-width="1.4" stroke-linejoin="round" stroke-linecap="round"/>
<polyline points="32.2,416.1 32.82,414.22 33.43,412.39 34.05,410.6 34.67,408.85 35.29,407.14 35.9,405.48 36.52,403.86 37.14,402.28 37.75,400.75 38.37,399.26 38.99,397.81 39.61,396.4 40.22,395.04 40.84,393.71 41.46,392.44 42.07,391.2 42.69,390.01 43.31,388.86 43.93,387.75 44.54,386.68 45.16,385.66 45.78,384.68 46.39,383.74 47.01,382.85 47.63,381.99 48.25,381.19 48.86,380.42 49.48,379.69 50.1,379.01 50.71,378.37 51.33,377.78 51.95,377.23 52.57,376.71 53.18,376.25 53.8,375.82 54.42,375.44 55.03,375.1 55.65,374.8 56.27,374.55 56.89,374.34 57.5,374.17 58.12,374.04 58.74,373.96 59.35,373.92 59.97,373.92 60.59,373.99 61.21,374.14 61.82,374.35 62.44,374.64 63.06,375 63.67,375.42 64.29,375.92 64.91,376.49 65.53,377.13 66.14,377.84 66.76,378.62 67.38,379.47 67.99,380.39 68.61,381.39 69.23,382.45 69.85,383.58 70.46,384.79 71.08,386.07 71.7,387.41 72.31,388.83 72.93,390.32 73.55,391.88 74.17,393.51 74.78,395.21 75.4,396.98 76.02,398.82 76.63,400.73 77.25,402.71 77.87,404.77 78.49,406.89 79.1,409.09 79.72,411.36 80.34,413.69 80.96,416.1" fill="none" stroke="#7093f3" stroke-width="1.4" stroke-linejoin="round" stroke-linecap="round"/>
<polyline points="32.2,416.1 32.83,414.17 33.46,412.29 34.09,410.45 34.72,408.65 35.35,406.9 35.98,405.19 36.61,403.52 37.24,401.9 37.87,400.32 38.5,398.78 39.13,397.29 39.75,395.84 40.38,394.43 41.01,393.07 41.64,391.75 42.27,390.48 42.9,389.25 43.53,388.06 44.16,386.92 44.79,385.82 45.42,384.76 46.05,383.75 46.68,382.78 47.31,381.85 47.94,380.97 48.57,380.13 49.2,379.34 49.83,378.58 50.46,377.88 51.09,377.21 51.72,376.59 52.35,376.01 52.98,375.48 53.6,374.99 54.23,374.54 54.86,374.14 55.49,373.78 56.12,373.46 56.75,373.19 57.38,372.96 58.01,372.78 58.64,372.64 59.27,372.54 59.9,372.48 60.53,372.47 61.16,372.53 61.79,372.66 62.42,372.86 63.05,373.14 63.68,373.49 64.31,373.92 64.94,374.42 65.57,375 66.2,375.65 66.83,376.38 67.46,377.18 68.08,378.05 68.71,379 69.34,380.02 69.97,381.12 70.6,382.29 71.23,383.54 71.86,384.86 72.49,386.25 73.12,387.72 73.75,389.26 74.38,390.88 75.01,392.57 75.64,394.34 76.27,396.18 76.9,398.1 77.53,400.09 78.16,402.15 78.79,404.29 79.42,406.5 80.05,408.79 80.68,411.15 81.31,413.59 81.94,416.1" fill="none" stroke="#5f7fe8" stroke-width="1.4" stroke-linejoin="round" stroke-linecap="round"/>
<polyline points="32.2,416.1 32.87,414.06 33.53,412.07 34.2,410.13 34.87,408.23 35.53,406.38 36.2,404.57 36.87,402.81 37.53,401.09 38.2,399.42 38.87,397.8 39.53,396.22 40.2,394.69 40.87,393.21 41.53,391.77 42.2,390.37 42.87,389.02 43.54,387.72 44.2,386.47 44.87,385.26 45.54,384.09 46.2,382.98 46.87,381.9 47.54,380.88 48.2,379.9 48.87,378.96 49.54,378.08 50.2,377.23 50.87,376.44 51.54,375.69 52.2,374.98 52.87,374.33 53.54,373.71 54.2,373.15 54.87,372.63 55.54,372.15 56.2,371.72 56.87,371.34 57.54,371 58.2,370.71 58.87,370.47 59.54,370.27 60.2,370.12 60.87,370.01 61.54,369.95 62.2,369.93 62.87,369.99 63.54,370.12 64.21,370.33 64.87,370.62 65.54,370.99 66.21,371.44 66.87,371.97 67.54,372.57 68.21,373.26 68.87,374.02 69.54,374.87 70.21,375.79 70.87,376.79 71.54,377.87 72.21,379.03 72.87,380.27 73.54,381.59 74.21,382.99 74.87,384.46 75.54,386.02 76.21,387.65 76.87,389.37 77.54,391.16 78.21,393.03 78.87,394.98 79.54,397.01 80.21,399.12 80.87,401.31 81.54,403.58 82.21,405.92 82.87,408.35 83.54,410.85 84.21,413.44 84.88,416.1" fill="none" stroke="#3b4cc0" stroke-width="1.9" stroke-linejoin="round" stroke-linecap="round"/>
<polyline points="32.2,416.1 33.16,413.47 34.13,410.92 35.09,408.44 36.06,406.04 37.02,403.71 37.99,401.45 38.95,399.27 39.92,397.16 40.88,395.13 41.84,393.17 42.81,391.28 43.77,389.46 44.74,387.72 45.7,386.06 46.67,384.47 47.63,382.95 48.6,381.5 49.56,380.13 50.53,378.84 51.49,377.61 52.45,376.46 53.42,375.39 54.38,374.39 55.35,373.46 56.31,372.6 57.28,371.82 58.24,371.12 59.21,370.48 60.17,369.93 61.13,369.44 62.1,369.03 63.06,368.69 64.03,368.43 64.99,368.24 65.96,368.12 66.92,368.08 67.89,368.1 68.85,368.18 69.82,368.3 70.78,368.48 71.74,368.71 72.71,369 73.67,369.33 74.64,369.72 75.6,370.16 76.57,370.65 77.53,371.19 78.5,371.79 79.46,372.44 80.42,373.14 81.39,373.89 82.35,374.69 83.32,375.55 84.28,376.46 85.25,377.42 86.21,378.43 87.18,379.49 88.14,380.61 89.11,381.78 90.07,383 91.03,384.27 92,385.6 92.96,386.98 93.93,388.41 94.89,389.89 95.86,391.42 96.82,393.01 97.79,394.64 98.75,396.33 99.71,398.08 100.68,399.87 101.64,401.72 102.61,403.62 103.57,405.57 104.54,407.57 105.5,409.62 106.47,411.73 107.43,413.89 108.39,416.1" fill="none" stroke="#e9d5cb" stroke-width="1.7" stroke-linejoin="round" stroke-linecap="round"/>
<polyline points="32.2,416.1 33.36,412.67 34.53,409.35 35.69,406.12 36.85,402.99 38.01,399.96 39.18,397.03 40.34,394.2 41.5,391.47 42.67,388.84 43.83,386.31 44.99,383.88 46.16,381.54 47.32,379.31 48.48,377.18 49.64,375.14 50.81,373.21 51.97,371.37 53.13,369.63 54.3,368 55.46,366.46 56.62,365.02 57.79,363.68 58.95,362.44 60.11,361.3 61.27,360.26 62.44,359.32 63.6,358.48 64.76,357.74 65.93,357.09 67.09,356.55 68.25,356.1 69.42,355.76 70.58,355.51 71.74,355.37 72.9,355.32 74.07,355.35 75.23,355.45 76.39,355.61 77.56,355.83 78.72,356.11 79.88,356.46 81.04,356.87 82.21,357.34 83.37,357.88 84.53,358.47 85.7,359.13 86.86,359.86 88.02,360.64 89.19,361.49 90.35,362.4 91.51,363.38 92.67,364.41 93.84,365.51 95,366.67 96.16,367.9 97.33,369.19 98.49,370.54 99.65,371.95 100.82,373.42 101.98,374.96 103.14,376.56 104.3,378.23 105.47,379.95 106.63,381.74 107.79,383.59 108.96,385.51 110.12,387.48 111.28,389.52 112.45,391.63 113.61,393.79 114.77,396.02 115.93,398.31 117.1,400.66 118.26,403.08 119.42,405.56 120.59,408.1 121.75,410.7 122.91,413.37 124.08,416.1" fill="none" stroke="#f2cbb7" stroke-width="1.7" stroke-linejoin="round" stroke-linecap="round"/>
<polyline points="32.2,416.1 33.43,412.54 34.67,409.06 35.9,405.67 37.14,402.36 38.37,399.14 39.61,396.01 40.84,392.96 42.07,389.99 43.31,387.12 44.54,384.32 45.78,381.62 47.01,379 48.25,376.46 49.48,374.01 50.71,371.65 51.95,369.37 53.18,367.18 54.42,365.07 55.65,363.05 56.89,361.12 58.12,359.27 59.35,357.51 60.59,355.83 61.82,354.24 63.06,352.73 64.29,351.31 65.53,349.97 66.76,348.72 67.99,347.56 69.23,346.48 70.46,345.49 71.7,344.58 72.93,343.76 74.17,343.03 75.4,342.38 76.63,341.81 77.87,341.33 79.1,340.94 80.34,340.63 81.57,340.41 82.81,340.28 84.04,340.23 85.28,340.28 86.51,340.43 87.74,340.7 88.98,341.08 90.21,341.58 91.45,342.18 92.68,342.89 93.92,343.72 95.15,344.66 96.38,345.71 97.62,346.87 98.85,348.14 100.09,349.52 101.32,351.01 102.56,352.62 103.79,354.34 105.02,356.16 106.26,358.1 107.49,360.15 108.73,362.31 109.96,364.59 111.2,366.97 112.43,369.47 113.66,372.08 114.9,374.79 116.13,377.62 117.37,380.57 118.6,383.62 119.84,386.78 121.07,390.06 122.3,393.44 123.54,396.94 124.77,400.55 126.01,404.27 127.24,408.1 128.48,412.05 129.71,416.1" fill="none" stroke="#f7b396" stroke-width="1.7" stroke-linejoin="round" stroke-linecap="round"/>
<polyline points="32.2,416.1 33.69,411.95 35.18,407.91 36.67,403.98 38.15,400.15 39.64,396.44 41.13,392.83 42.62,389.33 44.11,385.94 45.6,382.65 47.09,379.48 48.57,376.41 50.06,373.45 51.55,370.6 53.04,367.86 54.53,365.22 56.02,362.7 57.51,360.28 58.99,357.97 60.48,355.77 61.97,353.68 63.46,351.69 64.95,349.81 66.44,348.05 67.93,346.39 69.42,344.83 70.9,343.39 72.39,342.05 73.88,340.83 75.37,339.71 76.86,338.7 78.35,337.79 79.84,337 81.32,336.31 82.81,335.73 84.3,335.26 85.79,334.9 87.28,334.65 88.77,334.5 90.26,334.47 91.74,334.53 93.23,334.7 94.72,334.97 96.21,335.34 97.7,335.81 99.19,336.39 100.68,337.06 102.16,337.84 103.65,338.71 105.14,339.69 106.63,340.77 108.12,341.95 109.61,343.23 111.1,344.61 112.58,346.1 114.07,347.68 115.56,349.37 117.05,351.16 118.54,353.05 120.03,355.04 121.52,357.13 123.01,359.32 124.49,361.61 125.98,364.01 127.47,366.51 128.96,369.1 130.45,371.8 131.94,374.6 133.43,377.5 134.91,380.51 136.4,383.61 137.89,386.81 139.38,390.12 140.87,393.53 142.36,397.04 143.85,400.65 145.33,404.36 146.82,408.17 148.31,412.09 149.8,416.1" fill="none" stroke="#f6a283" stroke-width="1.7" stroke-linejoin="round" stroke-linecap="round"/>
<polyline points="32.2,416.1 33.99,411.09 35.79,406.22 37.58,401.47 39.37,396.85 41.16,392.37 42.96,388.01 44.75,383.79 46.54,379.69 48.33,375.73 50.13,371.89 51.92,368.19 53.71,364.61 55.5,361.17 57.3,357.85 59.09,354.67 60.88,351.62 62.67,348.69 64.47,345.9 66.26,343.24 68.05,340.7 69.84,338.3 71.64,336.03 73.43,333.89 75.22,331.87 77.01,329.99 78.81,328.24 80.6,326.62 82.39,325.13 84.18,323.77 85.98,322.53 87.77,321.43 89.56,320.46 91.35,319.62 93.15,318.91 94.94,318.33 96.73,317.88 98.52,317.56 100.32,317.38 102.11,317.32 103.9,317.38 105.69,317.57 107.49,317.89 109.28,318.32 111.07,318.88 112.86,319.57 114.66,320.37 116.45,321.3 118.24,322.36 120.03,323.53 121.83,324.83 123.62,326.26 125.41,327.8 127.2,329.47 129,331.26 130.79,333.18 132.58,335.22 134.37,337.38 136.17,339.66 137.96,342.07 139.75,344.6 141.54,347.26 143.34,350.03 145.13,352.93 146.92,355.96 148.71,359.1 150.51,362.38 152.3,365.77 154.09,369.29 155.88,372.93 157.68,376.69 159.47,380.57 161.26,384.58 163.05,388.72 164.85,392.97 166.64,397.35 168.43,401.85 170.22,406.48 172.02,411.23 173.81,416.1" fill="none" stroke="#e16751" stroke-width="1.7" stroke-linejoin="round" stroke-linecap="round"/>
<polyline points="32.2,416.1 34.11,410.69 36.01,405.43 37.92,400.3 39.83,395.31 41.74,390.46 43.64,385.75 45.55,381.19 47.46,376.76 49.37,372.47 51.27,368.32 53.18,364.31 55.09,360.44 56.99,356.71 58.9,353.12 60.81,349.67 62.72,346.36 64.62,343.19 66.53,340.16 68.44,337.27 70.35,334.52 72.25,331.91 74.16,329.44 76.07,327.11 77.97,324.91 79.88,322.86 81.79,320.95 83.7,319.18 85.6,317.54 87.51,316.05 89.42,314.7 91.33,313.49 93.23,312.41 95.14,311.48 97.05,310.68 98.95,310.03 100.86,309.52 102.77,309.14 104.68,308.91 106.58,308.81 108.49,308.86 110.4,309.03 112.31,309.35 114.21,309.8 116.12,310.38 118.03,311.1 119.93,311.96 121.84,312.95 123.75,314.07 125.66,315.34 127.56,316.73 129.47,318.26 131.38,319.93 133.29,321.73 135.19,323.67 137.1,325.75 139.01,327.95 140.91,330.3 142.82,332.78 144.73,335.39 146.64,338.14 148.54,341.03 150.45,344.05 152.36,347.2 154.27,350.49 156.17,353.92 158.08,357.48 159.99,361.18 161.89,365.01 163.8,368.98 165.71,373.08 167.62,377.32 169.52,381.7 171.43,386.2 173.34,390.85 175.25,395.63 177.15,400.54 179.06,405.59 180.97,410.78 182.88,416.1" fill="none" stroke="#c53334" stroke-width="1.7" stroke-linejoin="round" stroke-linecap="round"/>
</g></svg>
<rect x="32.2" y="299.5" width="152.4" height="116.6" fill="none" stroke="#808080" stroke-width="0.9"/>
<line x1="29.6" y1="416.1" x2="32.2" y2="416.1" stroke="#555" stroke-width="0.8"/>
<text x="29.3" y="420.1" font-size="10" text-anchor="end" fill="#1a1a1a" stroke="#1a1a1a" textLength="14.63" lengthAdjust="spacingAndGlyphs">0.0</text>
<line x1="29.6" y1="380.2" x2="32.2" y2="380.2" stroke="#555" stroke-width="0.8"/>
<text x="29.3" y="384.2" font-size="10" text-anchor="end" fill="#1a1a1a" stroke="#1a1a1a" textLength="14.63" lengthAdjust="spacingAndGlyphs">0.4</text>
<line x1="29.6" y1="344.3" x2="32.2" y2="344.3" stroke="#555" stroke-width="0.8"/>
<text x="29.3" y="348.3" font-size="10" text-anchor="end" fill="#1a1a1a" stroke="#1a1a1a" textLength="14.63" lengthAdjust="spacingAndGlyphs">0.8</text>
<line x1="29.6" y1="308.4" x2="32.2" y2="308.4" stroke="#555" stroke-width="0.8"/>
<text x="29.3" y="312.4" font-size="10" text-anchor="end" fill="#1a1a1a" stroke="#1a1a1a" textLength="14.63" lengthAdjust="spacingAndGlyphs">1.2</text>
<line x1="184.6" y1="416.1" x2="187.2" y2="416.1" stroke="#555" stroke-width="0.8"/>
<text x="187.5" y="420.1" font-size="10" text-anchor="start" fill="#1a1a1a" stroke="#1a1a1a" textLength="14.63" lengthAdjust="spacingAndGlyphs">0.0</text>
<line x1="184.6" y1="381.8" x2="187.2" y2="381.8" stroke="#555" stroke-width="0.8"/>
<text x="187.5" y="385.8" font-size="10" text-anchor="start" fill="#1a1a1a" stroke="#1a1a1a" textLength="14.63" lengthAdjust="spacingAndGlyphs">0.5</text>
<line x1="184.6" y1="347.5" x2="187.2" y2="347.5" stroke="#555" stroke-width="0.8"/>
<text x="187.5" y="351.5" font-size="10" text-anchor="start" fill="#1a1a1a" stroke="#1a1a1a" textLength="14.63" lengthAdjust="spacingAndGlyphs">1.0</text>
<line x1="184.6" y1="313.2" x2="187.2" y2="313.2" stroke="#555" stroke-width="0.8"/>
<text x="187.5" y="317.2" font-size="10" text-anchor="start" fill="#1a1a1a" stroke="#1a1a1a" textLength="14.63" lengthAdjust="spacingAndGlyphs">1.5</text>
<line x1="32.2" y1="416.1" x2="32.2" y2="418.7" stroke="#555" stroke-width="0.8"/>
<text x="32.2" y="425.9" font-size="10" text-anchor="middle" fill="#1a1a1a" stroke="#1a1a1a" textLength="5.85" lengthAdjust="spacingAndGlyphs">0</text>
<line x1="81.2" y1="416.1" x2="81.2" y2="418.7" stroke="#555" stroke-width="0.8"/>
<text x="81.2" y="425.9" font-size="10" text-anchor="middle" fill="#1a1a1a" stroke="#1a1a1a" textLength="5.85" lengthAdjust="spacingAndGlyphs">2</text>
<line x1="130.2" y1="416.1" x2="130.2" y2="418.7" stroke="#555" stroke-width="0.8"/>
<text x="130.2" y="425.9" font-size="10" text-anchor="middle" fill="#1a1a1a" stroke="#1a1a1a" textLength="5.85" lengthAdjust="spacingAndGlyphs">4</text>
<line x1="179.2" y1="416.1" x2="179.2" y2="418.7" stroke="#555" stroke-width="0.8"/>
<text x="179.2" y="425.9" font-size="10" text-anchor="middle" fill="#1a1a1a" stroke="#1a1a1a" textLength="5.85" lengthAdjust="spacingAndGlyphs">6</text>
<g transform="translate(69.8 435.5)" fill="#1a1a1a">
<text x="0" y="0" font-size="10" stroke="#1a1a1a" textLength="61.5" lengthAdjust="spacingAndGlyphs">Current (A cm</text>
<rect x="63.4" y="-5.55" width="4.5" height="0.8"/>
<text x="69.7" y="-3.2" font-size="6.4" stroke="#1a1a1a">2</text>
<text x="74.1" y="0" font-size="10" stroke="#1a1a1a">)</text>
</g>
<text transform="translate(12.9 357.8) rotate(-90)" font-size="10" fill="#1a1a1a" stroke="#1a1a1a" text-anchor="middle" textLength="50.91" lengthAdjust="spacingAndGlyphs">Voltage (V)</text>
<g transform="translate(210.1 411) rotate(-90)" fill="#1a1a1a">
<text x="0" y="0" font-size="10" stroke="#1a1a1a" textLength="90.5" lengthAdjust="spacingAndGlyphs">Power density (W cm</text>
<rect x="92.4" y="-5.55" width="4.5" height="0.8"/>
<text x="98.7" y="-3.2" font-size="6.4" stroke="#1a1a1a">2</text>
<text x="103.1" y="0" font-size="10" stroke="#1a1a1a">)</text>
</g>
<polyline points="280.2,407.34 330.18,400.61 371.83,392.38 386.58,386.89 417.65,381.12 432.4,374.53" fill="none" stroke="#111" stroke-width="1.1" stroke-linejoin="round" stroke-linecap="round"/>
<polyline points="280.2,367.53 330.18,345.85 371.83,316.89 386.58,303.3 417.65,269.54 432.4,253.89" fill="none" stroke="#111" stroke-width="1.1" stroke-linejoin="round" stroke-linecap="round"/>
<circle cx="280.2" cy="407.34" r="2.3" fill="#4a6ee0" stroke="#2a2a2a" stroke-width="0.5"/>
<circle cx="330.18" cy="400.61" r="2.3" fill="#4a6ee0" stroke="#2a2a2a" stroke-width="0.5"/>
<circle cx="371.83" cy="392.38" r="2.3" fill="#4a6ee0" stroke="#2a2a2a" stroke-width="0.5"/>
<circle cx="386.58" cy="386.89" r="2.3" fill="#4a6ee0" stroke="#2a2a2a" stroke-width="0.5"/>
<circle cx="417.65" cy="381.12" r="2.3" fill="#4a6ee0" stroke="#2a2a2a" stroke-width="0.5"/>
<circle cx="432.4" cy="374.53" r="2.3" fill="#4a6ee0" stroke="#2a2a2a" stroke-width="0.5"/>
<circle cx="280.2" cy="367.53" r="2.3" fill="#d9473b" stroke="#2a2a2a" stroke-width="0.5"/>
<circle cx="330.18" cy="345.85" r="2.3" fill="#d9473b" stroke="#2a2a2a" stroke-width="0.5"/>
<circle cx="371.83" cy="316.89" r="2.3" fill="#d9473b" stroke="#2a2a2a" stroke-width="0.5"/>
<circle cx="386.58" cy="303.3" r="2.3" fill="#d9473b" stroke="#2a2a2a" stroke-width="0.5"/>
<circle cx="417.65" cy="269.54" r="2.3" fill="#d9473b" stroke="#2a2a2a" stroke-width="0.5"/>
<circle cx="432.4" cy="253.89" r="2.3" fill="#d9473b" stroke="#2a2a2a" stroke-width="0.5"/>
<line x1="280.8" y1="258.7" x2="301" y2="258.7" stroke="#444" stroke-width="1.1"/>
<circle cx="291.1" cy="258.7" r="2.3" fill="#4a6ee0" stroke="#2a2a2a" stroke-width="0.5"/>
<line x1="280.8" y1="272.8" x2="301" y2="272.8" stroke="#444" stroke-width="1.1"/>
<circle cx="291.1" cy="272.8" r="2.3" fill="#d9473b" stroke="#2a2a2a" stroke-width="0.5"/>
<text x="308.6" y="262" font-size="10" text-anchor="start" fill="#1a1a1a" stroke="#1a1a1a" textLength="22.68" lengthAdjust="spacingAndGlyphs">LSCF</text>
<text x="308.6" y="276.1" font-size="10" fill="#1a1a1a" stroke="#1a1a1a"><tspan textLength="46.8" lengthAdjust="spacingAndGlyphs">LSCF+PrO</tspan><tspan dy="1.8" font-size="6.8" font-style="italic">x</tspan></text>
<text x="280.1" y="291.3" font-size="10" fill="#1a1a1a" stroke="#1a1a1a"><tspan textLength="41.35" lengthAdjust="spacingAndGlyphs">700°C, H</tspan><tspan dy="1.9" font-size="7.2">2</tspan><tspan dy="-1.9" textLength="33.56" lengthAdjust="spacingAndGlyphs"> as fuel</tspan></text>
<rect x="272.9" y="246.5" width="167.6" height="168.9" fill="none" stroke="#8c8c8c" stroke-width="0.9"/>
<line x1="271.3" y1="413.1" x2="272.9" y2="413.1" stroke="#555" stroke-width="0.8"/>
<text x="269.5" y="417.1" font-size="10" text-anchor="end" fill="#1a1a1a" stroke="#1a1a1a" textLength="14.63" lengthAdjust="spacingAndGlyphs">0.4</text>
<line x1="271.3" y1="385.65" x2="272.9" y2="385.65" stroke="#555" stroke-width="0.8"/>
<text x="269.5" y="389.65" font-size="10" text-anchor="end" fill="#1a1a1a" stroke="#1a1a1a" textLength="14.63" lengthAdjust="spacingAndGlyphs">0.6</text>
<line x1="271.3" y1="358.2" x2="272.9" y2="358.2" stroke="#555" stroke-width="0.8"/>
<text x="269.5" y="362.2" font-size="10" text-anchor="end" fill="#1a1a1a" stroke="#1a1a1a" textLength="14.63" lengthAdjust="spacingAndGlyphs">0.8</text>
<line x1="271.3" y1="330.75" x2="272.9" y2="330.75" stroke="#555" stroke-width="0.8"/>
<text x="269.5" y="334.75" font-size="10" text-anchor="end" fill="#1a1a1a" stroke="#1a1a1a" textLength="14.63" lengthAdjust="spacingAndGlyphs">1.0</text>
<line x1="271.3" y1="303.3" x2="272.9" y2="303.3" stroke="#555" stroke-width="0.8"/>
<text x="269.5" y="307.3" font-size="10" text-anchor="end" fill="#1a1a1a" stroke="#1a1a1a" textLength="14.63" lengthAdjust="spacingAndGlyphs">1.2</text>
<line x1="271.3" y1="275.85" x2="272.9" y2="275.85" stroke="#555" stroke-width="0.8"/>
<text x="269.5" y="279.85" font-size="10" text-anchor="end" fill="#1a1a1a" stroke="#1a1a1a" textLength="14.63" lengthAdjust="spacingAndGlyphs">1.4</text>
<line x1="271.3" y1="248.4" x2="272.9" y2="248.4" stroke="#555" stroke-width="0.8"/>
<text x="269.5" y="252.4" font-size="10" text-anchor="end" fill="#1a1a1a" stroke="#1a1a1a" textLength="14.63" lengthAdjust="spacingAndGlyphs">1.6</text>
<line x1="280.2" y1="415.4" x2="280.2" y2="417.2" stroke="#555" stroke-width="0.8"/>
<text x="272.6" y="424.5" font-size="10" text-anchor="start" fill="#1a1a1a" stroke="#1a1a1a" textLength="11.45" lengthAdjust="spacingAndGlyphs">10</text>
<text x="284.2" y="421.3" font-size="6.6" text-anchor="start" fill="#1a1a1a" stroke="#1a1a1a" textLength="3.6" lengthAdjust="spacingAndGlyphs">2</text>
<line x1="432.4" y1="415.4" x2="432.4" y2="417.2" stroke="#555" stroke-width="0.8"/>
<text x="424.8" y="424.5" font-size="10" text-anchor="start" fill="#1a1a1a" stroke="#1a1a1a" textLength="11.45" lengthAdjust="spacingAndGlyphs">10</text>
<text x="436.4" y="421.3" font-size="6.6" text-anchor="start" fill="#1a1a1a" stroke="#1a1a1a" textLength="3.6" lengthAdjust="spacingAndGlyphs">3</text>
<line x1="326.02" y1="415.4" x2="326.02" y2="416.4" stroke="#555" stroke-width="0.6"/>
<line x1="352.82" y1="415.4" x2="352.82" y2="416.4" stroke="#555" stroke-width="0.6"/>
<line x1="371.83" y1="415.4" x2="371.83" y2="416.4" stroke="#555" stroke-width="0.6"/>
<line x1="386.58" y1="415.4" x2="386.58" y2="416.4" stroke="#555" stroke-width="0.6"/>
<line x1="398.63" y1="415.4" x2="398.63" y2="416.4" stroke="#555" stroke-width="0.6"/>
<line x1="408.82" y1="415.4" x2="408.82" y2="416.4" stroke="#555" stroke-width="0.6"/>
<line x1="417.65" y1="415.4" x2="417.65" y2="416.4" stroke="#555" stroke-width="0.6"/>
<line x1="425.44" y1="415.4" x2="425.44" y2="416.4" stroke="#555" stroke-width="0.6"/>
<text x="356.5" y="435.5" font-size="10" text-anchor="middle" fill="#1a1a1a" stroke="#1a1a1a" textLength="116" lengthAdjust="spacingAndGlyphs">Oxygen pressure (mbar)</text>
<text transform="translate(241.2 331.9) rotate(-90)" font-size="10" fill="#1a1a1a" stroke="#1a1a1a" text-anchor="middle" textLength="104.6" lengthAdjust="spacingAndGlyphs">Power density maxima</text>
<g transform="translate(251 353.6) rotate(-90)" fill="#1a1a1a">
<text x="0" y="0" font-size="10" stroke="#1a1a1a" textLength="31.2" lengthAdjust="spacingAndGlyphs">(W cm</text>
<rect x="33.1" y="-5.55" width="4.5" height="0.8"/>
<text x="39.4" y="-3.2" font-size="6.4" stroke="#1a1a1a">2</text>
<text x="43.8" y="0" font-size="10" stroke="#1a1a1a">)</text>
</g>
<polyline points="580.6,254.9 580.69,255.04 580.88,255.31 581.16,255.72 581.54,256.26 582.01,256.94 582.57,257.75 583.23,258.71 583.98,259.79 584.79,261.04 585.68,262.43 586.64,263.98 587.66,265.69 588.76,267.55 589.92,269.57 591.15,271.74 592.45,274.06 593.89,276.61 595.47,279.37 597.19,282.35 599.06,285.55 601.06,288.97 603.2,292.61 605.49,296.46 607.91,300.54 610.34,304.62 612.76,308.7 615.19,312.78 617.61,316.87 620.04,320.96 622.46,325.05 624.89,329.15 627.31,333.25 629.74,337.34 632.16,341.41 634.59,345.47 637.01,349.51 639.44,353.54 641.86,357.55 644.29,361.56 646.71,365.54 648.93,369.24 650.94,372.63 652.74,375.73 654.33,378.54 655.72,381.05 656.9,383.27 657.87,385.19 658.63,386.81 659.35,388.4 660.02,389.96 660.66,391.49 661.24,392.98 661.79,394.45 662.29,395.87 662.74,397.27 663.16,398.63 663.52,399.82 663.83,400.85 664.08,401.7 664.29,402.38 664.45,402.89 664.55,403.23 664.6,403.4" fill="none" stroke="#222a5c" stroke-width="4.6" stroke-linejoin="round" stroke-linecap="round"/>
<g>
<circle cx="580.6" cy="254.9" r="1.85" fill="#4566d6" stroke="#26307a" stroke-width="0.45"/>
<circle cx="581.74" cy="256.56" r="1.85" fill="#4566d6" stroke="#26307a" stroke-width="0.45"/>
<circle cx="582.88" cy="258.21" r="1.85" fill="#4566d6" stroke="#26307a" stroke-width="0.45"/>
<circle cx="584.02" cy="259.87" r="1.85" fill="#4566d6" stroke="#26307a" stroke-width="0.45"/>
<circle cx="585.12" cy="261.55" r="1.85" fill="#4566d6" stroke="#26307a" stroke-width="0.45"/>
<circle cx="586.19" cy="263.26" r="1.85" fill="#4566d6" stroke="#26307a" stroke-width="0.45"/>
<circle cx="587.23" cy="264.98" r="1.85" fill="#4566d6" stroke="#26307a" stroke-width="0.45"/>
<circle cx="588.26" cy="266.71" r="1.85" fill="#4566d6" stroke="#26307a" stroke-width="0.45"/>
<circle cx="589.27" cy="268.44" r="1.85" fill="#4566d6" stroke="#26307a" stroke-width="0.45"/>
<circle cx="590.27" cy="270.19" r="1.85" fill="#4566d6" stroke="#26307a" stroke-width="0.45"/>
<circle cx="591.26" cy="271.94" r="1.85" fill="#4566d6" stroke="#26307a" stroke-width="0.45"/>
<circle cx="592.24" cy="273.69" r="1.85" fill="#4566d6" stroke="#26307a" stroke-width="0.45"/>
<circle cx="593.23" cy="275.45" r="1.85" fill="#4566d6" stroke="#26307a" stroke-width="0.45"/>
<circle cx="594.23" cy="277.19" r="1.85" fill="#4566d6" stroke="#26307a" stroke-width="0.45"/>
<circle cx="595.23" cy="278.94" r="1.85" fill="#4566d6" stroke="#26307a" stroke-width="0.45"/>
<circle cx="596.23" cy="280.68" r="1.85" fill="#4566d6" stroke="#26307a" stroke-width="0.45"/>
<circle cx="597.24" cy="282.42" r="1.85" fill="#4566d6" stroke="#26307a" stroke-width="0.45"/>
<circle cx="598.25" cy="284.16" r="1.85" fill="#4566d6" stroke="#26307a" stroke-width="0.45"/>
<circle cx="599.26" cy="285.9" r="1.85" fill="#4566d6" stroke="#26307a" stroke-width="0.45"/>
<circle cx="600.28" cy="287.63" r="1.85" fill="#4566d6" stroke="#26307a" stroke-width="0.45"/>
<circle cx="601.3" cy="289.37" r="1.85" fill="#4566d6" stroke="#26307a" stroke-width="0.45"/>
<circle cx="602.32" cy="291.1" r="1.85" fill="#4566d6" stroke="#26307a" stroke-width="0.45"/>
<circle cx="603.34" cy="292.83" r="1.85" fill="#4566d6" stroke="#26307a" stroke-width="0.45"/>
<circle cx="604.36" cy="294.56" r="1.85" fill="#4566d6" stroke="#26307a" stroke-width="0.45"/>
<circle cx="605.39" cy="296.3" r="1.85" fill="#4566d6" stroke="#26307a" stroke-width="0.45"/>
<circle cx="606.42" cy="298.02" r="1.85" fill="#4566d6" stroke="#26307a" stroke-width="0.45"/>
<circle cx="607.45" cy="299.75" r="1.85" fill="#4566d6" stroke="#26307a" stroke-width="0.45"/>
<circle cx="608.47" cy="301.48" r="1.85" fill="#4566d6" stroke="#26307a" stroke-width="0.45"/>
<circle cx="609.5" cy="303.21" r="1.85" fill="#4566d6" stroke="#26307a" stroke-width="0.45"/>
<circle cx="610.53" cy="304.94" r="1.85" fill="#4566d6" stroke="#26307a" stroke-width="0.45"/>
<circle cx="611.56" cy="306.67" r="1.85" fill="#4566d6" stroke="#26307a" stroke-width="0.45"/>
<circle cx="612.58" cy="308.4" r="1.85" fill="#4566d6" stroke="#26307a" stroke-width="0.45"/>
<circle cx="613.61" cy="310.13" r="1.85" fill="#4566d6" stroke="#26307a" stroke-width="0.45"/>
<circle cx="614.64" cy="311.85" r="1.85" fill="#4566d6" stroke="#26307a" stroke-width="0.45"/>
<circle cx="615.66" cy="313.58" r="1.85" fill="#4566d6" stroke="#26307a" stroke-width="0.45"/>
<circle cx="616.69" cy="315.31" r="1.85" fill="#4566d6" stroke="#26307a" stroke-width="0.45"/>
<circle cx="617.72" cy="317.04" r="1.85" fill="#4566d6" stroke="#26307a" stroke-width="0.45"/>
<circle cx="618.74" cy="318.77" r="1.85" fill="#4566d6" stroke="#26307a" stroke-width="0.45"/>
<circle cx="619.77" cy="320.5" r="1.85" fill="#4566d6" stroke="#26307a" stroke-width="0.45"/>
<circle cx="620.79" cy="322.23" r="1.85" fill="#4566d6" stroke="#26307a" stroke-width="0.45"/>
<circle cx="621.82" cy="323.96" r="1.85" fill="#4566d6" stroke="#26307a" stroke-width="0.45"/>
<circle cx="622.84" cy="325.69" r="1.85" fill="#4566d6" stroke="#26307a" stroke-width="0.45"/>
<circle cx="623.87" cy="327.43" r="1.85" fill="#4566d6" stroke="#26307a" stroke-width="0.45"/>
<circle cx="624.89" cy="329.16" r="1.85" fill="#4566d6" stroke="#26307a" stroke-width="0.45"/>
<circle cx="625.91" cy="330.89" r="1.85" fill="#4566d6" stroke="#26307a" stroke-width="0.45"/>
<circle cx="626.94" cy="332.62" r="1.85" fill="#4566d6" stroke="#26307a" stroke-width="0.45"/>
<circle cx="627.96" cy="334.35" r="1.85" fill="#4566d6" stroke="#26307a" stroke-width="0.45"/>
<circle cx="628.99" cy="336.08" r="1.85" fill="#4566d6" stroke="#26307a" stroke-width="0.45"/>
<circle cx="630.02" cy="337.81" r="1.85" fill="#4566d6" stroke="#26307a" stroke-width="0.45"/>
<circle cx="631.05" cy="339.53" r="1.85" fill="#4566d6" stroke="#26307a" stroke-width="0.45"/>
<circle cx="632.08" cy="341.26" r="1.85" fill="#4566d6" stroke="#26307a" stroke-width="0.45"/>
<circle cx="633.11" cy="342.99" r="1.85" fill="#4566d6" stroke="#26307a" stroke-width="0.45"/>
<circle cx="634.14" cy="344.72" r="1.85" fill="#4566d6" stroke="#26307a" stroke-width="0.45"/>
<circle cx="635.17" cy="346.44" r="1.85" fill="#4566d6" stroke="#26307a" stroke-width="0.45"/>
<circle cx="636.21" cy="348.17" r="1.85" fill="#4566d6" stroke="#26307a" stroke-width="0.45"/>
<circle cx="637.24" cy="349.89" r="1.85" fill="#4566d6" stroke="#26307a" stroke-width="0.45"/>
<circle cx="638.28" cy="351.61" r="1.85" fill="#4566d6" stroke="#26307a" stroke-width="0.45"/>
<circle cx="639.32" cy="353.34" r="1.85" fill="#4566d6" stroke="#26307a" stroke-width="0.45"/>
<circle cx="640.36" cy="355.06" r="1.85" fill="#4566d6" stroke="#26307a" stroke-width="0.45"/>
<circle cx="641.4" cy="356.78" r="1.85" fill="#4566d6" stroke="#26307a" stroke-width="0.45"/>
<circle cx="642.44" cy="358.5" r="1.85" fill="#4566d6" stroke="#26307a" stroke-width="0.45"/>
<circle cx="643.48" cy="360.22" r="1.85" fill="#4566d6" stroke="#26307a" stroke-width="0.45"/>
<circle cx="644.52" cy="361.94" r="1.85" fill="#4566d6" stroke="#26307a" stroke-width="0.45"/>
<circle cx="645.57" cy="363.66" r="1.85" fill="#4566d6" stroke="#26307a" stroke-width="0.45"/>
<circle cx="646.61" cy="365.38" r="1.85" fill="#4566d6" stroke="#26307a" stroke-width="0.45"/>
<circle cx="647.65" cy="367.1" r="1.85" fill="#4566d6" stroke="#26307a" stroke-width="0.45"/>
<circle cx="648.68" cy="368.83" r="1.85" fill="#4566d6" stroke="#26307a" stroke-width="0.45"/>
<circle cx="649.71" cy="370.55" r="1.85" fill="#4566d6" stroke="#26307a" stroke-width="0.45"/>
<circle cx="650.73" cy="372.29" r="1.85" fill="#4566d6" stroke="#26307a" stroke-width="0.45"/>
<circle cx="651.75" cy="374.02" r="1.85" fill="#4566d6" stroke="#26307a" stroke-width="0.45"/>
<circle cx="652.76" cy="375.76" r="1.85" fill="#4566d6" stroke="#26307a" stroke-width="0.45"/>
<circle cx="653.75" cy="377.51" r="1.85" fill="#4566d6" stroke="#26307a" stroke-width="0.45"/>
<circle cx="654.73" cy="379.27" r="1.85" fill="#4566d6" stroke="#26307a" stroke-width="0.45"/>
<circle cx="655.71" cy="381.03" r="1.85" fill="#4566d6" stroke="#26307a" stroke-width="0.45"/>
<circle cx="656.65" cy="382.8" r="1.85" fill="#4566d6" stroke="#26307a" stroke-width="0.45"/>
<circle cx="657.57" cy="384.59" r="1.85" fill="#4566d6" stroke="#26307a" stroke-width="0.45"/>
<circle cx="658.44" cy="386.4" r="1.85" fill="#4566d6" stroke="#26307a" stroke-width="0.45"/>
<circle cx="659.27" cy="388.23" r="1.85" fill="#4566d6" stroke="#26307a" stroke-width="0.45"/>
<circle cx="660.07" cy="390.08" r="1.85" fill="#4566d6" stroke="#26307a" stroke-width="0.45"/>
<circle cx="660.83" cy="391.94" r="1.85" fill="#4566d6" stroke="#26307a" stroke-width="0.45"/>
<circle cx="661.55" cy="393.82" r="1.85" fill="#4566d6" stroke="#26307a" stroke-width="0.45"/>
<circle cx="662.23" cy="395.71" r="1.85" fill="#4566d6" stroke="#26307a" stroke-width="0.45"/>
<circle cx="662.85" cy="397.63" r="1.85" fill="#4566d6" stroke="#26307a" stroke-width="0.45"/>
<circle cx="663.43" cy="399.55" r="1.85" fill="#4566d6" stroke="#26307a" stroke-width="0.45"/>
<circle cx="664.02" cy="401.48" r="1.85" fill="#4566d6" stroke="#26307a" stroke-width="0.45"/>
<circle cx="664.6" cy="403.4" r="1.85" fill="#4566d6" stroke="#26307a" stroke-width="0.45"/>
</g>
<polyline points="508.8,254.45 509.58,255.16 510.36,255.87 511.15,256.58 511.93,257.29 512.71,258 513.49,258.71 514.28,259.43 515.06,260.14 515.84,260.85 516.62,261.56 517.41,262.28 518.19,262.99 518.97,263.71 519.75,264.42 520.54,265.14 521.32,265.85 522.1,266.57 522.88,267.28 523.67,268 524.45,268.72 525.23,269.44 526.01,270.15 526.8,270.87 527.58,271.59 528.36,272.31 529.14,273.03 529.93,273.75 530.71,274.47 531.49,275.19 532.27,275.92 533.05,276.64 533.84,277.36 534.62,278.08 535.4,278.81 536.18,279.53 536.97,280.25 537.75,280.98 538.53,281.7 539.31,282.43 540.1,283.16 540.88,283.88 541.66,284.61 542.44,285.34 543.23,286.06 544.01,286.79 544.79,287.52 545.57,288.25 546.36,288.98 547.14,289.71 547.92,290.44 548.7,291.17 549.49,291.9 550.27,292.63 551.05,293.36 551.83,294.1 552.62,294.83 553.4,295.56 554.18,296.3 554.96,297.03 555.74,297.76 556.53,298.5 557.31,299.23 558.09,299.97 558.87,300.71 559.66,301.44 560.44,302.18 561.22,302.92 562,303.65 562.79,304.39 563.57,305.13 564.35,305.87 565.13,306.61 565.92,307.35 566.7,308.09 567.48,308.83 568.26,309.57 569.05,310.31 569.83,311.06 570.61,311.8 571.39,312.54 572.18,313.29 572.96,314.03 573.74,314.77 574.52,315.52 575.31,316.26 576.09,317.01 576.87,317.76 577.65,318.5 578.43,319.25 579.22,320 580,320.74 580.78,321.49 581.56,322.24 582.35,322.99 583.13,323.74 583.91,324.49 584.69,325.24 585.48,325.99 586.26,326.74 587.04,327.49 587.82,328.24 588.61,329 589.39,329.75 590.17,330.5 590.95,331.26 591.74,332.01 592.52,332.77 593.3,333.52 594.08,334.28 594.87,335.03 595.65,335.79 596.43,336.54 597.21,337.3 597.99,338.06 598.78,338.82 599.56,339.58 600.34,340.33 601.12,341.09 601.91,341.85 602.69,342.61 603.47,343.37 604.25,344.14 605.04,344.9 605.82,345.66 606.6,346.42 607.38,347.18 608.17,347.95 608.95,348.71 609.73,349.47 610.51,350.24 611.3,351 612.08,351.77 612.86,352.53 613.64,353.3 614.43,354.07 615.21,354.83 615.99,355.6 616.77,356.37 617.56,357.14 618.34,357.91 619.12,358.68 619.9,359.44 620.68,360.21 621.47,360.99 622.25,361.76 623.03,362.53 623.81,363.3 624.6,364.07 625.38,364.84 626.16,365.62 626.94,366.39 627.73,367.16 628.51,367.94 629.29,368.71 630.07,369.49 630.86,370.26 631.64,371.04 632.42,371.82 633.2,372.59 633.99,373.37 634.77,374.15 635.55,374.93 636.33,375.7 637.12,376.48 637.9,377.26 638.68,378.04 639.46,378.82 640.25,379.6 641.03,380.38 641.81,381.17 642.59,381.95 643.37,382.73 644.16,383.51 644.94,384.3 645.72,385.08 646.5,385.86 647.29,386.65 648.07,387.43 648.85,388.22 649.63,389 650.42,389.79 651.2,390.58 651.98,391.36 652.76,392.15 653.55,392.94 654.33,393.73 655.11,394.52 655.89,395.31 656.68,396.1 657.46,396.89 658.24,397.68 659.02,398.47 659.81,399.26 660.59,400.05 661.37,400.84 662.15,401.64 662.94,402.43 663.72,403.22 664.5,404.02" fill="none" stroke="#6a261c" stroke-width="4.6" stroke-linejoin="round" stroke-linecap="round"/>
<g>
<circle cx="508.8" cy="254.45" r="1.85" fill="#d94f3e" stroke="#8a3426" stroke-width="0.45"/>
<circle cx="510.29" cy="255.81" r="1.85" fill="#d94f3e" stroke="#8a3426" stroke-width="0.45"/>
<circle cx="511.79" cy="257.16" r="1.85" fill="#d94f3e" stroke="#8a3426" stroke-width="0.45"/>
<circle cx="513.28" cy="258.52" r="1.85" fill="#d94f3e" stroke="#8a3426" stroke-width="0.45"/>
<circle cx="514.78" cy="259.88" r="1.85" fill="#d94f3e" stroke="#8a3426" stroke-width="0.45"/>
<circle cx="516.27" cy="261.24" r="1.85" fill="#d94f3e" stroke="#8a3426" stroke-width="0.45"/>
<circle cx="517.76" cy="262.6" r="1.85" fill="#d94f3e" stroke="#8a3426" stroke-width="0.45"/>
<circle cx="519.25" cy="263.96" r="1.85" fill="#d94f3e" stroke="#8a3426" stroke-width="0.45"/>
<circle cx="520.74" cy="265.32" r="1.85" fill="#d94f3e" stroke="#8a3426" stroke-width="0.45"/>
<circle cx="522.23" cy="266.68" r="1.85" fill="#d94f3e" stroke="#8a3426" stroke-width="0.45"/>
<circle cx="523.71" cy="268.05" r="1.85" fill="#d94f3e" stroke="#8a3426" stroke-width="0.45"/>
<circle cx="525.2" cy="269.41" r="1.85" fill="#d94f3e" stroke="#8a3426" stroke-width="0.45"/>
<circle cx="526.69" cy="270.78" r="1.85" fill="#d94f3e" stroke="#8a3426" stroke-width="0.45"/>
<circle cx="528.17" cy="272.14" r="1.85" fill="#d94f3e" stroke="#8a3426" stroke-width="0.45"/>
<circle cx="529.66" cy="273.51" r="1.85" fill="#d94f3e" stroke="#8a3426" stroke-width="0.45"/>
<circle cx="531.14" cy="274.87" r="1.85" fill="#d94f3e" stroke="#8a3426" stroke-width="0.45"/>
<circle cx="532.63" cy="276.24" r="1.85" fill="#d94f3e" stroke="#8a3426" stroke-width="0.45"/>
<circle cx="534.11" cy="277.61" r="1.85" fill="#d94f3e" stroke="#8a3426" stroke-width="0.45"/>
<circle cx="535.59" cy="278.98" r="1.85" fill="#d94f3e" stroke="#8a3426" stroke-width="0.45"/>
<circle cx="537.07" cy="280.35" r="1.85" fill="#d94f3e" stroke="#8a3426" stroke-width="0.45"/>
<circle cx="538.55" cy="281.72" r="1.85" fill="#d94f3e" stroke="#8a3426" stroke-width="0.45"/>
<circle cx="540.03" cy="283.1" r="1.85" fill="#d94f3e" stroke="#8a3426" stroke-width="0.45"/>
<circle cx="541.51" cy="284.47" r="1.85" fill="#d94f3e" stroke="#8a3426" stroke-width="0.45"/>
<circle cx="542.99" cy="285.84" r="1.85" fill="#d94f3e" stroke="#8a3426" stroke-width="0.45"/>
<circle cx="544.47" cy="287.22" r="1.85" fill="#d94f3e" stroke="#8a3426" stroke-width="0.45"/>
<circle cx="545.94" cy="288.59" r="1.85" fill="#d94f3e" stroke="#8a3426" stroke-width="0.45"/>
<circle cx="547.42" cy="289.97" r="1.85" fill="#d94f3e" stroke="#8a3426" stroke-width="0.45"/>
<circle cx="548.89" cy="291.35" r="1.85" fill="#d94f3e" stroke="#8a3426" stroke-width="0.45"/>
<circle cx="550.37" cy="292.72" r="1.85" fill="#d94f3e" stroke="#8a3426" stroke-width="0.45"/>
<circle cx="551.84" cy="294.1" r="1.85" fill="#d94f3e" stroke="#8a3426" stroke-width="0.45"/>
<circle cx="553.31" cy="295.48" r="1.85" fill="#d94f3e" stroke="#8a3426" stroke-width="0.45"/>
<circle cx="554.79" cy="296.86" r="1.85" fill="#d94f3e" stroke="#8a3426" stroke-width="0.45"/>
<circle cx="556.26" cy="298.25" r="1.85" fill="#d94f3e" stroke="#8a3426" stroke-width="0.45"/>
<circle cx="557.73" cy="299.63" r="1.85" fill="#d94f3e" stroke="#8a3426" stroke-width="0.45"/>
<circle cx="559.2" cy="301.01" r="1.85" fill="#d94f3e" stroke="#8a3426" stroke-width="0.45"/>
<circle cx="560.67" cy="302.39" r="1.85" fill="#d94f3e" stroke="#8a3426" stroke-width="0.45"/>
<circle cx="562.13" cy="303.78" r="1.85" fill="#d94f3e" stroke="#8a3426" stroke-width="0.45"/>
<circle cx="563.6" cy="305.16" r="1.85" fill="#d94f3e" stroke="#8a3426" stroke-width="0.45"/>
<circle cx="565.07" cy="306.55" r="1.85" fill="#d94f3e" stroke="#8a3426" stroke-width="0.45"/>
<circle cx="566.53" cy="307.94" r="1.85" fill="#d94f3e" stroke="#8a3426" stroke-width="0.45"/>
<circle cx="568" cy="309.32" r="1.85" fill="#d94f3e" stroke="#8a3426" stroke-width="0.45"/>
<circle cx="569.46" cy="310.71" r="1.85" fill="#d94f3e" stroke="#8a3426" stroke-width="0.45"/>
<circle cx="570.93" cy="312.1" r="1.85" fill="#d94f3e" stroke="#8a3426" stroke-width="0.45"/>
<circle cx="572.39" cy="313.49" r="1.85" fill="#d94f3e" stroke="#8a3426" stroke-width="0.45"/>
<circle cx="573.85" cy="314.88" r="1.85" fill="#d94f3e" stroke="#8a3426" stroke-width="0.45"/>
<circle cx="575.31" cy="316.27" r="1.85" fill="#d94f3e" stroke="#8a3426" stroke-width="0.45"/>
<circle cx="576.78" cy="317.67" r="1.85" fill="#d94f3e" stroke="#8a3426" stroke-width="0.45"/>
<circle cx="578.24" cy="319.06" r="1.85" fill="#d94f3e" stroke="#8a3426" stroke-width="0.45"/>
<circle cx="579.69" cy="320.45" r="1.85" fill="#d94f3e" stroke="#8a3426" stroke-width="0.45"/>
<circle cx="581.15" cy="321.85" r="1.85" fill="#d94f3e" stroke="#8a3426" stroke-width="0.45"/>
<circle cx="582.61" cy="323.24" r="1.85" fill="#d94f3e" stroke="#8a3426" stroke-width="0.45"/>
<circle cx="584.07" cy="324.64" r="1.85" fill="#d94f3e" stroke="#8a3426" stroke-width="0.45"/>
<circle cx="585.52" cy="326.04" r="1.85" fill="#d94f3e" stroke="#8a3426" stroke-width="0.45"/>
<circle cx="586.98" cy="327.43" r="1.85" fill="#d94f3e" stroke="#8a3426" stroke-width="0.45"/>
<circle cx="588.43" cy="328.83" r="1.85" fill="#d94f3e" stroke="#8a3426" stroke-width="0.45"/>
<circle cx="589.89" cy="330.23" r="1.85" fill="#d94f3e" stroke="#8a3426" stroke-width="0.45"/>
<circle cx="591.34" cy="331.63" r="1.85" fill="#d94f3e" stroke="#8a3426" stroke-width="0.45"/>
<circle cx="592.79" cy="333.03" r="1.85" fill="#d94f3e" stroke="#8a3426" stroke-width="0.45"/>
<circle cx="594.25" cy="334.43" r="1.85" fill="#d94f3e" stroke="#8a3426" stroke-width="0.45"/>
<circle cx="595.7" cy="335.84" r="1.85" fill="#d94f3e" stroke="#8a3426" stroke-width="0.45"/>
<circle cx="597.15" cy="337.24" r="1.85" fill="#d94f3e" stroke="#8a3426" stroke-width="0.45"/>
<circle cx="598.6" cy="338.64" r="1.85" fill="#d94f3e" stroke="#8a3426" stroke-width="0.45"/>
<circle cx="600.05" cy="340.05" r="1.85" fill="#d94f3e" stroke="#8a3426" stroke-width="0.45"/>
<circle cx="601.49" cy="341.45" r="1.85" fill="#d94f3e" stroke="#8a3426" stroke-width="0.45"/>
<circle cx="602.94" cy="342.86" r="1.85" fill="#d94f3e" stroke="#8a3426" stroke-width="0.45"/>
<circle cx="604.39" cy="344.27" r="1.85" fill="#d94f3e" stroke="#8a3426" stroke-width="0.45"/>
<circle cx="605.83" cy="345.67" r="1.85" fill="#d94f3e" stroke="#8a3426" stroke-width="0.45"/>
<circle cx="607.28" cy="347.08" r="1.85" fill="#d94f3e" stroke="#8a3426" stroke-width="0.45"/>
<circle cx="608.72" cy="348.49" r="1.85" fill="#d94f3e" stroke="#8a3426" stroke-width="0.45"/>
<circle cx="610.17" cy="349.9" r="1.85" fill="#d94f3e" stroke="#8a3426" stroke-width="0.45"/>
<circle cx="611.61" cy="351.31" r="1.85" fill="#d94f3e" stroke="#8a3426" stroke-width="0.45"/>
<circle cx="613.05" cy="352.72" r="1.85" fill="#d94f3e" stroke="#8a3426" stroke-width="0.45"/>
<circle cx="614.5" cy="354.14" r="1.85" fill="#d94f3e" stroke="#8a3426" stroke-width="0.45"/>
<circle cx="615.94" cy="355.55" r="1.85" fill="#d94f3e" stroke="#8a3426" stroke-width="0.45"/>
<circle cx="617.38" cy="356.96" r="1.85" fill="#d94f3e" stroke="#8a3426" stroke-width="0.45"/>
<circle cx="618.82" cy="358.38" r="1.85" fill="#d94f3e" stroke="#8a3426" stroke-width="0.45"/>
<circle cx="620.25" cy="359.79" r="1.85" fill="#d94f3e" stroke="#8a3426" stroke-width="0.45"/>
<circle cx="621.69" cy="361.21" r="1.85" fill="#d94f3e" stroke="#8a3426" stroke-width="0.45"/>
<circle cx="623.13" cy="362.62" r="1.85" fill="#d94f3e" stroke="#8a3426" stroke-width="0.45"/>
<circle cx="624.57" cy="364.04" r="1.85" fill="#d94f3e" stroke="#8a3426" stroke-width="0.45"/>
<circle cx="626" cy="365.46" r="1.85" fill="#d94f3e" stroke="#8a3426" stroke-width="0.45"/>
<circle cx="627.44" cy="366.88" r="1.85" fill="#d94f3e" stroke="#8a3426" stroke-width="0.45"/>
<circle cx="628.87" cy="368.3" r="1.85" fill="#d94f3e" stroke="#8a3426" stroke-width="0.45"/>
<circle cx="630.31" cy="369.72" r="1.85" fill="#d94f3e" stroke="#8a3426" stroke-width="0.45"/>
<circle cx="631.74" cy="371.14" r="1.85" fill="#d94f3e" stroke="#8a3426" stroke-width="0.45"/>
<circle cx="633.17" cy="372.56" r="1.85" fill="#d94f3e" stroke="#8a3426" stroke-width="0.45"/>
<circle cx="634.6" cy="373.98" r="1.85" fill="#d94f3e" stroke="#8a3426" stroke-width="0.45"/>
<circle cx="636.03" cy="375.41" r="1.85" fill="#d94f3e" stroke="#8a3426" stroke-width="0.45"/>
<circle cx="637.46" cy="376.83" r="1.85" fill="#d94f3e" stroke="#8a3426" stroke-width="0.45"/>
<circle cx="638.89" cy="378.25" r="1.85" fill="#d94f3e" stroke="#8a3426" stroke-width="0.45"/>
<circle cx="640.32" cy="379.68" r="1.85" fill="#d94f3e" stroke="#8a3426" stroke-width="0.45"/>
<circle cx="641.75" cy="381.1" r="1.85" fill="#d94f3e" stroke="#8a3426" stroke-width="0.45"/>
<circle cx="643.18" cy="382.53" r="1.85" fill="#d94f3e" stroke="#8a3426" stroke-width="0.45"/>
<circle cx="644.6" cy="383.96" r="1.85" fill="#d94f3e" stroke="#8a3426" stroke-width="0.45"/>
<circle cx="646.03" cy="385.39" r="1.85" fill="#d94f3e" stroke="#8a3426" stroke-width="0.45"/>
<circle cx="647.45" cy="386.82" r="1.85" fill="#d94f3e" stroke="#8a3426" stroke-width="0.45"/>
<circle cx="648.88" cy="388.25" r="1.85" fill="#d94f3e" stroke="#8a3426" stroke-width="0.45"/>
<circle cx="650.3" cy="389.68" r="1.85" fill="#d94f3e" stroke="#8a3426" stroke-width="0.45"/>
<circle cx="651.72" cy="391.11" r="1.85" fill="#d94f3e" stroke="#8a3426" stroke-width="0.45"/>
<circle cx="653.15" cy="392.54" r="1.85" fill="#d94f3e" stroke="#8a3426" stroke-width="0.45"/>
<circle cx="654.57" cy="393.97" r="1.85" fill="#d94f3e" stroke="#8a3426" stroke-width="0.45"/>
<circle cx="655.99" cy="395.4" r="1.85" fill="#d94f3e" stroke="#8a3426" stroke-width="0.45"/>
<circle cx="657.41" cy="396.84" r="1.85" fill="#d94f3e" stroke="#8a3426" stroke-width="0.45"/>
<circle cx="658.83" cy="398.27" r="1.85" fill="#d94f3e" stroke="#8a3426" stroke-width="0.45"/>
<circle cx="660.25" cy="399.71" r="1.85" fill="#d94f3e" stroke="#8a3426" stroke-width="0.45"/>
<circle cx="661.67" cy="401.14" r="1.85" fill="#d94f3e" stroke="#8a3426" stroke-width="0.45"/>
<circle cx="663.08" cy="402.58" r="1.85" fill="#d94f3e" stroke="#8a3426" stroke-width="0.45"/>
<circle cx="664.5" cy="404.02" r="1.85" fill="#d94f3e" stroke="#8a3426" stroke-width="0.45"/>
</g>
<rect x="501.4" y="247.5" width="171" height="165.7" fill="none" stroke="#8c8c8c" stroke-width="0.9"/>
<line x1="499.8" y1="400.8" x2="501.4" y2="400.8" stroke="#555" stroke-width="0.8"/>
<text x="498.9" y="404.8" font-size="10" text-anchor="end" fill="#1a1a1a" stroke="#1a1a1a" textLength="14.63" lengthAdjust="spacingAndGlyphs">1.0</text>
<line x1="499.8" y1="371.62" x2="501.4" y2="371.62" stroke="#555" stroke-width="0.8"/>
<text x="498.9" y="375.62" font-size="10" text-anchor="end" fill="#1a1a1a" stroke="#1a1a1a" textLength="14.63" lengthAdjust="spacingAndGlyphs">1.1</text>
<line x1="499.8" y1="342.44" x2="501.4" y2="342.44" stroke="#555" stroke-width="0.8"/>
<text x="498.9" y="346.44" font-size="10" text-anchor="end" fill="#1a1a1a" stroke="#1a1a1a" textLength="14.63" lengthAdjust="spacingAndGlyphs">1.2</text>
<line x1="499.8" y1="313.26" x2="501.4" y2="313.26" stroke="#555" stroke-width="0.8"/>
<text x="498.9" y="317.26" font-size="10" text-anchor="end" fill="#1a1a1a" stroke="#1a1a1a" textLength="14.63" lengthAdjust="spacingAndGlyphs">1.3</text>
<line x1="499.8" y1="284.08" x2="501.4" y2="284.08" stroke="#555" stroke-width="0.8"/>
<text x="498.9" y="288.08" font-size="10" text-anchor="end" fill="#1a1a1a" stroke="#1a1a1a" textLength="14.63" lengthAdjust="spacingAndGlyphs">1.4</text>
<line x1="499.8" y1="254.9" x2="501.4" y2="254.9" stroke="#555" stroke-width="0.8"/>
<text x="498.9" y="258.9" font-size="10" text-anchor="end" fill="#1a1a1a" stroke="#1a1a1a" textLength="14.63" lengthAdjust="spacingAndGlyphs">1.5</text>
<line x1="505.24" y1="413.2" x2="505.24" y2="415" stroke="#555" stroke-width="0.8"/>
<text x="505.24" y="423.2" font-size="10" text-anchor="middle" fill="#1a1a1a" stroke="#1a1a1a" textLength="22.34" lengthAdjust="spacingAndGlyphs">−1.2</text>
<line x1="558.56" y1="413.2" x2="558.56" y2="415" stroke="#555" stroke-width="0.8"/>
<text x="558.56" y="423.2" font-size="10" text-anchor="middle" fill="#1a1a1a" stroke="#1a1a1a" textLength="22.34" lengthAdjust="spacingAndGlyphs">−0.8</text>
<line x1="611.88" y1="413.2" x2="611.88" y2="415" stroke="#555" stroke-width="0.8"/>
<text x="611.88" y="423.2" font-size="10" text-anchor="middle" fill="#1a1a1a" stroke="#1a1a1a" textLength="22.34" lengthAdjust="spacingAndGlyphs">−0.4</text>
<line x1="665.2" y1="413.2" x2="665.2" y2="415" stroke="#555" stroke-width="0.8"/>
<text x="665.2" y="423.2" font-size="10" text-anchor="middle" fill="#1a1a1a" stroke="#1a1a1a" textLength="14.63" lengthAdjust="spacingAndGlyphs">0.0</text>
<g transform="translate(529.2 434.5)" fill="#1a1a1a">
<text x="0" y="0" font-size="10" stroke="#1a1a1a" textLength="100.4" lengthAdjust="spacingAndGlyphs">Current density (A cm</text>
<rect x="102.3" y="-5.55" width="4.5" height="0.8"/>
<text x="108.6" y="-3.2" font-size="6.4" stroke="#1a1a1a">2</text>
<text x="113" y="0" font-size="10" stroke="#1a1a1a">)</text>
</g>
<text transform="translate(481.0 330.2) rotate(-90)" font-size="10" fill="#1a1a1a" stroke="#1a1a1a" text-anchor="middle" textLength="50.91" lengthAdjust="spacingAndGlyphs">Voltage (V)</text>
<text x="511" y="355.6" font-size="10" text-anchor="start" fill="#1a1a1a" stroke="#1a1a1a" textLength="28.1" lengthAdjust="spacingAndGlyphs">700°C</text>
<text x="511" y="369.9" font-size="10" fill="#1a1a1a" stroke="#1a1a1a"><tspan textLength="30.29" lengthAdjust="spacingAndGlyphs">50% H</tspan><tspan dy="1.9" font-size="7.2">2</tspan><tspan dy="-1.9" textLength="41.11" lengthAdjust="spacingAndGlyphs">O-50% H</tspan><tspan dy="1.9" font-size="7.2">2</tspan></text>
<circle cx="519" cy="386.7" r="2.4" fill="#4566d6" stroke="#1c2450" stroke-width="0.5"/>
<circle cx="519" cy="400.1" r="2.4" fill="#d94f3e" stroke="#3a1c16" stroke-width="0.5"/>
<text x="535.8" y="389.9" font-size="10" text-anchor="start" fill="#1a1a1a" stroke="#1a1a1a" textLength="22.68" lengthAdjust="spacingAndGlyphs">LSCF</text>
<text x="535.8" y="403.5" font-size="10" fill="#1a1a1a" stroke="#1a1a1a"><tspan textLength="46.8" lengthAdjust="spacingAndGlyphs">LSCF+PrO</tspan><tspan dy="1.8" font-size="6.8" font-style="italic">x</tspan></text>
</svg></body></html>
